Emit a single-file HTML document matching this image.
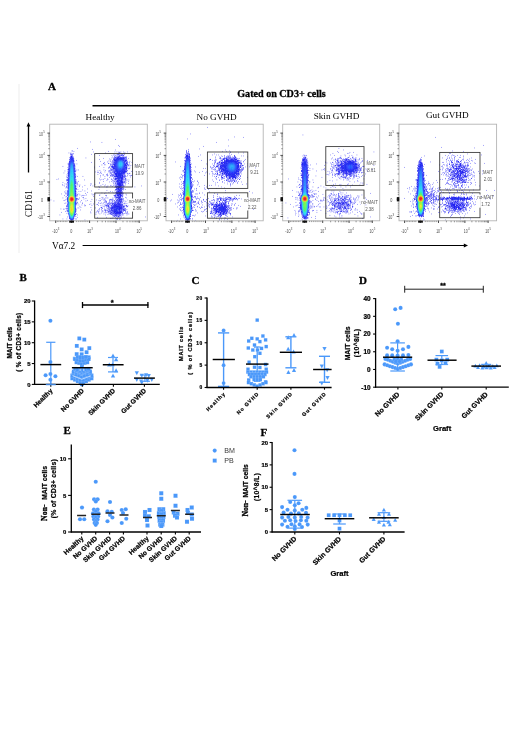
<!DOCTYPE html>
<html><head><meta charset="utf-8"><title>Figure</title>
<style>
html,body{margin:0;padding:0;background:#fff;}
body{width:520px;height:735px;overflow:hidden;font-family:"Liberation Sans",sans-serif;}
svg{display:block;will-change:transform;filter:blur(0.4px);}
.m{stroke:#fff;stroke-width:.3;stroke-opacity:.35;}
</style></head><body>
<svg width="520" height="735" viewBox="0 0 520 735">
<defs><filter id="soft" x="-2%" y="-2%" width="104%" height="104%"><feGaussianBlur stdDeviation="0.2"/></filter></defs>
<rect width="520" height="735" fill="#fff"/>
<text x="48" y="90" font-size="11" font-family='"Liberation Serif", serif' font-weight="bold" text-anchor="start" fill="#000" stroke="#000" stroke-width="0.3">A</text>
<text x="281.5" y="97.3" font-size="10.1" font-family='"Liberation Serif", serif' font-weight="bold" text-anchor="middle" fill="#000" stroke="#000" stroke-width="0.3">Gated on CD3+ cells</text>
<line x1="92.5" y1="105.7" x2="460" y2="105.7" stroke="#000" stroke-width="1.6" stroke-linecap="butt"/>
<line x1="28.5" y1="172.5" x2="28.5" y2="125.5" stroke="#000" stroke-width="1.3" stroke-linecap="butt"/>
<path d="M28.5 122.3L30.4 126.6L26.6 126.6Z" fill="#000"/>
<line x1="19" y1="84" x2="19" y2="253" stroke="#e9e9e9" stroke-width="0.8" stroke-linecap="butt"/>
<text x="31.6" y="203.5" font-size="9.3" font-family='"Liberation Serif", serif' font-weight="normal" text-anchor="middle" fill="#000" transform="rotate(-90 31.6 203.5)">CD161</text>
<text x="52" y="249" font-size="9.3" font-family='"Liberation Serif", serif' font-weight="normal" text-anchor="start" fill="#000">Vα7.2</text>
<line x1="82.6" y1="245.5" x2="465" y2="245.5" stroke="#000" stroke-width="1.2" stroke-linecap="butt"/>
<path d="M468 245.5L463.8 243.6L463.8 247.4Z" fill="#000"/>
<text x="100.1" y="119.6" font-size="9.2" font-family='"Liberation Serif", serif' font-weight="normal" text-anchor="middle" fill="#000">Healthy</text>
<g filter="url(#soft)">
<path d="M115.2 139.45h.5m-25.5 2.5h.5m11 .5h.5m16 3h.5m.5 1h.5m-42.5 2h.5m14.5 1h.5m22.5 .5h.5m-44 1h1m1 .5h.5m34 0h.5m-15.5 .5h.5m21 0h.5m1.5 0h.5m1.5 0h.5m1.5 0h.5m2 0h.5m3.5 0h.5m-9 .5h.5m.5 0h.5m4.5 0h.5m-56.5 .5h.5m1.5 0h.5m34 0h.5m13.5 0h.5m-46.5 .5h.5m44.5 0h.5m.5 0h.5m1 0h.5m2 0h.5m.5 0h.5m-54.5 .5h1m.5 0h1m44.5 0h.5m2 0h.5m1 0h.5m-51 .5h1m1 0h.5m18 0h.5m2.5 0h.5m19 0h.5m2.5 0h.5m1 0h1m2.5 0h1m1.5 0h.5m-54 .5h.5m.5 0h.5m42.5 0h.5m2 0h1m1 0h.5m.5 0h.5m1 0h.5m1.5 0h.5m-52 .5h.5m26.5 0h.5m12 0h.5m1.5 0h.5m1 0h.5m3 0h1m.5 0h.5m.5 0h1m.5 0h1m-53 .5h1.5m44 0h.5m5 0h.5m.5 0h1m-53 .5h2m41.5 0h.5m2.5 0h.5m.5 0h2m-50 .5h2m1 0h.5m38.5 0h.5m1.5 0h.5m.5 0h.5m.5 0h.5m1 0h.5m.5 0h.5m1 0h.5m1.5 0h.5m1 0h.5m.5 0h.5m.5 0h1m-57 .5h.5m.5 0h2m41.5 0h.5m.5 0h1m1 0h2.5m.5 0h1.5m.5 0h.5m.5 0h1m.5 0h1m.5 0h.5m-57 .5h1.5m.5 0h2m12 0h.5m25.5 0h.5m1 0h.5m1 0h.5m.5 0h4m.5 0h4.5m.5 0h.5m-55.5 .5h1m1 0h1.5m29.5 0h.5m10 0h.5m.5 0h.5m.5 0h.5m.5 0h2m3.5 0h2.5m.5 0h.5m.5 0h.5m1.5 0h.5m-58.5 .5h.5m2 0h.5m.5 0h.5m35 0h.5m4 0h1.5m.5 0h2.5m4.5 0h.5m.5 0h1m1.5 0h.5m-57.5 .5h1.5m2 0h1m25.5 0h.5m11 0h.5m2 0h2.5m.5 0h1m6 0h1m.5 0h.5m.5 0h.5m.5 0h.5m-54 .5h.5m41.5 0h2m6.5 0h1m.5 0h1m-53 .5h1m2 0h.5m36 0h.5m.5 0h3m8 0h2.5m-58 .5h1m3 0h1m34.5 0h.5m1 0h.5m1.5 0h.5m1 0h2.5m8.5 0h2m-57.5 .5h1m3.5 0h.5m26 0h.5m10 0h.5m1.5 0h.5m1 0h.5m.5 0h1m8.5 0h1m.5 0h.5m.5 0h.5m2 0h.5m-61 .5h.5m4 0h.5m33 0h.5m5 0h1m1 0h.5m9.5 0h1m1.5 0h.5m-58.5 .5h.5m21.5 0h.5m12.5 0h.5m7 0h.5m1.5 0h2m10.5 0h1m.5 0h.5m1 0h.5m2 0h.5m-63.5 .5h1m4 0h.5m38 0h.5m.5 0h.5m1 0h.5m10.5 0h1m.5 0h.5m-58.5 .5h.5m4 0h.5m29 0h1m4 0h1m1.5 0h.5m1.5 0h.5m1 0h1m10.5 0h2m-60 .5h2m4.5 0h1m1.5 0h.5m36 0h1m.5 0h.5m10 0h1.5m2.5 0h.5m-60.5 .5h.5m4.5 0h.5m30 0h.5m5 0h.5m.5 0h.5m.5 0h.5m.5 0h2m10 0h1m.5 0h1.5m7 0h.5m-67.5 .5h1.5m4.5 0h.5m27 0h.5m2.5 0h.5m5 0h.5m1.5 0h.5m1 0h1.5m10 0h1m1.5 0h.5m.5 0h.5m-60 .5h.5m4.5 0h1m35.5 0h.5m3 0h1m10 0h2m.5 0h1m2 0h.5m-63 .5h.5m.5 0h.5m4.5 0h.5m37 0h1.5m.5 0h1.5m10 0h1.5m3 0h.5m6.5 0h.5m-74.5 .5h.5m5.5 0h.5m5.5 0h.5m24 0h.5m10 0h.5m1 0h2.5m.5 0h1m10 0h.5m.5 0h.5m1 0h.5m-59.5 .5h.5m5 0h1m19 0h.5m15 0h.5m1.5 0h.5m.5 0h1m.5 0h1m10.5 0h1.5m-59.5 .5h.5m.5 0h.5m34.5 0h.5m5 0h.5m2 0h3m10 0h2.5m-58.5 .5h.5m5 0h1m19 0h.5m13.5 0h1m2.5 0h.5m1 0h.5m.5 0h1m10 0h.5m.5 0h1m2.5 0h.5m-61.5 .5h.5m5 0h1m35.5 0h.5m1.5 0h2.5m9.5 0h1m.5 0h1m1 0h.5m.5 0h.5m-61.5 .5h1m5.5 0h.5m35 0h.5m2 0h2m10 0h2.5m1.5 0h.5m-61.5 .5h1.5m5 0h1m35.5 0h1m.5 0h.5m1 0h.5m.5 0h1m8.5 0h1m.5 0h1m-59 .5h.5m.5 0h.5m5.5 0h.5m1.5 0h.5m1 0h.5m25 0h.5m7 0h.5m.5 0h.5m.5 0h.5m.5 0h.5m.5 0h.5m8.5 0h.5m.5 0h1.5m-58 .5h.5m5 0h.5m25 0h.5m5 0h.5m3.5 0h.5m.5 0h.5m.5 0h.5m1 0h.5m.5 0h.5m.5 0h1m8 0h1.5m.5 0h.5m.5 0h1m-63 .5h.5m3 0h1m5 0h2m21.5 0h.5m10 0h.5m1 0h.5m1.5 0h.5m1.5 0h1m.5 0h1m7.5 0h1m.5 0h1m-58.5 .5h.5m.5 0h.5m5 0h1m37.5 0h.5m1 0h.5m.5 0h1m7 0h4m4 0h.5m-63.5 .5h1m5.5 0h1m19.5 0h.5m5 0h.5m3.5 0h.5m3.5 0h1m.5 0h.5m2 0h3m7.5 0h2.5m.5 0h.5m-58.5 .5h1m28 0h.5m.5 0h.5m1.5 0h.5m9.5 0h.5m1 0h.5m.5 0h.5m1 0h1m1 0h.5m6 0h3m-62 .5h.5m3.5 0h1.5m42.5 0h.5m1.5 0h2m.5 0h.5m6 0h2m2 0h.5m-59.5 .5h1m6 0h.5m24.5 0h.5m1 0h.5m8.5 0h.5m.5 0h.5m2 0h.5m.5 0h2.5m5 0h1.5m.5 0h1m2 0h.5m1.5 0h1m-62.5 .5h1m6 0h1m31.5 0h.5m2 0h.5m4.5 0h2.5m5 0h2m.5 0h.5m2 0h.5m.5 0h.5m-60.5 .5h.5m6 0h1m22 0h.5m8.5 0h.5m4 0h.5m.5 0h.5m.5 0h.5m1 0h2.5m4.5 0h.5m.5 0h.5m.5 0h.5m-57.5 .5h.5m1 0h.5m34 0h1m2.5 0h.5m.5 0h.5m3.5 0h.5m.5 0h.5m1 0h.5m.5 0h.5m.5 0h1.5m4.5 0h1.5m1 0h1m-57.5 .5h1m6 0h.5m25 0h.5m7 0h.5m2 0h1m1.5 0h1m2 0h2m4 0h1.5m1 0h.5m.5 0h.5m1.5 0h.5m2 0h.5m.5 0h1m-63.5 .5h.5m6 0h1.5m31 0h.5m4 0h1m1 0h1m.5 0h2.5m3.5 0h2.5m1 0h.5m-58.5 .5h.5m1 0h.5m6.5 0h.5m1.5 0h.5m5 0h.5m21.5 0h.5m5.5 0h.5m1.5 0h.5m1 0h4m3.5 0h1.5m.5 0h.5m.5 0h1m1 0h.5m-59 .5h.5m6 0h1m24.5 0h.5m13.5 0h.5m.5 0h3m3 0h1.5m.5 0h2m5 0h.5m-64 .5h1m7 0h1m33.5 0h.5m7.5 0h1m3 0h2m.5 0h.5m.5 0h.5m-57.5 .5h.5m6.5 0h.5m38 0h1m1 0h.5m1 0h.5m.5 0h.5m2.5 0h2m-54.5 .5h.5m6 0h.5m29.5 0h.5m9.5 0h3.5m2.5 0h2.5m.5 0h.5m1 0h1m-68 .5h.5m9 0h1m6.5 0h.5m23.5 0h.5m7.5 0h.5m3.5 0h.5m2 0h.5m1 0h.5m.5 0h1m.5 0h1m2.5 0h1.5m1 0h.5m1 0h.5m-69 .5h.5m9 0h.5m.5 0h.5m.5 0h.5m6 0h1m26 0h.5m1 0h.5m4 0h.5m3 0h.5m2.5 0h.5m.5 0h1m.5 0h.5m.5 0h1m2.5 0h1.5m.5 0h.5m.5 0h.5m.5 0h.5m1 0h.5m-60 .5h1.5m6 0h.5m1 0h.5m7.5 0h.5m15.5 0h.5m11.5 0h.5m2 0h1.5m.5 0h.5m.5 0h1m2 0h2.5m2 0h.5m3 0h.5m-63 .5h.5m.5 0h1.5m6 0h1m31 0h.5m5.5 0h.5m.5 0h.5m2.5 0h2m2 0h1.5m.5 0h.5m3.5 0h.5m-60.5 .5h.5m1 0h.5m6 0h.5m41.5 0h2m1.5 0h2m1.5 0h.5m.5 0h1m-57.5 .5h.5m6 0h1.5m2 0h.5m24.5 0h.5m7.5 0h.5m2 0h1m1 0h1m.5 0h1.5m1.5 0h3m1 0h.5m3.5 0h.5m-61 .5h1m6 0h.5m1.5 0h.5m32 0h.5m3 0h.5m2.5 0h3.5m1 0h2.5m.5 0h.5m.5 0h.5m1 0h.5m-63.5 .5h.5m4 0h1m6.5 0h1m23.5 0h.5m14 0h.5m1.5 0h.5m1 0h.5m.5 0h1m1 0h3.5m.5 0h.5m1 0h.5m-58.5 .5h1m6.5 0h1.5m.5 0h.5m37.5 0h.5m1.5 0h1m.5 0h1.5m.5 0h2.5m1 0h.5m-57 .5h1m6.5 0h1m23 0h.5m13.5 0h.5m1.5 0h.5m1 0h5m.5 0h.5m2.5 0h.5m2.5 0h.5m-64 .5h.5m1 0h.5m1 0h.5m9 0h.5m12.5 0h.5m.5 0h.5m23 0h1m.5 0h.5m.5 0h.5m.5 0h3.5m.5 0h1.5m-61.5 .5h.5m5 0h1m26 0h.5m7.5 0h.5m13.5 0h4.5m.5 0h1m-56 .5h.5m1 0h.5m7 0h.5m.5 0h.5m.5 0h.5m1.5 0h.5m25 0h.5m8 0h.5m1.5 0h.5m.5 0h.5m1 0h5m2 0h.5m-63 .5h.5m4.5 0h.5m7 0h.5m9 0h.5m5 0h.5m10 0h.5m9.5 0h.5m2.5 0h.5m2 0h.5m1.5 0h4.5m.5 0h.5m-59.5 .5h.5m3 0h.5m7 0h.5m3.5 0h.5m13 0h.5m11 0h.5m3 0h.5m2.5 0h.5m4 0h1m.5 0h1.5m.5 0h2.5m1.5 0h1m.5 0h.5m16.5 0h.5m-75.5 .5h.5m1 0h.5m7 0h1m3 0h.5m19 0h.5m7.5 0h.5m5 0h.5m2.5 0h1.5m.5 0h4.5m.5 0h.5m1 0h.5m-58 .5h.5m8.5 0h.5m1 0h.5m5 0h.5m33.5 0h2m.5 0h.5m.5 0h1m.5 0h.5m1.5 0h.5m11 0h.5m-68.5 .5h.5m.5 0h.5m7 0h.5m23.5 0h.5m7 0h.5m7.5 0h.5m.5 0h1m1 0h3m.5 0h1.5m-57 .5h.5m1.5 0h.5m7 0h.5m40.5 0h1m.5 0h2.5m.5 0h.5m1 0h.5m.5 0h.5m-56 .5h.5m7 0h1.5m39.5 0h.5m.5 0h2m.5 0h2.5m.5 0h.5m-48 .5h.5m.5 0h.5m10.5 0h.5m29 0h2.5m.5 0h2.5m1 0h1m-49 .5h.5m.5 0h.5m1 0h.5m20.5 0h.5m16 0h2m.5 0h3m1 0h1m2.5 0h.5m-58 .5h.5m7 0h.5m6.5 0h.5m33 0h.5m.5 0h.5m.5 0h1m.5 0h.5m.5 0h2m1 0h.5m-56.5 .5h.5m7.5 0h.5m31 0h.5m8.5 0h.5m1.5 0h.5m.5 0h3m-56 .5h.5m1.5 0h.5m7 0h1m8.5 0h.5m6 0h.5m23 0h.5m1.5 0h3.5m1 0h1m-55 .5h1m7 0h1m2.5 0h.5m1.5 0h.5m29 0h.5m6 0h.5m.5 0h1.5m.5 0h1.5m.5 0h.5m-58 .5h.5m10.5 0h1m36 0h.5m3.5 0h4.5m.5 0h.5m.5 0h.5m-57 .5h.5m1 0h.5m7.5 0h.5m11.5 0h.5m21 0h.5m6 0h.5m.5 0h1.5m.5 0h4m.5 0h.5m-56 .5h1m7 0h.5m1 0h.5m24.5 0h.5m3.5 0h.5m7.5 0h.5m1.5 0h3m.5 0h2.5m.5 0h.5m-57 .5h.5m9 0h1m9 0h.5m18.5 0h.5m11.5 0h6.5m.5 0h.5m-62.5 .5h.5m4 0h.5m.5 0h1.5m7 0h1m2.5 0h.5m12.5 0h.5m3 0h.5m20 0h.5m.5 0h1.5m.5 0h2.5m1.5 0h.5m2.5 0h.5m-58.5 .5h.5m7 0h.5m1.5 0h.5m16 0h.5m21 0h.5m.5 0h.5m.5 0h.5m.5 0h3m.5 0h.5m-55 .5h.5m7.5 0h1.5m.5 0h.5m2 0h.5m6 0h.5m6 0h.5m6.5 0h.5m16.5 0h4.5m1 0h1m3 0h.5m-62.5 .5h.5m2.5 0h1m7 0h1m6 0h.5m.5 0h.5m1 0h.5m14 0h.5m5.5 0h.5m.5 0h.5m7 0h2.5m.5 0h2.5m.5 0h2.5m-54.5 .5h.5m7 0h.5m.5 0h.5m.5 0h.5m3.5 0h.5m24.5 0h.5m8.5 0h.5m1.5 0h.5m.5 0h1m.5 0h1.5m.5 0h.5m.5 0h.5m-57 .5h.5m8.5 0h1m17 0h.5m22 0h.5m2 0h1.5m.5 0h1m1 0h.5m-57 .5h.5m9.5 0h.5m38 0h2.5m.5 0h1m1 0h2m.5 0h1m-55.5 .5h.5m15 0h1m18 0h.5m.5 0h.5m13 0h4.5m4.5 0h.5m-63 .5h.5m4 0h.5m8 0h.5m3 0h.5m25.5 0h.5m1 0h.5m.5 0h.5m4.5 0h.5m2 0h.5m.5 0h1m1.5 0h2m5.5 0h.5m-59.5 .5h.5m8 0h2m8 0h.5m13.5 0h.5m2.5 0h.5m15 0h1.5m1 0h1m.5 0h.5m.5 0h.5m-57 .5h1m11 0h.5m4.5 0h.5m20 0h.5m8 0h.5m2 0h.5m1 0h1m.5 0h1.5m.5 0h1.5m-56 .5h.5m1 0h.5m8 0h1m.5 0h.5m.5 0h.5m13 0h.5m9.5 0h.5m2.5 0h.5m5 0h1.5m1 0h.5m2.5 0h.5m1 0h.5m1.5 0h3.5m.5 0h.5m-73 .5h.5m16 0h.5m8 0h1m19.5 0h.5m6.5 0h.5m5.5 0h1m2 0h.5m4 0h3.5m.5 0h.5m.5 0h.5m5.5 0h.5m12 0h.5m-77 .5h.5m.5 0h.5m2 0h.5m8 0h.5m5 0h.5m5.5 0h.5m11 0h.5m1 0h.5m4 0h.5m6.5 0h.5m1.5 0h1m1.5 0h1m1.5 0h2m.5 0h.5m-68 .5h.5m13 0h.5m8 0h.5m.5 0h.5m8.5 0h.5m13.5 0h.5m5 0h1m3 0h.5m1 0h.5m1 0h.5m2 0h.5m1 0h.5m.5 0h2m1.5 0h1.5m.5 0h1m1 0h.5m-58 .5h1m22.5 0h.5m15 0h.5m5.5 0h.5m2 0h.5m.5 0h.5m2.5 0h3m4 0h.5m-58.5 .5h.5m7 0h1m4 0h.5m13.5 0h.5m9.5 0h.5m.5 0h.5m.5 0h.5m2.5 0h.5m4 0h.5m1 0h.5m.5 0h3m.5 0h.5m1 0h.5m.5 0h.5m-55 .5h.5m7 0h.5m1 0h1m20.5 0h.5m6 0h.5m1 0h.5m3 0h.5m1 0h.5m2.5 0h1.5m.5 0h.5m1 0h1.5m.5 0h1.5m.5 0h.5m6.5 0h.5m-63.5 .5h.5m1.5 0h.5m7 0h1m6 0h.5m18.5 0h.5m1.5 0h.5m4.5 0h.5m1 0h.5m2 0h1m2 0h.5m1 0h1m2 0h1m1 0h1m2 0h.5m-60.5 .5h.5m2.5 0h.5m7 0h1.5m1 0h.5m4 0h.5m16 0h.5m1 0h.5m7 0h1m.5 0h.5m1 0h.5m.5 0h1m.5 0h1.5m.5 0h1m1 0h3m.5 0h.5m2.5 0h.5m.5 0h.5m1.5 0h.5m4 0h.5m-64.5 .5h.5m7.5 0h.5m.5 0h.5m14 0h.5m2 0h.5m9 0h.5m2.5 0h.5m.5 0h1m2.5 0h1m.5 0h.5m.5 0h.5m.5 0h1m.5 0h.5m.5 0h3m.5 0h1m.5 0h.5m3 0h.5m4 0h.5m-62.5 .5h1m7 0h1m13 0h.5m7 0h1m9.5 0h.5m1.5 0h.5m2.5 0h1m.5 0h2m.5 0h1.5m.5 0h2.5m.5 0h1.5m-47.5 .5h.5m1 0h.5m1.5 0h.5m2.5 0h.5m2 0h.5m19.5 0h.5m1 0h.5m2 0h1m.5 0h.5m2 0h.5m1.5 0h3m.5 0h3.5m1 0h1m-57 .5h.5m.5 0h.5m7.5 0h.5m9.5 0h.5m6 0h.5m6 0h.5m2 0h.5m4 0h.5m.5 0h1m.5 0h1m2 0h1.5m.5 0h4m.5 0h1.5m.5 0h3.5m1 0h.5m1.5 0h1.5m1 0h.5m-61.5 .5h1m7 0h.5m9 0h.5m17.5 0h.5m2.5 0h1m.5 0h1.5m5 0h.5m.5 0h5m5 0h.5m-59 .5h1m.5 0h.5m7 0h.5m4 0h.5m23.5 0h.5m3.5 0h1.5m2.5 0h1m.5 0h9m.5 0h2m1.5 0h.5m.5 0h1m-60.5 .5h.5m7 0h.5m28.5 0h.5m1.5 0h.5m2.5 0h.5m1 0h4.5m.5 0h4.5m.5 0h1m.5 0h1.5m3 0h.5m-52 .5h.5m5 0h.5m9.5 0h.5m9.5 0h1.5m6.5 0h.5m.5 0h.5m.5 0h.5m.5 0h4.5m2 0h4m1 0h.5m-57 .5h.5m.5 0h.5m7 0h.5m2 0h.5m.5 0h.5m16 0h.5m11 0h.5m1 0h1m1.5 0h2m1.5 0h.5m.5 0h.5m3 0h3m.5 0h1m.5 0h1m-59 .5h.5m.5 0h.5m.5 0h.5m7 0h1m23 0h.5m2 0h1m4.5 0h.5m1.5 0h.5m.5 0h.5m.5 0h3.5m.5 0h.5m3 0h4m2 0h1m-65 .5h.5m2.5 0h.5m2.5 0h.5m.5 0h.5m7 0h.5m28.5 0h.5m3.5 0h.5m1.5 0h1.5m.5 0h.5m1 0h1.5m3.5 0h3m1.5 0h1m-60.5 .5h.5m11 0h1m22.5 0h.5m2 0h.5m3.5 0h.5m3 0h1m1.5 0h1m1 0h.5m.5 0h1m3.5 0h1.5m1 0h.5m1 0h2m2 0h.5m-60.5 .5h.5m.5 0h.5m7 0h.5m.5 0h.5m3.5 0h.5m10.5 0h.5m7.5 0h.5m4.5 0h.5m2 0h.5m.5 0h.5m1.5 0h.5m1 0h4m3.5 0h4.5m1.5 0h1.5m-58.5 .5h.5m7 0h.5m29 0h1m1 0h.5m.5 0h.5m1.5 0h.5m.5 0h1m.5 0h1.5m.5 0h1.5m3 0h1m.5 0h.5m.5 0h.5m1.5 0h2m-58.5 .5h1.5m7 0h1m21 0h1m3 0h.5m.5 0h1m2 0h1m1.5 0h.5m1 0h1.5m.5 0h1m.5 0h.5m.5 0h2.5m2.5 0h1.5m1 0h.5m1 0h.5m2 0h.5m-60.5 .5h.5m2 0h.5m7 0h1m22.5 0h.5m9 0h1m.5 0h.5m2 0h.5m.5 0h3.5m.5 0h1.5m.5 0h2.5m1.5 0h.5m3.5 0h.5m-60 .5h.5m22 0h.5m5.5 0h.5m1.5 0h.5m4 0h.5m2 0h.5m2 0h.5m.5 0h.5m.5 0h2m.5 0h1.5m.5 0h4.5m.5 0h3.5m2.5 0h1m-65 .5h.5m13.5 0h.5m29 0h.5m1.5 0h.5m1.5 0h.5m1.5 0h1m2 0h1.5m.5 0h7m4.5 0h.5m-52.5 .5h.5m15 0h.5m4.5 0h.5m2 0h.5m2.5 0h.5m4 0h.5m2.5 0h.5m1.5 0h10.5m5.5 0h.5m-60.5 .5h.5m1 0h.5m6 0h.5m1 0h.5m33 0h1m2 0h1m1 0h6.5m1 0h.5m1.5 0h.5m1 0h.5m.5 0h.5m-59 .5h.5m31 0h.5m3.5 0h.5m4.5 0h.5m.5 0h1.5m.5 0h.5m.5 0h1m.5 0h2.5m.5 0h.5m.5 0h1.5m1 0h.5m1 0h1.5m4 0h.5m.5 0h.5m-54.5 .5h1.5m19.5 0h.5m11.5 0h.5m3 0h1m3 0h.5m.5 0h.5m.5 0h.5m2 0h.5m1.5 0h.5m-62.5 .5h.5m8.5 0h.5m5.5 0h1m1.5 0h.5m27.5 0h.5m6.5 0h1m.5 0h1.5m.5 0h1.5m.5 0h3m6 0h.5m-53 .5h.5m38.5 0h.5m1 0h1.5m.5 0h.5m.5 0h.5m1 0h.5m1 0h.5m1.5 0h.5m-54.5 .5h.5m5 0h.5m38 0h.5m.5 0h.5m2 0h1m2.5 0h.5m.5 0h.5m-52 .5h.5m5 0h.5m.5 0h.5m38 0h1m1 0h.5m1 0h1.5m-52 .5h.5m1.5 0h.5m4 0h.5m39.5 0h.5m1.5 0h.5m1.5 0h1m.5 0h.5m1.5 0h.5m23.5 0h.5m-76.5 .5h.5m7.5 0h.5m19.5 0h.5m8.5 0h.5m8.5 0h.5m2 0h.5m2.5 0h.5m2.5 0h.5m-55 .5h.5m4 0h.5m38.5 0h.5m6 0h.5m-50.5 .5h1m3 0h1m36 0h.5m1 0h.5m4.5 0h1m3 0h.5m-58.5 .5h.5m3.5 0h.5m2.5 0h.5m5 0h.5m.5 0h.5m39 0h1m3.5 0h.5m-50.5 .5h.5m2 0h1m43.5 0h.5m1.5 0h.5m-49 .5h.5m1 0h.5m12 0h.5m-17 .5h.5m1.5 0h.5m.5 0h.5m.5 0h1m1.5 0h.5" stroke="rgb(10,10,240)" stroke-width="0.72" fill="none"/>
<path d="M71.2 158.45h1m46.5 0h3.5m-51.5 .5h2m45.5 0h4.5m-52 .5h2m44.5 0h2m3 0h1m-53 .5h.5m.5 0h2m44 0h1m4.5 0h1m-53.5 .5h1m1.5 0h.5m43.5 0h1m5.5 0h1m-54 .5h.5m2 0h.5m43 0h1m6.5 0h1m-54.5 .5h.5m2.5 0h.5m42.5 0h1m6.5 0h1m-55 .5h.5m3 0h.5m42 0h1m7.5 0h.5m-55 .5h.5m3 0h.5m42 0h1m7.5 0h1m-55.5 .5h.5m45 0h1.5m7.5 0h.5m-55 .5h.5m3 0h.5m41.5 0h1m8.5 0h.5m-55.5 .5h.5m45 0h1m8.5 0h.5m-10 .5h1m8.5 0h.5m-51.5 .5h.5m41 0h.5m9 0h.5m-51.5 .5h.5m41 0h1m8.5 0h.5m-51.5 .5h.5m41 0h1m8 0h1m-56 .5h.5m4 0h.5m41 0h1m8 0h1m-56 .5h.5m4 0h.5m41 0h1m8 0h1m-51.5 .5h.5m41 0h1m8 0h.5m-55.5 .5h.5m4 0h.5m41 0h.5m8 0h1m-55.5 .5h.5m4 0h.5m41 0h1.5m7 0h1m-55.5 .5h.5m4 0h.5m41 0h1.5m6.5 0h1.5m-55.5 .5h.5m46 0h1m6.5 0h1m-55 .5h.5m46 0h1.5m5.5 0h1.5m-55 .5h.5m46 0h1.5m5 0h1.5m-7.5 .5h1.5m4.5 0h1.5m-7.5 .5h2m3.5 0h1.5m-7 .5h2m3 0h2m-49 .5h.5m42 0h2m2 0h2m-48.5 .5h.5m42 0h6m-54 .5h.5m5 0h.5m42.5 0h5m-53.5 .5h.5m5 0h.5m42.5 0h5m-53.5 .5h.5m5 0h.5m42.5 0h4.5m-53 .5h.5m5 0h.5m43 0h4m-53 .5h.5m5 0h.5m43 0h4m-53 .5h.5m5 0h.5m43 0h3.5m-52.5 .5h.5m5 0h.5m43.5 0h3m-52.5 .5h.5m5 0h.5m43.5 0h1m.5 0h1.5m-52.5 .5h.5m49 0h3m-52.5 .5h.5m49 0h2.5m-52 .5h.5m49 0h2.5m-52 .5h.5m49.5 0h.5m.5 0h.5m-51.5 .5h.5m49.5 0h1m.5 0h.5m-2 .5h2m-2 .5h2m-1.5 .5h1m-1.5 .5h.5m.5 0h.5m-1 .5h1m-1 .5h1m-45.5 .5h.5m-.5 .5h.5m-.5 .5h.5m-.5 .5h.5m-.5 .5h.5m-7 .5h.5m6 0h.5m-7 .5h.5m6 0h.5m-7 .5h.5m6 0h.5m-7 .5h.5m6 0h.5m-7 .5h.5m6 0h.5m-7 .5h.5m6 0h.5m-7 .5h.5m6 0h.5m-7 .5h.5m6 0h.5m-7 .5h.5m6 0h.5m-.5 .5h.5m-7 .5h.5m6 0h.5m-7 .5h.5m6 0h.5m-7 .5h.5m6 0h.5m-7 .5h.5m-.5 .5h.5m-.5 .5h.5m-.5 .5h.5m-.5 .5h.5m-.5 .5h.5m-.5 .5h.5m-.5 1h.5m-1 1.5h.5m7 0h.5m-8 .5h.5m-.5 .5h.5m-.5 .5h.5m-.5 .5h.5m-.5 .5h.5m-.5 .5h.5m7 .5h.5m-.5 .5h.5m-7.5 1h.5m-.5 .5h.5m47.5 4.5h2m-2.5 .5h1m.5 0h1.5m-3 .5h3m-3.5 .5h3.5m-3.5 .5h2m.5 0h1m-3.5 .5h3.5m-3 .5h1.5m.5 0h.5m-2 .5h2m-50 .5h.5m48 0h.5m-49 .5h.5m6 .5h.5m-.5 .5h.5m-6.5 1h.5m-.5 .5h.5m5 0h.5m-.5 .5h.5m-5.5 1h.5m4 .5h.5m-4.5 1h.5m-.5 .5h.5m3 0h.5m-3.5 1h.5m2 0h.5m-2.5 .5h.5m1 0h.5m-1.5 .5h1" stroke="rgb(10,20,240)" stroke-width="0.72" fill="none"/>
<path d="M119.2 159.45h3m-4 .5h1m3 0h.5m-51.5 .5h1.5m45 0h.5m4.5 0h.5m-52.5 .5h.5m1 0h.5m44.5 0h.5m5.5 0h.5m-51 .5h.5m44 0h.5m-47.5 .5h.5m2 0h.5m43.5 0h.5m6.5 0h.5m-54 .5h.5m46 0h.5m6.5 0h.5m-8 1h.5m7.5 0h.5m-51.5 .5h.5m42.5 0h.5m7.5 0h.5m-55 .5h.5m3 0h.5m42.5 0h.5m7.5 0h.5m-55 .5h.5m3 0h.5m42.5 0h.5m7.5 0h.5m-55 .5h.5m46 0h.5m7.5 0h.5m-55 .5h.5m46 0h.5m-.5 .5h.5m7 0h.5m-8 .5h.5m7 0h.5m-8 .5h.5m7 0h.5m-8 .5h1m6 0h.5m-7 .5h.5m6 0h.5m-7 .5h.5m5.5 0h.5m-49.5 .5h.5m42.5 0h1m4.5 0h1m-49.5 .5h.5m43 0h1m3.5 0h1m-49 .5h.5m43 0h1m3 0h1m-53 .5h.5m4 0h.5m43.5 0h1m2 0h1.5m-53 .5h.5m48.5 0h3.5m-52.5 .5h.5m48.5 0h3m-52 .5h.5m49 0h1.5m-46 5h.5m-.5 .5h.5m-.5 .5h.5m-.5 .5h.5m-.5 .5h.5m-6 .5h.5m5 0h.5m-6 .5h.5m-.5 .5h.5m-.5 .5h.5m-.5 .5h.5m-.5 .5h.5m5.5 9.5h.5m-.5 .5h.5m-.5 .5h.5m-.5 .5h.5m-.5 .5h.5m-.5 .5h.5m-.5 .5h.5m-.5 .5h.5m-.5 .5h.5m-7 .5h.5m6.5 1.5h.5m-.5 .5h.5m-.5 1.5h.5m-.5 .5h.5m-7.5 1.5h.5m6 .5h.5m-.5 .5h.5m-7 .5h.5m-.5 .5h.5m-.5 6.5h.5m-.5 .5h.5m6 .5h.5m-.5 .5h.5m-6.5 1.5h.5m5 .5h.5m-5.5 1.5h.5m4 .5h.5m-1 1.5h.5m-3.5 1h.5m2 0h.5m-2.5 .5h.5m0 .5h1" stroke="rgb(10,20,250)" stroke-width="0.72" fill="none"/>
<path d="M119.2 159.95h.5m2.5 .5h.5m0 .5h.5m-51 .5h.5m44.5 .5h.5m6 1h.5m-7.5 .5h.5m6.5 2h.5m-51 .5h.5m43 .5h.5m-47.5 .5h.5m46.5 0h.5m0 1.5h.5m4.5 .5h.5m-5 .5h.5m3.5 0h.5m-4 .5h.5m2.5 0h.5m-3 .5h.5m1.5 0h.5m-47.5 2h.5m-5 1h.5m4.5 8h.5m-6 2h.5m-.5 .5h.5" stroke="rgb(0,30,250)" stroke-width="0.72" fill="none"/>
<path d="M119.7 159.95h.5m.5 0h1m-3 .5h.5m-1 .5h.5m-47.5 .5h1m45.5 0h.5m-47.5 .5h.5m1 0h.5m50.5 0h.5m-6.5 .5h.5m-45 .5h.5m-3 .5h.5m53 0h.5m-7.5 .5h.5m6.5 0h.5m-7.5 .5h.5m6.5 0h.5m-7.5 .5h.5m6.5 0h.5m-7.5 .5h.5m-.5 .5h.5m-44 .5h.5m49.5 .5h.5m-54 .5h.5m-.5 .5h.5m47 0h.5m5 0h.5m-1 .5h.5m-5 .5h.5m0 .5h.5m2.5 0h.5m-3 .5h.5m1.5 0h.5m-2 .5h1.5m-47 2.5h.5m-5 1h.5m-.5 .5h.5m4.5 7.5h.5m-.5 .5h.5m-.5 .5h.5m-6 1.5h.5m-.5 .5h.5m-.5 .5h.5m5.5 11h.5m-.5 7.5h.5m-.5 .5h.5m-.5 6h.5m-1.5 5h.5m-3 3.5h.5" stroke="rgb(0,40,250)" stroke-width="0.72" fill="none"/>
<path d="M120.2 159.95h.5m1 .5h.5m.5 1h.5m-52 .5h1m-1.5 .5h.5m52 0h.5m-6.5 .5h.5m-45 .5h.5m-3 .5h.5m52.5 2.5h.5m-50.5 .5h.5m43.5 0h.5m-44.5 .5h.5m43.5 0h.5m5 0h.5m-53.5 1h.5m47.5 0h.5m-48.5 .5h.5m48 0h.5m3 0h.5m-3.5 .5h.5m1.5 0h.5m-2 .5h1.5m-47 3.5h.5m-.5 .5h.5m-5 1h.5m-.5 .5h.5m4.5 8h.5m-.5 .5h.5m-6 2h.5m-.5 .5h.5m-.5 .5h.5m-1 10h.5m6 5h.5m-.5 3h.5m-.5 .5h.5m-.5 .5h.5m-.5 .5h.5m-.5 .5h.5m-.5 .5h.5m-.5 .5h.5m-.5 .5h.5m-.5 .5h.5m-.5 .5h.5m-.5 .5h.5m-6.5 3h.5m5 .5h.5m-5.5 1.5h.5m3.5 2h.5m-3.5 1h.5m1 1h.5" stroke="rgb(0,50,250)" stroke-width="0.72" fill="none"/>
<path d="M121.7 159.95h.5m-4 .5h.5m-47.5 .5h1m45.5 0h.5m-47.5 .5h.5m1.5 1h.5m-3 .5h.5m46 0h.5m-44 2.5h.5m50 .5h.5m-54.5 .5h.5m46.5 1h.5m6 0h.5m-1 1h.5m-6 .5h.5m.5 1.5h.5m0 .5h2m-47 .5h.5m-.5 .5h.5m-5 1h.5m4.5 7.5h.5m-.5 .5h.5m-6 2h.5m6 16h.5m-.5 .5h.5m-1 4h.5m-7 1h.5m-.5 .5h.5m-.5 .5h.5m-.5 .5h.5m-.5 .5h.5m-.5 .5h.5m-.5 .5h.5m-.5 .5h.5m-.5 .5h.5m-.5 .5h.5m-.5 .5h.5m-.5 .5h.5m6 1h.5m-5.5 6h.5m2 2h.5" stroke="rgb(10,30,250)" stroke-width="0.72" fill="none"/>
<path d="M119.2 160.45h.5m2.5 .5h.5m-4.5 .5h.5m-1 .5h.5m-46 .5h.5m-2 .5h.5m46 .5h.5m-45 .5h.5m-3 .5h.5m46.5 1.5h.5m5.5 0h.5m-6.5 .5h.5m-44.5 1.5h.5m44 0h.5m4 0h.5m-49.5 .5h.5m44.5 0h.5m3 0h.5m-3.5 .5h.5m2 0h.5m-52 .5h.5m49 0h1.5m-47 5h.5m-.5 .5h.5m-5 1h.5m-.5 .5h.5m4.5 8h.5m-.5 .5h.5m-6 2.5h.5m-.5 .5h.5m-.5 .5h.5m-.5 .5h.5m-1 12.5h.5m1 15h.5m2.5 1.5h.5" stroke="rgb(0,60,250)" stroke-width="0.72" fill="none"/>
<path d="M119.7 160.45h2m-3 .5h.5m3.5 1h.5m-52 .5h1m45.5 0h.5m-46 .5h.5m50.5 0h.5m-.5 .5h.5m-6.5 .5h.5m-45 .5h.5m44 0h.5m-47.5 .5h.5m46.5 0h.5m-.5 .5h.5m5.5 0h.5m-6 1.5h.5m4.5 0h.5m-5.5 .5h.5m0 .5h.5m0 .5h.5m-46 .5h.5m45.5 0h2m-48 .5h.5m-4 .5h.5m-.5 .5h.5m3.5 5h.5m-5 1.5h.5m-.5 .5h.5m4.5 8h.5m-.5 .5h.5m-.5 .5h.5m-.5 .5h.5m-6 2.5h.5m-.5 .5h.5m-.5 .5h.5m1.5 28h.5" stroke="rgb(0,70,250)" stroke-width="0.72" fill="none"/>
<path d="M119.2 160.95h.5m2 0h.5m0 .5h.5m-4.5 .5h.5m-47.5 1h1m45.5 0h.5m-47.5 .5h.5m1 0h.5m50.5 .5h.5m-.5 .5h.5m-51 .5h.5m50 0h.5m-53.5 .5h.5m-.5 .5h.5m47 .5h.5m4.5 0h.5m-1 1h.5m-1 .5h.5m-1 .5h.5m-48.5 1.5h.5m-4 1h.5m-.5 .5h.5m3.5 4.5h.5m-.5 .5h.5m-5 1.5h.5m-.5 .5h.5m-.5 .5h.5m4.5 8.5h.5m-.5 .5h.5m-.5 .5h.5m-6 2.5h.5m-.5 .5h.5m5.5 5.5h.5m-1 16h.5m-1 2h.5m-1 1.5h.5m-1.5 2h.5" stroke="rgb(0,80,250)" stroke-width="0.72" fill="none"/>
<path d="M119.7 160.95h.5m.5 0h1m.5 1h.5m-4.5 .5h.5m4 .5h.5m-51.5 .5h.5m45.5 .5h.5m-47.5 .5h.5m46.5 0h.5m-.5 .5h.5m-.5 .5h.5m4.5 .5h.5m-50.5 .5h.5m-3 .5h.5m47.5 0h.5m-48.5 .5h.5m48 0h.5m2.5 0h.5m-3 .5h.5m1.5 0h.5m-48.5 3.5h.5m-4 1h.5m-.5 .5h.5m3.5 5.5h.5m-.5 .5h.5m-5 1.5h.5m4.5 10h.5m-.5 .5h.5m-6 2.5h.5m-.5 .5h.5m-.5 .5h.5m-.5 .5h.5m-.5 .5h.5m.5 20.5h.5m1 2.5h1" stroke="rgb(0,100,250)" stroke-width="0.72" fill="none"/>
<path d="M120.2 160.95h.5m-1.5 .5h.5m2 0h.5m-3.5 .5h.5m-1 1h.5m4 .5h.5m-52 .5h1m0 .5h.5m-2 .5h.5m51.5 0h.5m-.5 .5h.5m-5 1h.5m3.5 0h.5m-50 .5h.5m-.5 .5h.5m-3 .5h.5m49 0h1.5m-48 4h.5m-.5 .5h.5m-4 1h.5m3.5 6h.5m-.5 .5h.5m-5 1h.5m-.5 .5h.5m4.5 10h.5m-.5 .5h.5m-6.5 5.5h.5m0 14.5h.5m3.5 5.5h.5" stroke="rgb(0,110,250)" stroke-width="0.72" fill="none"/>
<path d="M118.7 161.45h.5m3.5 1h.5m-52 1h.5m46 0h.5m-47.5 .5h.5m1 0h.5m0 1.5h.5m-.5 .5h.5m44.5 0h.5m-48 .5h.5m51.5 .5h.5m-4.5 .5h.5m0 .5h.5m0 .5h2m-48 2h.5m-.5 .5h.5m-4 1h.5m3.5 5h.5m-.5 .5h.5m-.5 .5h.5m-5 1.5h.5m-.5 .5h.5m4.5 9h.5m-.5 .5h.5m-.5 .5h.5m-6 2h.5m-.5 .5h.5m-.5 .5h.5m-.5 3h.5m5.5 5.5h.5m-6.5 11h.5m0 2h.5m.5 3h.5" stroke="rgb(0,90,250)" stroke-width="0.72" fill="none"/>
<path d="M119.7 161.45h.5m1 0h.5m.5 1h.5m-4.5 1h.5m4 .5h.5m-52 .5h1m50.5 0h.5m-51 .5h.5m-2 .5h.5m1 0h.5m45.5 0h.5m-.5 .5h.5m3.5 0h.5m-4 1h.5m2.5 0h.5m-3 .5h1m.5 0h1m-49 .5h.5m-3 .5h.5m2 0h.5m-3 .5h.5m2.5 4h.5m-.5 .5h.5m-4 .5h.5m-.5 .5h.5m3.5 6h.5m-.5 .5h.5m-5 1h.5m-.5 .5h.5m4.5 10h.5m-.5 .5h.5m-.5 .5h.5m-.5 1.5h.5m-.5 .5h.5m-.5 .5h.5m-6.5 5h.5m0 1.5h.5m-.5 .5h.5m5 9.5h.5m-1 2h.5m-3.5 3.5h.5" stroke="rgb(0,120,250)" stroke-width="0.72" fill="none"/>
<path d="M120.2 161.45h1m-2 .5h.5m2 0h.5m-3.5 .5h.5m3 .5h.5m-4.5 1h.5m-.5 .5h.5m-47.5 .5h1m46 0h.5m-47.5 .5h.5m50.5 0h.5m-52 .5h.5m1 0h.5m-2 .5h.5m47.5 0h.5m2.5 0h.5m-3 .5h.5m1.5 0h.5m-1.5 .5h.5m-48 1.5h.5m-3 .5h.5m2 0h.5m-3 .5h.5m2.5 4h.5m-4 1h.5m-.5 .5h.5m3.5 6h.5m-.5 .5h.5m-5 1h.5m-.5 .5h.5m4.5 10.5h.5m-.5 .5h.5m-6 9h.5m-.5 8h.5m0 2.5h.5m3.5 2h.5m-3.5 1h.5m1.5 1h.5" stroke="rgb(0,130,250)" stroke-width="0.72" fill="none"/>
<path d="M119.7 161.95h.5m1 0h.5m0 .5h.5m-3.5 .5h.5m3 .5h.5m-.5 1.5h.5m-51 .5h.5m-1 .5h1m46.5 0h.5m-47 .5h.5m46.5 0h.5m-49 .5h.5m1 0h.5m47 0h1.5m-50.5 .5h.5m1.5 2.5h.5m-3 .5h.5m2 0h.5m-3 .5h.5m-.5 .5h.5m2.5 3h.5m-.5 .5h.5m-4 1h.5m-.5 .5h.5m3.5 6h.5m-.5 .5h.5m-5 1h.5m-.5 .5h.5m5 13h.5m-1 5h.5m-.5 .5h.5m-6 1h.5m-.5 7h.5m5 1h.5m-5 3.5h.5" stroke="rgb(0,140,250)" stroke-width="0.72" fill="none"/>
<path d="M120.2 161.95h1m-2 .5h.5m-1 1h.5m-.5 .5h.5m3 0h.5m-4 .5h.5m3 0h.5m-4 .5h.5m-.5 .5h.5m2.5 .5h.5m-51 .5h1m47.5 0h.5m1 0h.5m-50.5 .5h1m0 .5h.5m-2 .5h.5m1 0h.5m-2 .5h.5m1.5 2.5h.5m-.5 .5h.5m-3 .5h.5m2.5 3.5h.5m-.5 .5h.5m-4 1h.5m-.5 .5h.5m3.5 6h.5m-.5 .5h.5m-5 1h.5m-.5 .5h.5m-.5 .5h.5m-1 10.5h.5m-1 1.5h.5m-.5 2.5h.5m6 .5h.5m-1 2.5h.5m-6 1h.5m-.5 .5h.5m-.5 .5h.5m-.5 5h.5m5 1h.5m-1 2.5h.5m-1.5 3h.5m-2 1h.5" stroke="rgb(0,150,250)" stroke-width="0.72" fill="none"/>
<path d="M119.7 162.45h.5m1 0h.5m-2.5 .5h.5m2 0h.5m-.5 2.5h.5m-3 .5h.5m1.5 0h.5m-1.5 .5h1m-50 1h1m-1 .5h1m0 .5h.5m-2 .5h.5m1 0h.5m-2 .5h.5m1.5 2.5h.5m-3 .5h.5m-.5 .5h.5m2.5 3.5h.5m-.5 .5h.5m-4 1h.5m-.5 .5h.5m3.5 6h.5m-5 2h.5m-.5 .5h.5m-.5 .5h.5m-1 14.5h.5m-.5 4h.5m-.5 .5h.5m-.5 .5h.5m-.5 .5h.5m0 6h.5m2 4.5h.5" stroke="rgb(0,160,250)" stroke-width="0.72" fill="none"/>
<path d="M120.2 162.45h1m0 .5h.5m-2.5 .5h.5m2 0h.5m-.5 .5h.5m-.5 .5h.5m-3 .5h.5m2 0h.5m-3 .5h.5m0 .5h1.5m-50 2.5h1m-1 .5h.5m.5 .5h.5m-2 .5h.5m1 0h.5m-2 .5h.5m1.5 2h.5m-.5 .5h.5m-3 .5h.5m2.5 4h.5m-.5 .5h.5m-4 1h.5m-.5 .5h.5m3.5 5.5h.5m-.5 .5h.5m-.5 .5h.5m-5 2h.5m-.5 .5h.5m-.5 .5h.5m-1.5 9.5h.5m-.5 1.5h.5m5.5 4h.5m-.5 .5h.5m-6 3.5h.5m-.5 .5h.5m-.5 .5h.5m-.5 .5h.5m-.5 .5h.5m5 1h.5m-1.5 4.5h.5m-3.5 1h.5m0 1h.5" stroke="rgb(0,170,250)" stroke-width="0.72" fill="none"/>
<path d="M119.7 162.95h.5m.5 0h.5m-2 1h.5m-.5 .5h.5m0 1h.5m1 0h.5m-50 3.5h.5m-1 .5h1m0 1h.5m-2 .5h.5m1.5 2.5h.5m-3 .5h.5m-.5 .5h.5m2.5 4h.5m-.5 .5h.5m-4 1h.5m-.5 .5h.5m3.5 6h.5m-.5 .5h.5m-5 2.5h.5m-.5 .5h.5m4.5 6.5h.5m-6.5 2.5h.5m-.5 .5h.5m5.5 5.5h.5m-.5 .5h.5m-5 9.5h.5m2 2.5h.5" stroke="rgb(0,180,250)" stroke-width="0.72" fill="none"/>
<path d="M120.2 162.95h.5m-1 .5h2m-2 .5h2m-2 .5h2m-2 .5h2m-1.5 .5h1m-50 4.5h1m-1 .5h1m-1 .5h1.5m-2 .5h2m-2 .5h1m.5 0h.5m-2 .5h.5m1 0h.5m-2 .5h.5m1.5 1h.5m-.5 .5h.5m-3 .5h.5m2 0h.5m-3 .5h.5m-.5 .5h.5m2.5 3.5h.5m-.5 .5h.5m-.5 .5h.5m-4 .5h.5m-.5 .5h.5m-.5 .5h.5m3.5 5.5h.5m-.5 .5h.5m-.5 .5h.5m-.5 .5h.5m-.5 .5h.5m-.5 .5h.5m-5 .5h.5m-.5 .5h.5m-.5 .5h.5m-.5 .5h.5m-.5 .5h.5m-1 4.5h.5m5.5 1h.5m-.5 2.5h.5m-1 1.5h.5m-.5 4h.5m-.5 .5h.5m-.5 .5h.5m-.5 .5h.5m-.5 .5h.5m-.5 .5h.5m-.5 .5h.5m-.5 1h.5m-.5 .5h.5m-5.5 2.5h.5m4 .5h.5m-1.5 3h.5m-2 1h1" stroke="rgb(0,190,250)" stroke-width="0.72" fill="none"/>
<path d="M71.7 171.95h.5m0 1h.5m-2 .5h.5m1.5 2h.5m-3 1h.5m2.5 4.5h.5m-4 1.5h.5m3.5 8h.5m-5 2.5h.5m5 5.5h.5m-1 11h.5m-1.5 5.5h.5m-3 2h.5" stroke="rgb(0,200,250)" stroke-width="0.72" fill="none"/>
<path d="M71.2 172.45h1m-1 .5h1m-1 .5h1.5m-2 .5h2m-2 .5h1m.5 0h.5m-2 .5h.5m1 0h.5m-2 .5h.5m1.5 .5h.5m-.5 .5h.5m-3 .5h.5m2 0h.5m-3 .5h.5m2 0h.5m-3 .5h.5m2 0h.5m-3 .5h.5m-.5 .5h.5m2.5 2.5h.5m-.5 .5h.5m-.5 .5h.5m-4 .5h.5m3 0h.5m-4 .5h.5m-.5 .5h.5m-.5 .5h.5m3.5 6.5h.5m-.5 .5h.5m-.5 .5h.5m-.5 .5h.5m-.5 .5h.5m-5 .5h.5m4 0h.5m-5 .5h.5m-.5 .5h.5m-.5 .5h.5m-.5 .5h.5m-.5 .5h.5m5 3h.5m-.5 .5h.5m-.5 .5h.5m-6.5 1.5h.5m0 11h.5m4 .5h.5m-4.5 1.5h.5m0 1.5h.5m2 0h.5m-1 1h.5" stroke="rgb(0,200,240)" stroke-width="0.72" fill="none"/>
<path d="M71.7 174.45h.5m-1 .5h1m0 .5h.5m-2 .5h.5m1 0h.5m0 2.5h.5m-.5 .5h.5m-3 .5h.5m-.5 .5h.5m2.5 3.5h.5m-.5 .5h.5m-4 1h.5m-.5 .5h.5m3.5 8.5h.5m-.5 .5h.5m-.5 .5h.5m-.5 .5h.5m-.5 .5h.5m0 1h.5m-5.5 6h.5m1 13.5h.5m0 .5h1" stroke="rgb(0,210,240)" stroke-width="0.72" fill="none"/>
<path d="M71.2 175.45h1m-1 .5h1m-1.5 .5h2m-2 .5h.5m1 0h.5m-2 .5h.5m1 0h.5m-2 .5h.5m1.5 1.5h.5m-.5 .5h.5m-3 .5h.5m2 0h.5m-3 .5h.5m-.5 .5h.5m2.5 3h.5m-.5 .5h.5m-.5 .5h.5m-4 .5h.5m3 0h.5m-4 .5h.5m-.5 .5h.5m-.5 .5h.5m-.5 .5h.5m4 13.5h.5m-5.5 1h.5m-.5 1h.5m-.5 8.5h.5m4 .5h.5m-4.5 1.5h.5m3 .5h.5m-3.5 1h.5m1.5 1h.5" stroke="rgb(0,210,230)" stroke-width="0.72" fill="none"/>
<path d="M71.2 176.95h1m-1 .5h1m0 .5h.5m-2 .5h.5m1 0h.5m-2 .5h.5m1.5 2h.5m-.5 .5h.5m-3 .5h.5m2.5 4.5h.5m-.5 .5h.5m-4 1.5h.5m-.5 .5h.5m-.5 .5h.5m3.5 13h.5m-.5 .5h.5m-5 1h.5m-.5 7.5h.5m3 4h.5m-2 1h.5" stroke="rgb(0,220,230)" stroke-width="0.72" fill="none"/>
<path d="M71.2 177.95h1m-1 .5h1m-1 .5h1.5m-2 .5h.5m1 0h.5m-2 .5h.5m1 0h.5m-2 .5h.5m1.5 1.5h.5m-3 .5h.5m2 0h.5m-3 .5h.5m-.5 .5h.5m2.5 4h.5m-.5 .5h.5m-.5 .5h.5m-.5 .5h.5m-.5 .5h.5m-4 .5h.5m-.5 .5h.5m-.5 .5h.5m-1 5.5h.5m4 7h.5m-.5 .5h.5m-5 .5h.5m-.5 .5h.5m-.5 .5h.5m-.5 5.5h.5m4 1h.5m-1 2h.5m-3 2h.5m.5 .5h.5" stroke="rgb(0,220,220)" stroke-width="0.72" fill="none"/>
<path d="M71.2 179.45h.5m.5 1h.5m-3 11h.5m-1.5 6h.5m0 8.5h.5m0 7.5h.5m0 1.5h.5m1.5 1h.5" stroke="rgb(0,220,210)" stroke-width="0.72" fill="none"/>
<path d="M71.7 179.45h.5m.5 3.5h.5m0 7h.5" stroke="rgb(0,230,210)" stroke-width="0.72" fill="none"/>
<path d="M71.2 179.95h1m-1.5 1h.5m1 0h.5m0 2.5h.5m-3 .5h.5m2.5 6.5h.5m-4 1.5h.5m-.5 .5h.5m3.5 12h.5m-5 2h.5m4 5h.5" stroke="rgb(0,230,200)" stroke-width="0.72" fill="none"/>
<path d="M71.2 180.45h1m-2.5 12.5h.5m-1 9h.5m4 3h.5m-5 5.5h.5" stroke="rgb(10,230,190)" stroke-width="0.72" fill="none"/>
<path d="M71.2 180.95h1m0 1h.5m0 2.5h.5m-3 1h.5m2.5 6.5h.5m-4 2h.5m3.5 2.5h.5m-.5 9.5h.5m-5 2h.5m4 3h.5m-1 2.5h.5m-2.5 2.5h1" stroke="rgb(10,230,170)" stroke-width="0.72" fill="none"/>
<path d="M70.7 181.45h.5m-1 3h.5m2.5 6.5h.5m-4.5 16h.5" stroke="rgb(0,230,190)" stroke-width="0.72" fill="none"/>
<path d="M71.2 181.45h1m.5 3.5h.5m-3.5 10h.5m-.5 .5h.5" stroke="rgb(20,230,160)" stroke-width="0.72" fill="none"/>
<path d="M72.2 181.45h.5m-2 .5h.5m1.5 2h.5m-3 1h.5m2.5 6.5h.5m-4 2h.5m-1.5 7.5h.5m4.5 4.5h.5m-5 2h.5m3 7.5h.5" stroke="rgb(10,230,180)" stroke-width="0.72" fill="none"/>
<path d="M71.2 181.95h1m0 1h.5m0 3h.5m-3 1.5h.5m2.5 6h.5m0 8.5h.5m-.5 5h.5m-4 7.5h.5" stroke="rgb(20,230,140)" stroke-width="0.72" fill="none"/>
<path d="M70.7 182.45h.5m-1 3.5h.5m2.5 6.5h.5m-4 2h.5m-1 14h.5" stroke="rgb(10,230,160)" stroke-width="0.72" fill="none"/>
<path d="M71.2 182.45h.5m-1 1h.5m1.5 3h.5m-3 1.5h.5m2.5 6h.5m0 13.5h.5m-.5 3h.5m-2 5h.5" stroke="rgb(20,240,130)" stroke-width="0.72" fill="none"/>
<path d="M71.7 182.45h.5" stroke="rgb(30,240,130)" stroke-width="0.72" fill="none"/>
<path d="M72.2 182.45h.5m-2 .5h.5m1.5 2.5h.5m-3 1h.5m-.5 .5h.5m2.5 6h.5m-4 3h.5m3.5 10.5h.5m-5 2.5h.5m-.5 .5h.5m-.5 .5h.5m0 3h.5m.5 2.5h.5" stroke="rgb(20,230,150)" stroke-width="0.72" fill="none"/>
<path d="M71.2 182.95h1m0 1h.5m-2 .5h.5m1.5 3.5h.5m-3 1h.5m-.5 .5h.5m2.5 6.5h.5m0 12.5h.5" stroke="rgb(30,240,110)" stroke-width="0.72" fill="none"/>
<path d="M71.2 183.45h.5m1 5h.5m-3 1.5h.5m3.5 11h.5m-1.5 12h.5m-1 1.5h.5" stroke="rgb(30,240,100)" stroke-width="0.72" fill="none"/>
<path d="M71.7 183.45h.5m0 1h.5m-4 13.5h.5m4.5 11h.5m-.5 1h.5" stroke="rgb(40,240,100)" stroke-width="0.72" fill="none"/>
<path d="M72.2 183.45h.5m-2 .5h.5m1.5 3h.5m-.5 .5h.5m-3 1h.5m2.5 6h.5m-.5 .5h.5m-.5 .5h.5m0 12.5h.5" stroke="rgb(30,240,120)" stroke-width="0.72" fill="none"/>
<path d="M71.2 183.95h1m-1 .5h1m-1.5 .5h.5m1 0h.5m-2 .5h.5m1 0h.5m-2 .5h.5m-.5 .5h.5m1.5 2.5h.5m-.5 .5h.5m-.5 .5h.5m-3 .5h.5m2 0h.5m-3 .5h.5m-.5 .5h.5m-1.5 5.5h.5m-1 3.5h.5m.5 2h.5m-.5 .5h.5m-.5 .5h.5m3.5 6h.5m-4.5 3h.5m0 1.5h.5m0 1h.5m0 .5h1" stroke="rgb(40,240,90)" stroke-width="0.72" fill="none"/>
<path d="M71.2 184.95h1m0 1h.5m-.5 .5h.5m-2 .5h.5m1.5 4h.5m-3 1h.5m2.5 11h.5m-1.5 12h.5" stroke="rgb(50,240,90)" stroke-width="0.72" fill="none"/>
<path d="M71.2 185.45h1m-1 .5h1m0 1h.5m-2 .5h.5m1 0h.5m-2 .5h.5m-.5 .5h.5m1.5 3h.5m-.5 .5h.5m-3 .5h.5m-.5 .5h.5m2.5 9.5h.5m-4 1.5h.5m-.5 8h.5m3 .5h.5m-1 1.5h.5" stroke="rgb(50,240,80)" stroke-width="0.72" fill="none"/>
<path d="M71.2 186.45h1m-1 .5h1m-1 .5h1m0 .5h.5m-.5 .5h.5m-2 .5h.5m1 0h.5m-2 .5h.5m-.5 .5h.5m1.5 2.5h.5m-.5 .5h.5m-3 .5h.5m-.5 .5h.5m3 3h.5m0 1h.5m-6 .5h.5m-.5 1.5h.5m0 1.5h.5m3.5 2h.5m-4 1h.5m0 9h.5m.5 1.5h1" stroke="rgb(60,240,80)" stroke-width="0.72" fill="none"/>
<path d="M71.2 187.95h1m0 1.5h.5m0 4h.5m-3 1h.5m2.5 9.5h.5m-4 1h.5" stroke="rgb(60,240,70)" stroke-width="0.72" fill="none"/>
<path d="M71.2 188.45h1m-1 .5h1m-1 .5h1m-1 .5h.5m.5 0h.5m-2 .5h.5m1 0h.5m-2 .5h.5m1 0h.5m-2 .5h.5m1.5 2.5h.5m-.5 .5h.5m-3 .5h.5m2 0h.5m-3 .5h.5m-.5 .5h.5m-1 .5h.5m-1.5 2.5h.5m5 1.5h.5m-1.5 4h.5m-4 1h.5m-.5 .5h.5m-.5 5.5h.5m3 .5h.5m-1 1.5h.5m-2.5 1h.5m1 0h.5" stroke="rgb(70,240,70)" stroke-width="0.72" fill="none"/>
<path d="M71.7 189.95h.5" stroke="rgb(80,240,70)" stroke-width="0.72" fill="none"/>
<path d="M71.2 190.45h1m-1 .5h1m0 .5h.5m-2 .5h.5m1 0h.5m-2 .5h.5m1 0h.5m-2 .5h.5m1.5 2.5h.5m-.5 .5h.5m-4.5 3.5h.5m4.5 2h.5m-1 3.5h.5m-.5 .5h.5m-4 1h.5m-.5 .5h.5m-.5 4h.5m3 .5h.5m-3.5 1.5h.5m.5 1.5h.5" stroke="rgb(80,240,60)" stroke-width="0.72" fill="none"/>
<path d="M71.2 191.45h1m0 1.5h.5m-2 .5h.5m3 5h.5m-5 3.5h.5m3 4h.5m-3 8h.5m.5 .5h.5" stroke="rgb(90,240,60)" stroke-width="0.72" fill="none"/>
<path d="M71.2 191.95h1m-1 .5h.5m.5 1h.5m-2 .5h.5m2 2.5h.5m.5 3.5h.5m-4.5 3h.5m2.5 3.5h.5m-4 1h.5m2 6.5h.5" stroke="rgb(90,240,50)" stroke-width="0.72" fill="none"/>
<path d="M71.7 192.45h.5m-1 .5h1m-1 .5h.5m.5 .5h.5m-2 .5h.5m1 0h.5m-2 .5h.5m-1 7.5h.5m2 .5h.5m-3 .5h.5m2.5 3.5h.5m-4 1h.5m-.5 .5h.5m-.5 2h.5m3 .5h.5m-1 2h.5" stroke="rgb(100,240,50)" stroke-width="0.72" fill="none"/>
<path d="M71.7 193.45h.5m0 1.5h.5m-2 .5h.5" stroke="rgb(100,240,40)" stroke-width="0.72" fill="none"/>
<path d="M71.2 193.95h.5m-1 2h.5m2 6h.5m-.5 5.5h.5m-4 1.5h.5m0 3.5h.5" stroke="rgb(110,240,40)" stroke-width="0.72" fill="none"/>
<path d="M71.7 193.95h.5m-1 .5h1m-1 .5h.5m.5 .5h.5m-.5 .5h.5m1.5 3h.5m-.5 .5h.5m-2 3h.5m-.5 1h.5m-3 .5h.5m2.5 4h.5m-4 1.5h.5m-.5 .5h.5m3 .5h.5m-3 3h.5m0 .5h1" stroke="rgb(110,250,40)" stroke-width="0.72" fill="none"/>
<path d="M71.7 194.95h.5m0 18.5h.5" stroke="rgb(120,250,40)" stroke-width="0.72" fill="none"/>
<path d="M71.2 195.45h1m-2 9h.5m2.5 4h.5m-1 4h.5" stroke="rgb(120,250,30)" stroke-width="0.72" fill="none"/>
<path d="M71.2 195.95h.5m1 8h.5" stroke="rgb(120,240,30)" stroke-width="0.72" fill="none"/>
<path d="M71.7 195.95h.5m-3 1.5h.5m3 7h.5m-3 .5h.5m2.5 4h.5m-.5 1h.5m-3.5 2h.5" stroke="rgb(130,240,30)" stroke-width="0.72" fill="none"/>
<path d="M70.2 196.45h.5m-1 .5h.5m2 5.5h.5m-1.5 .5h1m0 .5h.5m-2 .5h.5m-1 2.5h.5" stroke="rgb(160,240,20)" stroke-width="0.72" fill="none"/>
<path d="M70.7 196.45h.5m-2 1.5h.5m3.5 3.5h.5m-2.5 4h1m-1.5 1h.5m1.5 2h.5m-3 1h.5m-.5 .5h.5m0 1.5h.5m0 .5h1" stroke="rgb(230,240,0)" stroke-width="0.72" fill="none"/>
<path d="M71.2 196.45h1.5m-3.5 4h.5m1 1.5h.5m0 4h1m-1 .5h1.5m-2 .5h.5m1 0h.5m-2 .5h.5m1 0h.5m0 1.5h.5m-.5 .5h.5m-.5 .5h.5m-2.5 1h.5m1 0h.5m-1.5 .5h1.5" stroke="rgb(240,230,0)" stroke-width="0.72" fill="none"/>
<path d="M72.7 196.45h.5m-1.5 6h.5m-.5 1h.5m.5 3h.5" stroke="rgb(180,240,20)" stroke-width="0.72" fill="none"/>
<path d="M70.2 196.95h.5m3 1h.5m-5 .5h.5m-.5 1.5h.5m4 .5h.5m-3 1.5h1.5m-1.5 5h1m-1 .5h1m-1.5 .5h.5m1 0h.5m-2 .5h.5m1 0h.5m-2 .5h.5m-.5 1.5h.5m1 0h.5m-1.5 .5h1" stroke="rgb(240,220,0)" stroke-width="0.72" fill="none"/>
<path d="M70.7 196.95h.5m2 .5h.5m-4 3.5h.5" stroke="rgb(250,190,0)" stroke-width="0.72" fill="none"/>
<path d="M71.2 196.95h.5m.5 0h.5m1 2h.5m-.5 .5h.5m-1 1.5h.5" stroke="rgb(250,180,0)" stroke-width="0.72" fill="none"/>
<path d="M71.7 196.95h.5m-1.5 4.5h.5" stroke="rgb(250,170,0)" stroke-width="0.72" fill="none"/>
<path d="M72.7 196.95h.5m-2 11h1m-1 .5h1m-1 .5h.5m.5 0h.5m-2 .5h.5m1 0h.5m-2 .5h.5m1 0h.5m-1.5 .5h1" stroke="rgb(240,210,0)" stroke-width="0.72" fill="none"/>
<path d="M73.2 196.95h.5m-3.5 5h.5m.5 2h1m-1.5 1h.5m1.5 2h.5" stroke="rgb(190,240,10)" stroke-width="0.72" fill="none"/>
<path d="M69.7 197.45h.5m3.5 1h.5m-5 .5h.5m-.5 .5h.5m4 .5h.5m-4 1.5h.5m1 7.5h.5m-1 .5h1m-1 .5h1" stroke="rgb(240,200,0)" stroke-width="0.72" fill="none"/>
<path d="M70.2 197.45h.5m2.5 .5h.5" stroke="rgb(250,140,0)" stroke-width="0.72" fill="none"/>
<path d="M70.7 197.45h.5m1 0h.5m-3 1.5h.5m3 1h.5" stroke="rgb(250,90,0)" stroke-width="0.72" fill="none"/>
<path d="M71.2 197.45h1m-2 .5h.5m0 3h.5m1 0h.5" stroke="rgb(250,70,0)" stroke-width="0.72" fill="none"/>
<path d="M72.7 197.45h.5m0 3h.5" stroke="rgb(250,130,0)" stroke-width="0.72" fill="none"/>
<path d="M73.7 197.45h.5m-3 5h.5m-.5 1h.5m.5 .5h.5m0 2h.5m-3 1h.5m2 4.5h.5m-2.5 1h.5m0 .5h1" stroke="rgb(170,240,20)" stroke-width="0.72" fill="none"/>
<path d="M74.2 197.45h.5" stroke="rgb(20,240,140)" stroke-width="0.72" fill="none"/>
<path d="M69.7 197.95h.5m-.5 2.5h.5m1 1h1" stroke="rgb(250,150,0)" stroke-width="0.72" fill="none"/>
<path d="M70.7 197.95h.5m1 0h.5m0 .5h.5m-3 1.5h.5" stroke="rgb(240,30,0)" stroke-width="0.72" fill="none"/>
<path d="M71.2 197.95h1m.5 2h.5m-2.5 .5h.5m1 0h.5" stroke="rgb(240,20,0)" stroke-width="0.72" fill="none"/>
<path d="M72.7 197.95h.5m0 1h.5m-.5 .5h.5m-3.5 1h.5m.5 .5h1" stroke="rgb(250,60,0)" stroke-width="0.72" fill="none"/>
<path d="M69.7 198.45h.5m0 2.5h.5" stroke="rgb(250,120,0)" stroke-width="0.72" fill="none"/>
<path d="M70.2 198.45h.5" stroke="rgb(240,40,0)" stroke-width="0.72" fill="none"/>
<path d="M70.7 198.45h2m-2 .5h2.5m-2.5 .5h2.5m-2.5 .5h2" stroke="rgb(230,0,0)" stroke-width="0.72" fill="none"/>
<path d="M73.2 198.45h.5" stroke="rgb(250,100,0)" stroke-width="0.72" fill="none"/>
<path d="M70.2 198.95h.5m.5 1.5h1" stroke="rgb(240,10,0)" stroke-width="0.72" fill="none"/>
<path d="M69.7 199.45h.5" stroke="rgb(250,80,0)" stroke-width="0.72" fill="none"/>
<path d="M70.2 199.45h.5" stroke="rgb(240,0,0)" stroke-width="0.72" fill="none"/>
<path d="M69.7 199.95h.5m2.5 1h.5" stroke="rgb(250,110,0)" stroke-width="0.72" fill="none"/>
<path d="M72.7 200.45h.5" stroke="rgb(250,50,0)" stroke-width="0.72" fill="none"/>
<path d="M69.2 200.95h.5m1 1.5h.5m-.5 1h.5m1.5 2h.5m-3 .5h.5m-.5 5.5h.5" stroke="rgb(150,240,20)" stroke-width="0.72" fill="none"/>
<path d="M73.7 200.95h.5m-4.5 .5h.5m2.5 .5h.5m-2 2.5h1m0 .5h.5m-2 .5h.5m1.5 2h.5m-3 .5h.5m-.5 2.5h.5m2 .5h.5m-2.5 1h.5m0 .5h1" stroke="rgb(200,240,10)" stroke-width="0.72" fill="none"/>
<path d="M72.2 201.45h.5" stroke="rgb(250,160,0)" stroke-width="0.72" fill="none"/>
<path d="M72.7 201.45h.5" stroke="rgb(240,190,0)" stroke-width="0.72" fill="none"/>
<path d="M70.7 202.95h.5m1 0h.5m0 2h.5m-3 .5h.5m2.5 4h.5m-3 3.5h.5m0 .5h1" stroke="rgb(140,240,30)" stroke-width="0.72" fill="none"/>
<path d="M70.7 204.45h.5m1 0h.5m-2.5 3h.5m-.5 3.5h.5m1.5 1.5h.5" stroke="rgb(180,240,10)" stroke-width="0.72" fill="none"/>
<path d="M71.2 204.95h1m0 1h.5m-2.5 3h.5m2 1.5h.5" stroke="rgb(220,240,0)" stroke-width="0.72" fill="none"/>
<path d="M72.2 205.45h.5m-2 .5h.5m1.5 2h.5m-3 .5h.5m1.5 3.5h.5" stroke="rgb(210,240,0)" stroke-width="0.72" fill="none"/>
<path d="M72.7 211.95h.5m-1 1h.5" stroke="rgb(150,240,30)" stroke-width="0.72" fill="none"/>
</g>
<rect x="49.7" y="124.2" width="97.6" height="96.6" fill="none" stroke="#b4b4b4" stroke-width="0.9"/>
<line x1="47.4" y1="133.1" x2="49.9" y2="133.1" stroke="#111" stroke-width="0.75" stroke-linecap="butt"/>
<text x="39.1" y="135.8" font-size="4.5" font-family='"Liberation Sans", sans-serif' textLength="3.9" lengthAdjust="spacingAndGlyphs" fill="#4d4d4d">10</text>
<text x="43.2" y="132.9" font-size="3.3" font-family='"Liberation Sans", sans-serif' textLength="1.6" lengthAdjust="spacingAndGlyphs" fill="#4d4d4d">5</text>
<line x1="47.4" y1="155.4" x2="49.9" y2="155.4" stroke="#111" stroke-width="0.75" stroke-linecap="butt"/>
<text x="39.1" y="158.1" font-size="4.5" font-family='"Liberation Sans", sans-serif' textLength="3.9" lengthAdjust="spacingAndGlyphs" fill="#4d4d4d">10</text>
<text x="43.2" y="155.2" font-size="3.3" font-family='"Liberation Sans", sans-serif' textLength="1.6" lengthAdjust="spacingAndGlyphs" fill="#4d4d4d">4</text>
<line x1="47.4" y1="182" x2="49.9" y2="182" stroke="#111" stroke-width="0.75" stroke-linecap="butt"/>
<text x="39.1" y="184.7" font-size="4.5" font-family='"Liberation Sans", sans-serif' textLength="3.9" lengthAdjust="spacingAndGlyphs" fill="#4d4d4d">10</text>
<text x="43.2" y="181.8" font-size="3.3" font-family='"Liberation Sans", sans-serif' textLength="1.6" lengthAdjust="spacingAndGlyphs" fill="#4d4d4d">3</text>
<line x1="47.4" y1="199.2" x2="49.9" y2="199.2" stroke="#111" stroke-width="0.75" stroke-linecap="butt"/>
<text x="40.9" y="201.9" font-size="4.5" font-family='"Liberation Sans", sans-serif' textLength="2.1" lengthAdjust="spacingAndGlyphs" fill="#4d4d4d">0</text>
<line x1="47.4" y1="216.5" x2="49.9" y2="216.5" stroke="#111" stroke-width="0.75" stroke-linecap="butt"/>
<text x="37.7" y="219.2" font-size="4.5" font-family='"Liberation Sans", sans-serif' textLength="5.3" lengthAdjust="spacingAndGlyphs" fill="#4d4d4d">-10</text>
<text x="43.2" y="216.3" font-size="3.3" font-family='"Liberation Sans", sans-serif' textLength="1.6" lengthAdjust="spacingAndGlyphs" fill="#4d4d4d">3</text>
<line x1="55.7" y1="220.6" x2="55.7" y2="223" stroke="#111" stroke-width="0.75" stroke-linecap="butt"/>
<text x="52.25" y="232.9" font-size="4.5" font-family='"Liberation Sans", sans-serif' textLength="5.3" lengthAdjust="spacingAndGlyphs" fill="#4d4d4d">-10</text>
<text x="57.75" y="230" font-size="3.3" font-family='"Liberation Sans", sans-serif' textLength="1.6" lengthAdjust="spacingAndGlyphs" fill="#4d4d4d">3</text>
<line x1="71.5" y1="220.6" x2="71.5" y2="223" stroke="#111" stroke-width="0.75" stroke-linecap="butt"/>
<text x="70.25" y="232.9" font-size="4.5" font-family='"Liberation Sans", sans-serif' textLength="2.1" lengthAdjust="spacingAndGlyphs" fill="#4d4d4d">0</text>
<line x1="89.6" y1="220.6" x2="89.6" y2="223" stroke="#111" stroke-width="0.75" stroke-linecap="butt"/>
<text x="87.25" y="232.9" font-size="4.5" font-family='"Liberation Sans", sans-serif' textLength="3.9" lengthAdjust="spacingAndGlyphs" fill="#4d4d4d">10</text>
<text x="91.35" y="230" font-size="3.3" font-family='"Liberation Sans", sans-serif' textLength="1.6" lengthAdjust="spacingAndGlyphs" fill="#4d4d4d">3</text>
<line x1="116" y1="220.6" x2="116" y2="223" stroke="#111" stroke-width="0.75" stroke-linecap="butt"/>
<text x="114.95" y="232.9" font-size="4.5" font-family='"Liberation Sans", sans-serif' textLength="3.9" lengthAdjust="spacingAndGlyphs" fill="#4d4d4d">10</text>
<text x="119.05" y="230" font-size="3.3" font-family='"Liberation Sans", sans-serif' textLength="1.6" lengthAdjust="spacingAndGlyphs" fill="#4d4d4d">4</text>
<line x1="139.2" y1="220.6" x2="139.2" y2="223" stroke="#111" stroke-width="0.75" stroke-linecap="butt"/>
<text x="136.45" y="232.9" font-size="4.5" font-family='"Liberation Sans", sans-serif' textLength="3.9" lengthAdjust="spacingAndGlyphs" fill="#4d4d4d">10</text>
<text x="140.55" y="230" font-size="3.3" font-family='"Liberation Sans", sans-serif' textLength="1.6" lengthAdjust="spacingAndGlyphs" fill="#4d4d4d">5</text>
<rect x="47.5" y="197.1" width="2.5" height="4.3" fill="#111" stroke="none" stroke-width="1"/>
<rect x="69.2" y="220.6" width="4.8" height="2.1" fill="#111" stroke="none" stroke-width="1"/>
<line x1="48.2" y1="148.69" x2="49.7" y2="148.69" stroke="#333" stroke-width="0.5" stroke-linecap="butt"/>
<line x1="48.2" y1="173.99" x2="49.7" y2="173.99" stroke="#333" stroke-width="0.5" stroke-linecap="butt"/>
<line x1="97.55" y1="220.8" x2="97.55" y2="222.3" stroke="#333" stroke-width="0.5" stroke-linecap="butt"/>
<line x1="122.98" y1="220.8" x2="122.98" y2="222.3" stroke="#333" stroke-width="0.5" stroke-linecap="butt"/>
<line x1="48.2" y1="144.76" x2="49.7" y2="144.76" stroke="#333" stroke-width="0.5" stroke-linecap="butt"/>
<line x1="48.2" y1="169.31" x2="49.7" y2="169.31" stroke="#333" stroke-width="0.5" stroke-linecap="butt"/>
<line x1="102.2" y1="220.8" x2="102.2" y2="222.3" stroke="#333" stroke-width="0.5" stroke-linecap="butt"/>
<line x1="127.07" y1="220.8" x2="127.07" y2="222.3" stroke="#333" stroke-width="0.5" stroke-linecap="butt"/>
<line x1="48.2" y1="141.97" x2="49.7" y2="141.97" stroke="#333" stroke-width="0.5" stroke-linecap="butt"/>
<line x1="48.2" y1="165.99" x2="49.7" y2="165.99" stroke="#333" stroke-width="0.5" stroke-linecap="butt"/>
<line x1="105.49" y1="220.8" x2="105.49" y2="222.3" stroke="#333" stroke-width="0.5" stroke-linecap="butt"/>
<line x1="129.97" y1="220.8" x2="129.97" y2="222.3" stroke="#333" stroke-width="0.5" stroke-linecap="butt"/>
<line x1="48.2" y1="139.81" x2="49.7" y2="139.81" stroke="#333" stroke-width="0.5" stroke-linecap="butt"/>
<line x1="48.2" y1="163.41" x2="49.7" y2="163.41" stroke="#333" stroke-width="0.5" stroke-linecap="butt"/>
<line x1="108.05" y1="220.8" x2="108.05" y2="222.3" stroke="#333" stroke-width="0.5" stroke-linecap="butt"/>
<line x1="132.22" y1="220.8" x2="132.22" y2="222.3" stroke="#333" stroke-width="0.5" stroke-linecap="butt"/>
<line x1="48.2" y1="138.05" x2="49.7" y2="138.05" stroke="#333" stroke-width="0.5" stroke-linecap="butt"/>
<line x1="48.2" y1="161.3" x2="49.7" y2="161.3" stroke="#333" stroke-width="0.5" stroke-linecap="butt"/>
<line x1="110.14" y1="220.8" x2="110.14" y2="222.3" stroke="#333" stroke-width="0.5" stroke-linecap="butt"/>
<line x1="134.05" y1="220.8" x2="134.05" y2="222.3" stroke="#333" stroke-width="0.5" stroke-linecap="butt"/>
<line x1="48.2" y1="136.55" x2="49.7" y2="136.55" stroke="#333" stroke-width="0.5" stroke-linecap="butt"/>
<line x1="48.2" y1="159.52" x2="49.7" y2="159.52" stroke="#333" stroke-width="0.5" stroke-linecap="butt"/>
<line x1="111.91" y1="220.8" x2="111.91" y2="222.3" stroke="#333" stroke-width="0.5" stroke-linecap="butt"/>
<line x1="135.61" y1="220.8" x2="135.61" y2="222.3" stroke="#333" stroke-width="0.5" stroke-linecap="butt"/>
<line x1="48.2" y1="135.26" x2="49.7" y2="135.26" stroke="#333" stroke-width="0.5" stroke-linecap="butt"/>
<line x1="48.2" y1="157.98" x2="49.7" y2="157.98" stroke="#333" stroke-width="0.5" stroke-linecap="butt"/>
<line x1="113.44" y1="220.8" x2="113.44" y2="222.3" stroke="#333" stroke-width="0.5" stroke-linecap="butt"/>
<line x1="136.95" y1="220.8" x2="136.95" y2="222.3" stroke="#333" stroke-width="0.5" stroke-linecap="butt"/>
<line x1="48.2" y1="134.12" x2="49.7" y2="134.12" stroke="#333" stroke-width="0.5" stroke-linecap="butt"/>
<line x1="48.2" y1="156.62" x2="49.7" y2="156.62" stroke="#333" stroke-width="0.5" stroke-linecap="butt"/>
<line x1="114.79" y1="220.8" x2="114.79" y2="222.3" stroke="#333" stroke-width="0.5" stroke-linecap="butt"/>
<line x1="138.14" y1="220.8" x2="138.14" y2="222.3" stroke="#333" stroke-width="0.5" stroke-linecap="butt"/>
<line x1="57.3" y1="220.8" x2="57.3" y2="222.1" stroke="#444" stroke-width="0.5" stroke-linecap="butt"/>
<line x1="76.4" y1="220.8" x2="76.4" y2="222.1" stroke="#444" stroke-width="0.5" stroke-linecap="butt"/>
<line x1="48.4" y1="214.6" x2="49.7" y2="214.6" stroke="#444" stroke-width="0.5" stroke-linecap="butt"/>
<line x1="48.4" y1="194.6" x2="49.7" y2="194.6" stroke="#444" stroke-width="0.5" stroke-linecap="butt"/>
<line x1="58.9" y1="220.8" x2="58.9" y2="222.1" stroke="#444" stroke-width="0.5" stroke-linecap="butt"/>
<line x1="78.3" y1="220.8" x2="78.3" y2="222.1" stroke="#444" stroke-width="0.5" stroke-linecap="butt"/>
<line x1="48.4" y1="212.7" x2="49.7" y2="212.7" stroke="#444" stroke-width="0.5" stroke-linecap="butt"/>
<line x1="48.4" y1="192.7" x2="49.7" y2="192.7" stroke="#444" stroke-width="0.5" stroke-linecap="butt"/>
<line x1="60.5" y1="220.8" x2="60.5" y2="222.1" stroke="#444" stroke-width="0.5" stroke-linecap="butt"/>
<line x1="80.2" y1="220.8" x2="80.2" y2="222.1" stroke="#444" stroke-width="0.5" stroke-linecap="butt"/>
<line x1="48.4" y1="210.8" x2="49.7" y2="210.8" stroke="#444" stroke-width="0.5" stroke-linecap="butt"/>
<line x1="48.4" y1="190.8" x2="49.7" y2="190.8" stroke="#444" stroke-width="0.5" stroke-linecap="butt"/>
<line x1="62.1" y1="220.8" x2="62.1" y2="222.1" stroke="#444" stroke-width="0.5" stroke-linecap="butt"/>
<line x1="82.1" y1="220.8" x2="82.1" y2="222.1" stroke="#444" stroke-width="0.5" stroke-linecap="butt"/>
<line x1="48.4" y1="208.9" x2="49.7" y2="208.9" stroke="#444" stroke-width="0.5" stroke-linecap="butt"/>
<line x1="48.4" y1="188.9" x2="49.7" y2="188.9" stroke="#444" stroke-width="0.5" stroke-linecap="butt"/>
<line x1="63.7" y1="220.8" x2="63.7" y2="222.1" stroke="#444" stroke-width="0.5" stroke-linecap="butt"/>
<line x1="84" y1="220.8" x2="84" y2="222.1" stroke="#444" stroke-width="0.5" stroke-linecap="butt"/>
<line x1="48.4" y1="207" x2="49.7" y2="207" stroke="#444" stroke-width="0.5" stroke-linecap="butt"/>
<line x1="48.4" y1="187" x2="49.7" y2="187" stroke="#444" stroke-width="0.5" stroke-linecap="butt"/>
<line x1="65.3" y1="220.8" x2="65.3" y2="222.1" stroke="#444" stroke-width="0.5" stroke-linecap="butt"/>
<line x1="85.9" y1="220.8" x2="85.9" y2="222.1" stroke="#444" stroke-width="0.5" stroke-linecap="butt"/>
<line x1="48.4" y1="205.1" x2="49.7" y2="205.1" stroke="#444" stroke-width="0.5" stroke-linecap="butt"/>
<line x1="48.4" y1="185.1" x2="49.7" y2="185.1" stroke="#444" stroke-width="0.5" stroke-linecap="butt"/>
<line x1="66.9" y1="220.8" x2="66.9" y2="222.1" stroke="#444" stroke-width="0.5" stroke-linecap="butt"/>
<line x1="87.8" y1="220.8" x2="87.8" y2="222.1" stroke="#444" stroke-width="0.5" stroke-linecap="butt"/>
<line x1="48.4" y1="203.2" x2="49.7" y2="203.2" stroke="#444" stroke-width="0.5" stroke-linecap="butt"/>
<line x1="48.4" y1="183.2" x2="49.7" y2="183.2" stroke="#444" stroke-width="0.5" stroke-linecap="butt"/>
<rect x="94.7" y="153.6" width="37.9" height="33.4" fill="none" stroke="#333" stroke-width="0.85"/>
<rect x="94.7" y="193" width="37.9" height="25.2" fill="none" stroke="#333" stroke-width="0.85"/>
<rect x="128.4" y="198.4" width="5" height="13.2" fill="#fff" stroke="none" stroke-width="1"/>
<text x="134.6" y="167.6" font-size="4.8" font-family='"Liberation Sans", sans-serif' textLength="9.8" lengthAdjust="spacingAndGlyphs" fill="#555">MAIT</text>
<text x="135.3" y="174.6" font-size="4.8" font-family='"Liberation Sans", sans-serif' textLength="8.5" lengthAdjust="spacingAndGlyphs" fill="#555">10.9</text>
<text x="128.8" y="203.2" font-size="4.8" font-family='"Liberation Sans", sans-serif' textLength="16.6" lengthAdjust="spacingAndGlyphs" fill="#555">no-MAIT</text>
<text x="132.8" y="210.2" font-size="4.8" font-family='"Liberation Sans", sans-serif' textLength="8.6" lengthAdjust="spacingAndGlyphs" fill="#555">2.86</text>
<text x="216.6" y="119.6" font-size="9.2" font-family='"Liberation Serif", serif' font-weight="normal" text-anchor="middle" fill="#000">No GVHD</text>
<g filter="url(#soft)">
<path d="M207.5 127.45h.5m-18 6.5h.5m43.5 3h.5m9 .5h.5m-57 1.5h.5m40.5 1h.5m-12.5 2.5h.5m12 3.5h.5m-25.5 .5h.5m-5 2.5h.5m-11.5 .5h.5m36.5 .5h.5m-39 .5h.5m-.5 .5h.5m1 0h.5m40.5 0h.5m-43.5 .5h.5m1.5 0h.5m33.5 0h.5m4 0h.5m-41 .5h.5m2 0h.5m41 0h.5m-44 .5h.5m43.5 0h.5m-44.5 .5h.5m.5 0h1m49.5 0h.5m4.5 0h.5m-57.5 .5h.5m1 0h1m.5 0h.5m40 0h.5m-42.5 .5h1m26 0h.5m-29.5 .5h.5m3 0h1m41 0h.5m-46 .5h4m10.5 0h.5m11.5 0h.5m4 0h.5m1.5 0h.5m10 0h.5m-43.5 .5h2m1 0h.5m45 0h.5m-49 .5h2.5m.5 0h.5m32 0h.5m2 0h1m2.5 0h.5m.5 0h1m.5 0h.5m3.5 0h1m6 0h.5m1.5 0h.5m-58 .5h1.5m1.5 0h1.5m8 0h.5m23.5 0h.5m3.5 0h.5m2 0h.5m5.5 0h1m-50.5 .5h.5m.5 0h.5m2 0h1.5m25.5 0h.5m3 0h.5m7.5 0h.5m.5 0h.5m1 0h.5m.5 0h.5m1 0h.5m2 0h.5m12 0h.5m-62.5 .5h.5m.5 0h.5m2.5 0h1m30.5 0h.5m5 0h.5m1 0h1m2 0h.5m2 0h.5m.5 0h.5m.5 0h1m-51.5 .5h2m3 0h1m24.5 0h.5m5 0h.5m3 0h1.5m1 0h.5m1.5 0h1.5m.5 0h.5m.5 0h.5m.5 0h.5m.5 0h.5m1.5 0h1m-47.5 .5h.5m30 0h.5m.5 0h.5m2 0h.5m1 0h1m.5 0h1.5m3 0h.5m.5 0h.5m.5 0h.5m.5 0h1.5m1 0h.5m.5 0h.5m1.5 0h.5m-50.5 .5h1.5m29.5 0h.5m1 0h.5m.5 0h3m1 0h.5m.5 0h3m.5 0h.5m1 0h.5m.5 0h2.5m2.5 0h.5m-49.5 .5h.5m20 0h1m4 0h.5m7 0h2m1.5 0h2m.5 0h.5m1.5 0h2.5m.5 0h1m.5 0h2m8 0h.5m-60 .5h.5m3.5 0h.5m19.5 0h.5m6 0h.5m9.5 0h1m.5 0h.5m.5 0h1m.5 0h2.5m.5 0h4m.5 0h.5m-54 .5h.5m.5 0h.5m4 0h1m10.5 0h.5m10.5 0h.5m2 0h.5m6 0h1m.5 0h.5m1 0h1m.5 0h8.5m.5 0h.5m.5 0h.5m1 0h2.5m4.5 0h.5m-60 .5h1m4 0h1m24.5 0h1m4.5 0h.5m1 0h1m1 0h.5m.5 0h4m4.5 0h5m.5 0h.5m.5 0h.5m.5 0h.5m-56.5 .5h.5m4 0h.5m29 0h.5m4.5 0h4m7 0h3.5m4.5 0h.5m-68 .5h.5m13.5 0h.5m24 0h.5m1 0h.5m3 0h.5m.5 0h.5m1 0h.5m.5 0h1m1 0h.5m1 0h1m8.5 0h1m1 0h1m.5 0h.5m1 0h.5m2.5 0h.5m-54.5 .5h1m25 0h.5m2.5 0h1.5m1 0h5.5m9.5 0h1m.5 0h2.5m-55.5 .5h1m29 0h.5m2.5 0h.5m1.5 0h1m.5 0h1m1 0h3m10.5 0h2m.5 0h.5m.5 0h1m.5 0h.5m-57 .5h.5m28.5 0h.5m2.5 0h1m2 0h.5m.5 0h2m1 0h1.5m11.5 0h2m.5 0h1m.5 0h1m-57.5 .5h1m5 0h1m15 0h.5m5.5 0h.5m3 0h.5m1.5 0h1m.5 0h.5m1.5 0h1.5m.5 0h1.5m12 0h1m.5 0h.5m1 0h.5m3.5 0h.5m2.5 0h.5m-62.5 .5h.5m4.5 0h1m23.5 0h.5m2 0h.5m2 0h.5m.5 0h1m.5 0h.5m.5 0h1.5m13.5 0h1m2.5 0h.5m-58 .5h.5m.5 0h.5m4.5 0h.5m16.5 0h.5m10.5 0h.5m.5 0h.5m.5 0h1m.5 0h2m.5 0h.5m13 0h1.5m1.5 0h.5m.5 0h.5m-57 .5h.5m4.5 0h.5m23 0h.5m3 0h.5m1 0h.5m1 0h.5m.5 0h3m14 0h1m.5 0h1m1.5 0h1.5m-59 .5h1m4.5 0h.5m22.5 0h.5m1 0h.5m1 0h.5m.5 0h.5m.5 0h.5m1.5 0h2m.5 0h1.5m14 0h1m1 0h1.5m.5 0h.5m5 0h.5m-68 .5h.5m4 0h1m4.5 0h1m19 0h.5m4 0h.5m1 0h2m2 0h1.5m.5 0h2m14 0h1m.5 0h.5m-55.5 .5h.5m5 0h.5m5 0h.5m20 0h.5m1 0h.5m.5 0h.5m.5 0h4m14.5 0h1.5m.5 0h1.5m4 0h.5m3 0h.5m-65 .5h1m4.5 0h.5m1 0h.5m18 0h.5m2 0h.5m.5 0h.5m1 0h.5m2.5 0h.5m1.5 0h.5m.5 0h1.5m.5 0h.5m14.5 0h1.5m.5 0h1m2 0h.5m-59 .5h1m4.5 0h1m20.5 0h.5m3.5 0h.5m3.5 0h2.5m.5 0h1.5m14.5 0h.5m3 0h.5m1 0h.5m11.5 0h.5m-71.5 .5h.5m5 0h.5m13 0h.5m1 0h.5m12.5 0h.5m1 0h2m.5 0h1.5m14.5 0h.5m.5 0h.5m2 0h.5m1 0h.5m-59.5 .5h1m5 0h.5m21 0h.5m.5 0h.5m1 0h.5m3.5 0h.5m1 0h1m.5 0h1.5m.5 0h1m14 0h2m2 0h.5m-58.5 .5h1m5 0h.5m23 0h.5m1 0h.5m3.5 0h.5m.5 0h.5m.5 0h.5m.5 0h2.5m13 0h2m.5 0h.5m.5 0h.5m1 0h1m-59 .5h.5m5.5 0h1m22.5 0h.5m1 0h.5m2 0h.5m.5 0h1m1 0h3.5m13 0h2.5m.5 0h1m.5 0h.5m-59.5 .5h.5m6.5 0h1m26 0h.5m1 0h1m1.5 0h1m.5 0h2.5m12.5 0h.5m.5 0h1m1 0h.5m.5 0h1m-60.5 .5h.5m1 0h.5m.5 0h.5m9.5 0h.5m21.5 0h.5m2.5 0h.5m.5 0h1m1.5 0h2.5m11.5 0h2.5m-55 .5h.5m5 0h1.5m10.5 0h.5m9 0h1m2.5 0h.5m1.5 0h.5m2.5 0h.5m.5 0h2m.5 0h.5m.5 0h1m11.5 0h2m2 0h.5m-58 .5h.5m6 0h1m4.5 0h.5m10.5 0h.5m9 0h.5m1 0h.5m1.5 0h1m1 0h.5m.5 0h.5m.5 0h2.5m11 0h.5m.5 0h1m.5 0h1.5m.5 0h.5m-58 .5h1m5.5 0h.5m8.5 0h.5m19.5 0h1m2.5 0h.5m1 0h2m10 0h1m.5 0h.5m-54 .5h.5m6 0h.5m13.5 0h.5m2 0h.5m4.5 0h.5m4 0h.5m2.5 0h.5m1.5 0h1.5m.5 0h2m.5 0h.5m9.5 0h1m.5 0h.5m1 0h.5m.5 0h.5m-57 .5h.5m6 0h.5m24 0h.5m1.5 0h1m3 0h.5m.5 0h1m.5 0h1.5m.5 0h2m8.5 0h3.5m-30.5 .5h.5m3 0h.5m.5 0h.5m1 0h.5m1.5 0h.5m3 0h.5m1 0h1m1.5 0h.5m.5 0h3m7 0h2m.5 0h1m2.5 0h.5m-60.5 .5h.5m2 0h1m5.5 0h.5m.5 0h.5m22.5 0h.5m1 0h.5m1 0h.5m1 0h.5m4 0h.5m.5 0h1m.5 0h1.5m.5 0h1m7 0h1.5m.5 0h.5m1 0h.5m-55.5 .5h.5m5.5 0h1m26 0h.5m.5 0h1m1 0h1m.5 0h1.5m1.5 0h1.5m.5 0h.5m.5 0h1.5m5.5 0h.5m.5 0h.5m.5 0h2.5m-57.5 .5h.5m1 0h.5m.5 0h.5m5.5 0h1m13 0h.5m14.5 0h.5m1 0h.5m.5 0h.5m3.5 0h2m.5 0h2m3.5 0h2m-52 .5h1m27.5 0h.5m12.5 0h.5m.5 0h1m.5 0h7m.5 0h3m1.5 0h1m-58.5 .5h.5m1.5 0h.5m5.5 0h.5m23.5 0h.5m1 0h1m4 0h.5m3 0h.5m1 0h1m2.5 0h1m.5 0h4m.5 0h1m1.5 0h.5m1.5 0h.5m-60 .5h.5m3 0h1m5.5 0h.5m30 0h1m1.5 0h.5m.5 0h.5m1 0h1m.5 0h.5m.5 0h8m-55 .5h.5m2.5 0h.5m5.5 0h1.5m26 0h.5m3.5 0h1m3.5 0h.5m2 0h1m.5 0h.5m1 0h.5m.5 0h3m.5 0h.5m.5 0h.5m1.5 0h.5m7.5 0h.5m-68.5 .5h.5m2.5 0h.5m1.5 0h.5m5.5 0h.5m24.5 0h.5m5 0h2m4.5 0h.5m.5 0h.5m.5 0h1.5m.5 0h2m1 0h1.5m1 0h.5m-53 .5h.5m5.5 0h1m24.5 0h.5m6.5 0h.5m.5 0h.5m3 0h.5m.5 0h1.5m2 0h1m.5 0h.5m1 0h1m.5 0h.5m1 0h.5m1.5 0h.5m-56.5 .5h1m5.5 0h.5m1.5 0h.5m29.5 0h.5m6.5 0h1.5m1.5 0h.5m2 0h.5m-55 .5h.5m3.5 0h.5m5.5 0h.5m1 0h.5m24 0h.5m4.5 0h.5m4.5 0h.5m.5 0h.5m.5 0h.5m2 0h.5m1.5 0h.5m3.5 0h.5m1.5 0h1m-56 .5h.5m6 0h.5m21.5 0h.5m6 0h.5m8.5 0h.5m1.5 0h.5m2 0h1m.5 0h.5m1 0h.5m-52 .5h.5m6 0h1m27.5 0h.5m5 0h.5m1 0h1.5m5 0h.5m.5 0h1m-50.5 .5h.5m6 0h.5m3.5 0h.5m2 0h.5m31 0h.5m.5 0h2.5m2 0h.5m1.5 0h1m-54 .5h1.5m6 0h.5m1 0h.5m5 0h.5m15 0h.5m14.5 0h.5m.5 0h.5m2.5 0h.5m1.5 0h1m3.5 0h.5m-57.5 .5h.5m2 0h.5m6 0h1.5m1 0h.5m28.5 0h1m4 0h.5m1.5 0h.5m1.5 0h.5m4 0h.5m5.5 0h.5m-58.5 .5h1m6.5 0h1m6 0h.5m19 0h.5m15.5 0h.5m3.5 0h.5m-54.5 .5h1m6 0h.5m.5 0h.5m23.5 0h.5m8.5 0h.5m8 0h.5m-51.5 .5h.5m1 0h1m6 0h.5m.5 0h.5m38.5 0h.5m6.5 0h.5m-58.5 .5h.5m3 0h.5m.5 0h.5m6 0h1m1 0h.5m5.5 0h.5m28.5 0h.5m4.5 0h.5m13.5 0h.5m-66 .5h.5m9 0h1m38.5 0h.5m11.5 0h.5m-59 .5h1m6.5 0h.5m1 0h.5m.5 0h.5m3.5 0h.5m17.5 0h.5m14 0h.5m-47 .5h1m6.5 0h.5m1 0h.5m11.5 0h.5m4.5 0h.5m1 0h.5m-28.5 .5h.5m7.5 0h.5m27 0h.5m11.5 0h.5m-47 .5h.5m6.5 0h.5m1 0h.5m6.5 0h.5m-21 .5h.5m2 0h.5m2 0h.5m6.5 0h1.5m14 0h.5m14 0h.5m-38 .5h.5m7 0h1m-8.5 .5h1m6.5 0h.5m12.5 0h.5m19.5 0h.5m-44 .5h.5m1 0h.5m1.5 0h.5m7 0h.5m4 0h.5m20 0h.5m-35.5 .5h.5m1.5 0h1m6.5 0h1m2 0h.5m2 0h.5m7 0h.5m-20.5 .5h.5m21 0h.5m2 0h.5m-24.5 .5h.5m-2.5 .5h.5m1.5 0h.5m7.5 0h.5m4 0h.5m28 0h.5m-42 .5h.5m7 0h.5m.5 0h.5m.5 0h.5m-10 .5h1m6.5 0h.5m1 0h.5m56 0h.5m-66 .5h1m6.5 0h.5m2 0h.5m15 0h.5m-27 .5h.5m.5 0h1m6.5 0h.5m.5 0h.5m32.5 0h.5m-41.5 .5h.5m6.5 0h1m7.5 0h.5m2.5 0h.5m49.5 0h.5m-72.5 .5h.5m2 0h1.5m6.5 0h.5m7.5 0h.5m14.5 0h.5m-32 .5h.5m8 0h.5m4 0h.5m.5 0h.5m.5 0h.5m19.5 0h.5m-45.5 .5h.5m7.5 0h.5m2 0h1m7 0h.5m25.5 0h.5m-39 .5h.5m2.5 0h.5m2 0h.5m6.5 0h1.5m11.5 0h.5m-25.5 .5h.5m2 0h.5m1.5 0h1m6.5 0h.5m22 0h.5m22 0h.5m3 0h.5m-59 .5h.5m9.5 0h1.5m-9 .5h.5m7 0h1.5m1.5 0h.5m.5 0h.5m11.5 0h.5m10 0h.5m16 0h.5m-56.5 .5h.5m3 0h.5m1.5 0h.5m7.5 0h1m2 0h.5m.5 0h.5m1 0h.5m16 0h.5m5 0h.5m3.5 0h.5m3.5 0h.5m-47.5 .5h.5m3 0h.5m7.5 0h.5m1.5 0h.5m6 0h.5m12.5 0h.5m14.5 0h2.5m5 0h.5m-53 .5h.5m8.5 0h.5m2.5 0h.5m24 0h1.5m.5 0h.5m3 0h2m2 0h.5m.5 0h.5m.5 0h.5m2.5 0h.5m14 0h.5m-82 .5h.5m15 0h1m8 0h.5m4.5 0h.5m.5 0h.5m.5 0h.5m9 0h.5m9 0h1m1 0h.5m.5 0h.5m.5 0h.5m.5 0h.5m1 0h.5m3 0h.5m2 0h1m2.5 0h1.5m1 0h1m1 0h.5m.5 0h.5m-60.5 .5h.5m2 0h.5m.5 0h1m8 0h.5m7 0h.5m16.5 0h.5m1 0h.5m.5 0h.5m1 0h.5m.5 0h.5m1.5 0h1m1 0h.5m1.5 0h.5m.5 0h.5m.5 0h.5m1 0h1m1 0h1m1 0h.5m.5 0h1m4.5 0h.5m-61 .5h1m10 0h1.5m3.5 0h.5m6 0h.5m3 0h.5m6 0h.5m4.5 0h.5m1.5 0h1m2 0h.5m2 0h1.5m.5 0h.5m.5 0h1m.5 0h.5m1.5 0h.5m.5 0h.5m2 0h.5m1.5 0h.5m-66.5 .5h.5m5 0h.5m22 0h.5m3 0h1m2.5 0h.5m6 0h.5m.5 0h.5m2.5 0h1m2 0h1m.5 0h.5m.5 0h.5m1.5 0h.5m1 0h1m4 0h.5m1.5 0h.5m3.5 0h.5m-56.5 .5h.5m2 0h.5m7.5 0h1m18.5 0h.5m.5 0h.5m1.5 0h.5m5.5 0h.5m.5 0h.5m1.5 0h1m.5 0h1.5m4 0h.5m-60.5 .5h.5m7.5 0h.5m.5 0h.5m3.5 0h1m7.5 0h.5m1 0h.5m8 0h.5m5.5 0h.5m8.5 0h.5m1 0h.5m5.5 0h.5m.5 0h.5m3.5 0h1m2 0h1m-50 .5h.5m8 0h.5m1.5 0h1m1 0h.5m2 0h.5m2.5 0h.5m2.5 0h.5m.5 0h.5m4 0h.5m7 0h.5m1.5 0h1m4 0h.5m1 0h1m1 0h.5m.5 0h.5m-46 .5h.5m7.5 0h.5m1 0h1m1 0h1.5m13 0h.5m1 0h.5m3 0h.5m4.5 0h1m2 0h1m2.5 0h1m-48 .5h.5m1.5 0h.5m2.5 0h.5m7.5 0h.5m1 0h.5m1 0h.5m7.5 0h.5m3.5 0h.5m6 0h.5m2.5 0h1m3 0h.5m2 0h.5m1.5 0h1.5m.5 0h.5m-50 .5h.5m5 0h.5m8 0h.5m.5 0h.5m5 0h1.5m2.5 0h.5m5 0h.5m2.5 0h.5m.5 0h.5m1 0h.5m3.5 0h1m4 0h.5m1 0h1m1 0h.5m2.5 0h1m-46 .5h.5m7.5 0h.5m7 0h.5m9 0h.5m2.5 0h.5m1.5 0h.5m3.5 0h.5m2 0h.5m1 0h1m.5 0h1.5m.5 0h1m2.5 0h.5m7 0h.5m-60.5 .5h.5m4 0h1m1 0h.5m1 0h.5m7 0h.5m4.5 0h.5m9.5 0h.5m4 0h1m1 0h.5m2 0h.5m1 0h.5m.5 0h.5m1 0h3m2 0h2.5m1.5 0h.5m2.5 0h.5m1 0h.5m-52.5 .5h.5m.5 0h.5m9 0h.5m1.5 0h.5m6 0h.5m9.5 0h.5m1.5 0h1.5m.5 0h1m.5 0h2m1.5 0h.5m.5 0h.5m.5 0h2m.5 0h2m.5 0h.5m8 0h.5m-51 .5h.5m7 0h.5m2.5 0h.5m1 0h.5m6 0h.5m5.5 0h.5m.5 0h.5m1.5 0h.5m.5 0h1m.5 0h.5m.5 0h.5m1 0h.5m.5 0h3m.5 0h.5m.5 0h2m.5 0h.5m.5 0h.5m.5 0h.5m-47.5 .5h.5m4 0h.5m7 0h1m2 0h.5m16.5 0h.5m3 0h.5m.5 0h1.5m.5 0h2.5m.5 0h2.5m1 0h2m.5 0h.5m1 0h.5m.5 0h.5m1.5 0h.5m2.5 0h.5m3.5 0h.5m-55.5 .5h.5m7.5 0h.5m15 0h1m1 0h.5m4 0h.5m1 0h1m.5 0h1m.5 0h4m.5 0h1m.5 0h1.5m.5 0h1m.5 0h1.5m-45 .5h.5m7 0h1m5 0h.5m9.5 0h.5m1.5 0h.5m3.5 0h.5m.5 0h4m.5 0h.5m1.5 0h3m.5 0h2m.5 0h.5m.5 0h.5m12.5 0h.5m-63.5 .5h.5m4.5 0h.5m8 0h1m1 0h.5m4 0h.5m3 0h.5m3 0h.5m8 0h.5m.5 0h.5m2 0h1.5m.5 0h8.5m1 0h1.5m-49.5 .5h.5m1.5 0h.5m.5 0h1m7 0h.5m1 0h.5m1 0h.5m5 0h.5m1.5 0h1m4.5 0h.5m1.5 0h.5m3.5 0h1m1.5 0h1.5m1 0h.5m.5 0h1m2 0h3m.5 0h2m1 0h.5m1.5 0h1m-50.5 .5h.5m9.5 0h.5m19.5 0h.5m1.5 0h1m1 0h.5m.5 0h1m.5 0h2m3.5 0h1.5m.5 0h2m2 0h.5m7 0h1m-54 .5h.5m7 0h1m.5 0h.5m7 0h.5m6 0h.5m.5 0h.5m4.5 0h.5m.5 0h2.5m.5 0h.5m.5 0h.5m.5 0h.5m4 0h3m1 0h.5m1.5 0h.5m3.5 0h.5m-54 .5h.5m3 0h1m7 0h.5m15 0h.5m4 0h1m1 0h.5m.5 0h1.5m.5 0h3m4 0h2m.5 0h.5m1 0h1.5m1 0h1.5m.5 0h.5m4 0h.5m-56.5 .5h.5m2.5 0h1m7 0h.5m3.5 0h.5m9 0h1m8.5 0h.5m.5 0h1m.5 0h1.5m.5 0h.5m4 0h4m.5 0h1m25 0h.5m-63 .5h.5m.5 0h.5m20 0h.5m.5 0h1.5m.5 0h4m3.5 0h1m.5 0h1.5m.5 0h.5m1 0h.5m3 0h.5m-51.5 .5h.5m1.5 0h.5m.5 0h.5m8 0h1m.5 0h.5m10.5 0h.5m8.5 0h.5m1.5 0h1.5m1 0h.5m.5 0h1m2.5 0h4m.5 0h1m1.5 0h.5m.5 0h.5m-50 .5h.5m2 0h.5m7 0h1m3 0h.5m1 0h.5m14 0h1m1.5 0h4.5m.5 0h4.5m.5 0h1m.5 0h.5m.5 0h1m-36 .5h.5m10 0h.5m1 0h.5m2.5 0h.5m4 0h.5m.5 0h.5m3 0h.5m.5 0h3m.5 0h.5m1 0h5.5m.5 0h1m1.5 0h.5m-47 .5h1.5m6.5 0h.5m10.5 0h.5m9 0h1m2.5 0h.5m.5 0h1m.5 0h2.5m.5 0h1.5m.5 0h1m.5 0h1m1.5 0h.5m1 0h.5m-44.5 .5h.5m6.5 0h.5m19.5 0h.5m1.5 0h.5m1 0h.5m.5 0h1.5m1 0h1m.5 0h2m1 0h3m.5 0h1m.5 0h.5m1 0h.5m-47 .5h.5m14 0h.5m13 0h1m1.5 0h.5m2 0h.5m.5 0h1m1 0h1m.5 0h1.5m.5 0h.5m.5 0h1m.5 0h1m.5 0h.5m2 0h.5m-45 .5h.5m25.5 0h1m.5 0h1m2.5 0h1m4 0h1.5m.5 0h.5m.5 0h1.5m.5 0h.5m.5 0h1m2 0h.5m.5 0h1m-47.5 .5h1m6 0h.5m21.5 0h.5m1.5 0h1m1 0h.5m1.5 0h1m.5 0h1.5m.5 0h2.5m.5 0h1m1 0h.5m-43.5 .5h1m5.5 0h.5m23.5 0h.5m2.5 0h.5m1 0h2m.5 0h.5m.5 0h2m5.5 0h.5m-52 .5h.5m5 0h1m10.5 0h.5m17.5 0h.5m4 0h.5m7 0h.5m.5 0h.5m3 0h.5m-47.5 .5h.5m6.5 0h.5m1.5 0h.5m1 0h.5m20 0h.5m4 0h.5m.5 0h.5m.5 0h1.5m3.5 0h.5m-42 .5h.5m.5 0h.5m8.5 0h.5m10.5 0h.5m6 0h.5m3.5 0h.5m2 0h.5m1 0h.5m.5 0h.5m.5 0h.5m4 0h.5m-41.5 .5h.5m4.5 0h1m26.5 0h.5m.5 0h.5m1.5 0h.5m6 0h.5m-44.5 .5h.5m1.5 0h.5m4 0h.5m21 0h.5m1 0h.5m1.5 0h.5m1 0h.5m3.5 0h1m11.5 0h.5m-48 .5h.5m4 0h.5m24 0h.5m-30.5 .5h.5m1 0h.5m3.5 0h.5m29 0h.5m4.5 0h.5m1 0h.5m-37 .5h1.5m1.5 0h.5m24 0h.5m-36.5 .5h.5m4.5 0h1m2.5 0h.5m.5 0h.5m31 0h.5m-36.5 .5h1m2 0h1m38 0h.5m-43 .5h.5m1.5 0h2.5m2.5 0h.5m26.5 0h1m4 0h.5m-47 .5h.5m8.5 0h2m6.5 0h.5" stroke="rgb(10,10,240)" stroke-width="0.72" fill="none"/>
<path d="M187 156.45h1.5m-2 .5h2m-1.5 .5h1.5m-2 .5h2.5m-3 .5h1m1.5 0h.5m-3 .5h.5m2 0h.5m-3 .5h.5m2.5 0h.5m-3.5 .5h.5m2.5 0h.5m-.5 .5h.5m-4 .5h.5m3 0h.5m39.5 0h4.5m-48 .5h.5m3 0h.5m38.5 0h7m-49.5 .5h.5m41 0h2.5m4 0h2m-50 .5h.5m40.5 0h.5m.5 0h1m6 0h1.5m-50.5 .5h.5m40 0h2m7 0h1.5m-51 .5h.5m3.5 0h.5m35.5 0h2m8 0h1.5m-51.5 .5h.5m3.5 0h.5m35 0h2m9 0h1m-51.5 .5h.5m3.5 0h.5m34.5 0h2m10 0h1m-48 .5h.5m34.5 0h.5m.5 0h1m10.5 0h.5m-48 .5h.5m34 0h2m10.5 0h1.5m-48.5 .5h.5m34 0h2m11 0h1m-48.5 .5h.5m34 0h2m11 0h1m-48.5 .5h.5m34 0h2m11 0h1m-48.5 .5h.5m34 0h2m11 0h1m-48.5 .5h.5m34 0h2m11 0h1m-53 .5h.5m4 0h.5m34.5 0h1.5m10.5 0h1.5m-53 .5h.5m38.5 0h2m10.5 0h1.5m-53 .5h.5m39 0h2m10 0h1m-52.5 .5h.5m39 0h1.5m10.5 0h1m-52.5 .5h.5m39.5 0h2m9 0h1.5m-52.5 .5h.5m40 0h2m8.5 0h1m-52 .5h.5m40 0h2.5m7.5 0h1.5m-52 .5h.5m40.5 0h2.5m6.5 0h2m-52 .5h.5m4.5 0h.5m36 0h1.5m.5 0h.5m6 0h1.5m-51.5 .5h.5m4.5 0h.5m36.5 0h1m.5 0h1m5 0h2m-51.5 .5h.5m4.5 0h.5m37 0h3m3 0h2.5m-51 .5h.5m4.5 0h.5m38 0h7m-50.5 .5h.5m4.5 0h.5m38.5 0h6m-45 .5h.5m39 0h1.5m.5 0h3.5m-4.5 .5h3.5m-44 .5h.5m-.5 .5h.5m-.5 .5h.5m-.5 .5h.5m-.5 .5h.5m-.5 .5h.5m-.5 .5h.5m-.5 .5h.5m-6 .5h.5m-.5 .5h.5m-.5 .5h.5m-.5 .5h.5m-.5 .5h.5m-.5 .5h.5m-.5 .5h.5m-.5 1h.5m-.5 .5h.5m-.5 .5h.5m-.5 .5h.5m5.5 0h.5m-6.5 .5h.5m5.5 0h.5m-6.5 .5h.5m5.5 0h.5m-.5 .5h.5m-.5 1h.5m-.5 .5h.5m-.5 .5h.5m-.5 .5h.5m-.5 .5h.5m-.5 .5h.5m-.5 .5h.5m-.5 .5h.5m-.5 .5h.5m-7 2h.5m-.5 .5h.5m-.5 1.5h.5m-.5 .5h.5m6.5 .5h.5m-8 1h.5m-.5 1h.5m-.5 .5h.5m-.5 .5h.5m7 1h.5m-7.5 .5h.5m-.5 1h.5m-.5 .5h.5m-.5 .5h.5m-.5 .5h.5m-.5 .5h.5m-.5 .5h.5m-.5 .5h.5m-.5 .5h.5m-.5 .5h.5m-.5 .5h.5m-.5 .5h.5m35.5 0h2m-38 .5h.5m35 0h3.5m-39 .5h.5m34.5 0h4m-39 .5h.5m34.5 0h4m-39 .5h.5m34.5 0h4m-39 .5h.5m35 0h3.5m-39 .5h.5m35.5 0h2.5m-38.5 .5h.5m-.5 .5h.5m6 1.5h.5m-6.5 .5h.5m-.5 .5h.5m5 1h.5m-5.5 .5h.5m4 1h.5m-4.5 .5h.5m-.5 .5h.5m0 1h.5m2 .5h.5m-2.5 .5h2" stroke="rgb(10,20,240)" stroke-width="0.72" fill="none"/>
<path d="M187 158.45h1.5m-2 .5h.5m1 0h.5m-2 .5h.5m1.5 0h.5m-.5 .5h.5m-3 .5h.5m-.5 .5h.5m-.5 .5h.5m2.5 .5h.5m40 0h4m-44.5 .5h.5m39 0h1.5m3.5 0h1m-45.5 .5h.5m38.5 0h1m5.5 0h.5m-7.5 .5h.5m7 0h.5m-8.5 .5h.5m8 0h.5m-9.5 .5h1m8.5 0h.5m-51 .5h.5m40.5 0h.5m9 0h.5m-51 .5h.5m40 0h1m9 0h.5m-51 .5h.5m40 0h.5m10 0h.5m-51.5 .5h.5m40 0h.5m10 0h.5m-51.5 .5h.5m40 0h.5m10 0h.5m-51.5 .5h.5m40 0h.5m10 0h.5m-11 .5h.5m10 0h.5m-11 .5h1m9 0h.5m-47 .5h.5m36 0h1m9 0h.5m-47 .5h.5m36.5 0h.5m9 0h.5m-47 .5h.5m36.5 0h1m8 0h1m-47 .5h.5m37 0h1m7.5 0h.5m-46.5 .5h.5m37.5 0h1m6.5 0h.5m-46 .5h.5m38 0h1m5.5 0h1m-7 .5h1m4.5 0h1m-6 .5h1.5m3 0h1.5m-5.5 .5h5m-4 .5h3m-48.5 1.5h.5m-.5 .5h.5m-.5 .5h.5m-.5 .5h.5m-.5 .5h.5m-.5 .5h.5m-.5 .5h.5m4.5 2h.5m-.5 .5h.5m-.5 .5h.5m-.5 .5h.5m-.5 .5h.5m-.5 .5h.5m-6 4.5h.5m-.5 .5h.5m-.5 .5h.5m-.5 .5h.5m-.5 .5h.5m-.5 .5h.5m-.5 .5h.5m5.5 2.5h.5m-.5 .5h.5m-.5 .5h.5m-.5 .5h.5m-.5 .5h.5m-.5 .5h.5m-.5 .5h.5m0 2h.5m-.5 3h.5m-1 2h.5m-.5 .5h.5m-.5 9h.5m-.5 .5h.5m-6.5 .5h.5m5 1.5h.5m-5.5 .5h.5m4 1h.5m-4.5 .5h.5m3 1h.5m-3.5 .5h.5m0 1h.5" stroke="rgb(10,20,250)" stroke-width="0.72" fill="none"/>
<path d="M187 158.95h1m-1.5 1h.5m1.5 .5h.5m-3 1.5h.5m43.5 .5h.5m2.5 0h.5m-4.5 .5h.5m4.5 0h.5m-45.5 .5h.5m38.5 0h.5m-1 .5h.5m7 0h.5m0 .5h.5m-9 .5h.5m-1 1h.5m9 0h.5m-10 .5h.5m9 0h.5m-10 .5h.5m9 0h.5m-10 .5h.5m9 0h.5m-51 .5h.5m40.5 0h.5m9 0h.5m-51 .5h.5m41 1h.5m8 0h.5m-8.5 .5h.5m0 .5h.5m6.5 0h.5m-7 .5h.5m0 .5h.5m-40 .5h.5m39.5 0h.5m-40.5 .5h.5m40.5 0h1m1.5 0h.5m-48.5 6h.5m-.5 .5h.5m4.5 4h.5m-.5 .5h.5m-6 7h.5m-.5 .5h.5m5.5 12.5h.5m-.5 8h.5m-2.5 7h.5m-1 .5h.5" stroke="rgb(10,30,250)" stroke-width="0.72" fill="none"/>
<path d="M187 159.45h.5m.5 0h.5m42 3h.5m1.5 0h.5m-4.5 1h.5m5.5 0h.5m-46 .5h.5m38 .5h.5m7.5 .5h.5m-9 .5h.5m-42 3.5h.5m41 0h.5m8 0h.5m-50.5 .5h.5m48.5 1.5h.5m-1 .5h.5m-4.5 .5h.5m3 0h.5m-2.5 .5h1.5m-43.5 .5h.5m-5 6.5h.5m4.5 4.5h.5m-6 7.5h.5m5.5 4.5h.5m-.5 8h.5m-.5 .5h.5m-1 9.5h.5" stroke="rgb(0,30,250)" stroke-width="0.72" fill="none"/>
<path d="M187.5 159.45h.5m0 .5h.5m-2 .5h.5m1.5 .5h.5m-3 1.5h.5m44.5 0h1.5m-46.5 .5h.5m43 0h.5m3.5 0h.5m0 .5h.5m-6.5 .5h.5m-39.5 .5h.5m45.5 0h.5m-46.5 .5h.5m38 0h.5m-39 .5h.5m46 0h.5m-9 .5h.5m-.5 .5h.5m-.5 .5h.5m-.5 .5h.5m-.5 .5h.5m-.5 .5h.5m8 0h.5m-8.5 .5h.5m-.5 .5h.5m7 0h.5m-50 .5h.5m42 0h.5m6.5 0h.5m-50 .5h.5m42.5 0h.5m5.5 0h.5m-6 .5h.5m4.5 0h.5m-5 .5h1m3 0h.5m-3.5 .5h3m-44 1.5h.5m-.5 .5h.5m-.5 .5h.5m-5 5.5h.5m-.5 .5h.5m-.5 .5h.5m4.5 3.5h.5m-.5 .5h.5m-6 7h.5m-.5 .5h.5m-.5 .5h.5m-1 4h.5m6.5 1h.5m-.5 2h.5m-7.5 1h.5m6 1h.5m-.5 3h.5m-.5 .5h.5m-.5 .5h.5m-.5 .5h.5m-.5 4.5h.5m-2 6h.5m-2.5 2h1" stroke="rgb(0,40,250)" stroke-width="0.72" fill="none"/>
<path d="M187 159.95h1m0 .5h.5m-2 .5h.5m1.5 .5h.5m41 1.5h1m1.5 0h1m-47.5 .5h.5m42.5 0h.5m-43.5 .5h.5m42 0h.5m5.5 0h.5m-7 .5h.5m6.5 .5h.5m-8 .5h.5m-39 .5h.5m46 0h.5m-47 .5h.5m46 0h.5m-.5 .5h.5m-.5 .5h.5m-.5 .5h.5m-8.5 .5h.5m7 .5h.5m-7.5 .5h.5m0 .5h.5m5.5 0h.5m-6 .5h.5m4.5 0h.5m-49 .5h.5m43.5 0h.5m3.5 0h.5m-48.5 .5h.5m44.5 0h1m1 0h1m-48 .5h.5m3.5 3h.5m-.5 .5h.5m-.5 .5h.5m-5 5.5h.5m-.5 .5h.5m4.5 3.5h.5m-.5 .5h.5m-.5 .5h.5m-6 7h.5m-.5 .5h.5m-.5 .5h.5m-.5 .5h.5m-.5 .5h.5m6 3h.5m-.5 1h.5m-1 7.5h.5m-.5 .5h.5m-.5 .5h.5m-.5 2.5h.5m-6.5 2h.5m0 2h.5m4 1h.5m-4.5 .5h.5m0 1.5h.5m0 1h.5" stroke="rgb(0,50,250)" stroke-width="0.72" fill="none"/>
<path d="M187 160.45h1m0 .5h.5m-2 .5h.5m1.5 .5h.5m-.5 .5h.5m42 .5h1.5m-3 .5h.5m3.5 0h.5m-5 .5h.5m4.5 0h.5m-48.5 .5h.5m42 0h.5m5.5 0h.5m-49 .5h.5m41.5 0h.5m6.5 .5h.5m-8 .5h.5m-.5 .5h.5m-39 .5h.5m38 0h.5m-39 .5h.5m38 0h.5m-39 .5h.5m38 0h.5m7 .5h.5m-7.5 .5h.5m0 .5h.5m5.5 0h.5m-6 .5h.5m0 .5h.5m0 .5h1m2 0h.5m-2 .5h1m-47 1h.5m-.5 .5h.5m3.5 3.5h.5m-.5 .5h.5m-.5 .5h.5m-5 5h.5m-.5 .5h.5m4.5 4h.5m-.5 .5h.5m.5 11.5h.5m-7 3.5h.5m5.5 6h.5m-.5 .5h.5m-.5 .5h.5m-.5 .5h.5m-2.5 8h.5" stroke="rgb(0,60,250)" stroke-width="0.72" fill="none"/>
<path d="M187 160.95h1m-1.5 1h.5m1.5 1h.5m41 .5h1m2 0h.5m1 1.5h.5m-49 .5h.5m41.5 0h.5m-42.5 .5h.5m41.5 0h.5m6.5 0h.5m-.5 .5h.5m-.5 1h.5m-7.5 .5h.5m6.5 0h.5m-46.5 .5h.5m38.5 0h.5m-39.5 .5h.5m39 0h.5m5.5 0h.5m-1 1h.5m-4.5 .5h.5m3 0h.5m-3 .5h2m-47.5 2.5h.5m-.5 .5h.5m-.5 .5h.5m3.5 3.5h.5m-.5 .5h.5m-5 5h.5m-.5 .5h.5m4.5 4h.5m-.5 .5h.5m0 8h.5m-.5 5h.5m-6.5 1.5h.5m-.5 9h.5m5 1.5h.5m-1.5 3h.5" stroke="rgb(0,70,250)" stroke-width="0.72" fill="none"/>
<path d="M187 161.45h.5m.5 0h.5m-2 1h.5m1.5 1h.5m42 0h2m-3.5 .5h.5m3.5 0h.5m-5 .5h.5m4.5 0h.5m-6 .5h.5m-43 1.5h.5m41.5 0h.5m-42.5 .5h.5m41.5 0h.5m6.5 0h.5m-7.5 .5h.5m0 1h.5m5.5 0h.5m-46 1h.5m39.5 0h.5m4.5 0h.5m-45.5 .5h.5m40 0h.5m3.5 0h.5m-45 .5h.5m41 0h1m1 0h1m-48 4.5h.5m-.5 .5h.5m3.5 3.5h.5m-5 5.5h.5m-.5 .5h.5m4.5 4h.5m-.5 .5h.5m-6 14h.5m-.5 .5h.5m-.5 .5h.5m-.5 7h.5m1 5.5h.5m1.5 1.5h.5" stroke="rgb(0,80,250)" stroke-width="0.72" fill="none"/>
<path d="M187.5 161.45h.5m-1 .5h.5m.5 0h.5m-2 1h.5m1.5 1h.5m41 0h.5m2.5 0h.5m-45 .5h.5m40.5 0h.5m-1 .5h.5m-1 .5h.5m5.5 0h.5m-6.5 .5h.5m5.5 0h.5m-49 1.5h.5m-.5 .5h.5m42 0h.5m5.5 0h.5m-49 .5h.5m42.5 .5h.5m4.5 0h.5m-5 .5h.5m3.5 0h.5m-4 .5h.5m2.5 0h.5m-2 .5h1m-43.5 .5h.5m-.5 .5h.5m-4 4.5h.5m-.5 .5h.5m-.5 .5h.5m3.5 2.5h.5m-.5 .5h.5m-5 5.5h.5m-.5 .5h.5m4.5 4h.5m-.5 .5h.5m-6 5.5h.5m-1 1.5h.5m-.5 3h.5m0 1.5h.5m-.5 3h.5m-.5 .5h.5m-.5 .5h.5m-.5 5h.5m0 3h.5m4 1h.5m-3.5 3h.5m0 .5h.5" stroke="rgb(0,90,250)" stroke-width="0.72" fill="none"/>
<path d="M187.5 161.95h.5m0 .5h.5m-2 1h.5m-.5 .5h.5m43.5 0h1m.5 0h1m.5 .5h.5m-45.5 .5h.5m45 0h.5m-46 .5h.5m40 0h.5m-1 1h.5m5.5 0h.5m-6.5 .5h.5m5.5 0h.5m-6.5 .5h.5m5.5 0h.5m-6 1h.5m4.5 0h.5m-48.5 .5h.5m43 0h.5m-44 .5h.5m43.5 0h.5m0 .5h2.5m-44 2h.5m-.5 .5h.5m-4 5h.5m-.5 .5h.5m3.5 2.5h.5m-.5 .5h.5m-5 5.5h.5m4.5 4.5h.5m-.5 .5h.5m-6 15h.5m5 6.5h.5m-5 2.5h.5m2.5 2h.5m-1.5 1h.5" stroke="rgb(0,100,250)" stroke-width="0.72" fill="none"/>
<path d="M187 162.45h1m-1 .5h.5m.5 0h.5m43 1h.5m-45.5 .5h.5m43 0h1m2 0h.5m-47 .5h.5m42.5 0h.5m3.5 0h.5m0 .5h.5m-46 .5h.5m40 0h.5m4.5 0h.5m-46 .5h.5m40 0h.5m-41 .5h.5m40 0h.5m-.5 .5h.5m-.5 .5h.5m4.5 0h.5m-5 .5h.5m0 .5h.5m3 0h.5m-3.5 .5h.5m1.5 0h1m-47.5 .5h.5m-.5 .5h.5m2.5 2.5h.5m-.5 .5h.5m-4 5h.5m3.5 3h.5m-.5 .5h.5m-5 5h.5m-.5 .5h.5m-.5 .5h.5m4.5 4h.5m-.5 .5h.5m-6.5 5.5h.5m-.5 2h.5m0 7h.5m-.5 .5h.5m-.5 .5h.5m-.5 2.5h.5" stroke="rgb(0,110,250)" stroke-width="0.72" fill="none"/>
<path d="M187.5 162.95h.5m-1 .5h1.5m-1.5 .5h.5m.5 0h.5m-.5 .5h.5m42.5 0h2m-3 .5h.5m2.5 0h.5m-47 .5h.5m42.5 0h.5m3.5 0h.5m-47.5 .5h.5m42.5 0h.5m-43.5 .5h.5m47 0h.5m-.5 .5h.5m-46 .5h.5m45 0h.5m-46 .5h.5m40.5 0h.5m3.5 0h.5m-4 .5h.5m3 0h.5m-3.5 .5h.5m1.5 0h1m-2.5 .5h1.5m-46.5 1.5h.5m-.5 .5h.5m-.5 .5h.5m2.5 2h.5m-.5 .5h.5m-.5 .5h.5m-4 4h.5m-.5 .5h.5m-.5 .5h.5m3.5 2.5h.5m-.5 .5h.5m-.5 .5h.5m-5 5h.5m-.5 .5h.5m4.5 4h.5m-.5 .5h.5m-6 15h.5m-.5 .5h.5m-.5 .5h.5m-.5 .5h.5m0 3.5h.5m3.5 2.5h.5m-3.5 .5h.5m1.5 1.5h.5" stroke="rgb(0,120,250)" stroke-width="0.72" fill="none"/>
<path d="M187.5 163.95h.5m-1 .5h1m-1 .5h.5m.5 0h.5m42 0h1m.5 0h1m-45 .5h.5m41.5 0h.5m2.5 0h.5m-45.5 .5h.5m41.5 0h.5m3 0h.5m-4.5 .5h.5m3.5 0h.5m-47.5 .5h.5m42.5 0h.5m3.5 0h.5m-47.5 .5h.5m42.5 0h.5m3.5 0h.5m-4 .5h.5m-42 .5h.5m41.5 0h.5m1.5 0h1m-45 .5h.5m42 0h1.5m-44 .5h.5m-3 3h.5m-.5 .5h.5m-.5 .5h.5m2.5 2h.5m-.5 .5h.5m-.5 .5h.5m-.5 .5h.5m-4 3.5h.5m-.5 .5h.5m3.5 3h.5m-5 5.5h.5m-.5 .5h.5m4.5 4h.5m-.5 .5h.5m-.5 .5h.5m-.5 .5h.5m-6 1h.5m-1 2h.5m-.5 1h.5m0 2h.5m5 11h.5m-1 2h.5m-1.5 2.5h.5m-2.5 .5h.5m0 .5h.5" stroke="rgb(0,130,250)" stroke-width="0.72" fill="none"/>
<path d="M187.5 164.95h.5m43.5 0h.5m-45 .5h1m42.5 0h1m1 0h.5m-46 .5h1m42.5 0h.5m2 0h.5m-46.5 .5h.5m.5 0h.5m41.5 0h.5m2.5 0h.5m-45.5 .5h.5m41.5 0h.5m2.5 0h.5m-3.5 .5h.5m2.5 0h.5m-47 .5h.5m43.5 0h.5m1.5 0h1m-47 .5h.5m44 0h1.5m-46 .5h.5m1.5 1h.5m-.5 .5h.5m-.5 .5h.5m-3 3h.5m-.5 .5h.5m-.5 .5h.5m2.5 2.5h.5m-.5 .5h.5m-4 3.5h.5m-.5 .5h.5m3.5 2.5h.5m-.5 .5h.5m-5 5.5h.5m-.5 .5h.5m5 6h.5m-7 2h.5m6 2h.5m-1 1.5h.5m-.5 .5h.5m-5 12h.5m1.5 3h.5" stroke="rgb(0,140,250)" stroke-width="0.72" fill="none"/>
<path d="M231.5 165.45h1m-1.5 .5h2m-45.5 .5h.5m42.5 0h1m1 0h.5m-46 .5h1m42.5 0h1m1 0h.5m-46 .5h1.5m42 0h2.5m-45 .5h.5m42.5 0h1.5m-44.5 .5h.5m-2 1h.5m-.5 .5h.5m-.5 .5h.5m1.5 1h.5m-.5 .5h.5m-.5 .5h.5m-3 3h.5m-.5 .5h.5m-.5 .5h.5m2.5 2h.5m-4 4h.5m-.5 .5h.5m3.5 2.5h.5m-.5 .5h.5m-5 5.5h.5m-.5 .5h.5m4.5 11.5h.5m-.5 8.5h.5m-5.5 1h.5" stroke="rgb(0,150,250)" stroke-width="0.72" fill="none"/>
<path d="M231.5 166.45h1m-1 .5h1m-45.5 1h1m-1 .5h1m-1 .5h.5m.5 0h.5m-.5 .5h.5m-.5 .5h.5m-2 1h.5m-.5 .5h.5m-.5 .5h.5m1.5 1h.5m-.5 .5h.5m-3 3.5h.5m-.5 .5h.5m2.5 1.5h.5m-.5 .5h.5m-4 4h.5m3.5 3h.5m-.5 .5h.5m-5 5.5h.5m-.5 .5h.5m4.5 11h.5m-.5 .5h.5m-4.5 11.5h.5m2 .5h.5m-2.5 .5h.5m1 .5h.5" stroke="rgb(0,160,250)" stroke-width="0.72" fill="none"/>
<path d="M187.5 168.95h.5m-1 .5h1m-1 .5h1m-1 .5h.5m.5 0h.5m-.5 .5h.5m-2 1.5h.5m-.5 .5h.5m1.5 1h.5m-.5 .5h.5m-.5 .5h.5m-3 3h.5m2.5 2h.5m-.5 .5h.5m-4 3.5h.5m-.5 .5h.5m3.5 3h.5m-.5 .5h.5m-5 5.5h.5m-.5 .5h.5m4.5 2h.5m-.5 6h.5m-.5 3h.5m-.5 .5h.5m-.5 6h.5m-1 2.5h.5m-1 1.5h.5m-2.5 2h1" stroke="rgb(0,170,250)" stroke-width="0.72" fill="none"/>
<path d="M187.5 170.45h.5m-1 .5h1m-1 .5h.5m.5 0h.5m-.5 .5h.5m-.5 .5h.5m-2 1h.5m-.5 .5h.5m1.5 1.5h.5m-.5 .5h.5m-3 2.5h.5m-.5 .5h.5m2.5 2h.5m-4 4h.5m3.5 3.5h.5m-5 6h.5m-.5 .5h.5m-.5 .5h.5m4.5 10.5h.5m-.5 .5h.5m-.5 4.5h.5m-5 3.5h.5" stroke="rgb(0,180,250)" stroke-width="0.72" fill="none"/>
<path d="M187.5 171.45h.5m-1 .5h1m-1 .5h1m-1 .5h1.5m-1.5 .5h1.5m-1.5 .5h1.5m-2 .5h1m.5 0h.5m-2 .5h.5m1 0h.5m-2 .5h.5m-.5 .5h.5m-.5 .5h.5m1.5 0h.5m-2.5 .5h.5m1.5 0h.5m-.5 .5h.5m-.5 .5h.5m-3 1.5h.5m-.5 .5h.5m-.5 .5h.5m2.5 1h.5m-.5 .5h.5m-.5 .5h.5m-.5 .5h.5m-4 2.5h.5m-.5 .5h.5m-.5 .5h.5m-.5 .5h.5m3.5 2h.5m-.5 .5h.5m-.5 .5h.5m-.5 .5h.5m.5 7h.5m-.5 3h.5m-6 2h.5m-.5 .5h.5m4.5 4h.5m-.5 .5h.5m-.5 .5h.5m-.5 2.5h.5m-5.5 2h.5m4 1h.5m-3.5 3h.5m0 .5h.5m.5 0h.5" stroke="rgb(0,190,250)" stroke-width="0.72" fill="none"/>
<path d="M187.5 174.45h.5m-1 .5h.5m.5 .5h.5m-2 2h.5m1.5 1h.5m-3 2.5h.5m2.5 2.5h.5m-4 4h.5m3.5 3.5h.5m-5 12.5h.5m4.5 5h.5m-.5 1.5h.5m-4.5 5.5h.5m1 1.5h.5" stroke="rgb(0,200,250)" stroke-width="0.72" fill="none"/>
<path d="M187.5 174.95h.5m-1 .5h1m-1 .5h1.5m-1.5 .5h1.5m-1.5 .5h1.5m-1.5 .5h1.5m-2 .5h1m.5 0h.5m-2 .5h.5m1 0h.5m-2 .5h.5m1.5 0h.5m-2.5 .5h.5m1.5 0h.5m-.5 .5h.5m-.5 .5h.5m-3 1h.5m-.5 .5h.5m-.5 .5h.5m-.5 .5h.5m-.5 .5h.5m2.5 .5h.5m-.5 .5h.5m-.5 .5h.5m-.5 .5h.5m-4 2.5h.5m-.5 .5h.5m-.5 .5h.5m-.5 .5h.5m-.5 .5h.5m3.5 1.5h.5m-.5 .5h.5m-.5 .5h.5m-.5 .5h.5m-5 3h.5m4.5 .5h.5m-6 .5h.5m5.5 1h.5m-.5 2h.5m-6.5 1h.5m5 .5h.5m-5.5 .5h.5m-.5 2h.5m-.5 .5h.5m-.5 .5h.5m-.5 .5h.5m-.5 .5h.5m4.5 3h.5m-.5 .5h.5m-5.5 2h.5m-.5 .5h.5m4 1h.5m-4.5 1h.5m3 1h.5m-3 1h.5m1.5 0h.5m-2 .5h1.5" stroke="rgb(0,200,240)" stroke-width="0.72" fill="none"/>
<path d="M187.5 177.95h.5m-1 .5h.5m.5 .5h.5m-2 1h.5m1.5 1h.5m-.5 .5h.5m-3 2.5h.5m2.5 2h.5m-4 4.5h.5m3.5 3h.5m-.5 .5h.5m-5 12.5h.5m-.5 .5h.5m-.5 4h.5" stroke="rgb(0,210,240)" stroke-width="0.72" fill="none"/>
<path d="M187.5 178.45h.5m-1 .5h1m-1 .5h1.5m-1.5 .5h1.5m-2 .5h.5m1 0h.5m-2 .5h.5m-.5 .5h.5m-.5 .5h.5m1.5 0h.5m-.5 .5h.5m-.5 .5h.5m-3 1.5h.5m-.5 .5h.5m-.5 .5h.5m2.5 1h.5m-.5 .5h.5m-.5 .5h.5m-.5 .5h.5m-4 3h.5m-.5 .5h.5m-.5 .5h.5m3.5 2.5h.5m-.5 .5h.5m-.5 .5h.5m.5 3h.5m-.5 1h.5m-1.5 3h.5m-5 5h.5m-.5 .5h.5m-.5 .5h.5m-.5 2h.5m0 3h.5m3 1h.5m-3.5 .5h.5m2 .5h.5m-1 .5h.5" stroke="rgb(0,210,230)" stroke-width="0.72" fill="none"/>
<path d="M187 180.45h1m-1 .5h.5m.5 0h.5m-.5 .5h.5m-2 1h.5m1.5 1h.5m-.5 .5h.5m-3 2h.5m-.5 .5h.5m2.5 2h.5m-4 4h.5m-.5 .5h.5m3.5 10h.5m-5 6h.5m-.5 1h.5m4 2.5h.5m-3 3.5h.5" stroke="rgb(0,220,230)" stroke-width="0.72" fill="none"/>
<path d="M187.5 180.95h.5m-1 .5h1m-1 .5h1.5m-.5 .5h.5m-2 .5h.5m-.5 .5h.5m-.5 .5h.5m1.5 .5h.5m-.5 .5h.5m-3 2h.5m-.5 .5h.5m2.5 1.5h.5m-.5 .5h.5m-.5 .5h.5m-4 3.5h.5m-.5 .5h.5m-.5 .5h.5m-1 2h.5m-1 1h.5m5.5 1.5h.5m-6.5 1.5h.5m0 1h.5m4 2h.5m-.5 .5h.5m-.5 .5h.5m-5 5h.5m4 2.5h.5m-4.5 1h.5m3 1h.5m-3 1.5h.5m.5 .5h.5" stroke="rgb(0,220,220)" stroke-width="0.72" fill="none"/>
<path d="M187 182.45h.5m.5 .5h.5m-2.5 5h.5m-1 7h.5m0 19.5h.5" stroke="rgb(0,220,210)" stroke-width="0.72" fill="none"/>
<path d="M187.5 182.45h.5m.5 3h.5m0 5h.5m-4 5h.5m3.5 9.5h.5" stroke="rgb(0,230,210)" stroke-width="0.72" fill="none"/>
<path d="M187 182.95h1m0 .5h.5m-2 1h.5m1.5 1.5h.5m-3 2.5h.5m2.5 2.5h.5m0 14.5h.5" stroke="rgb(0,230,200)" stroke-width="0.72" fill="none"/>
<path d="M187 183.45h.5m2 12.5h.5m-1.5 19h.5" stroke="rgb(0,230,190)" stroke-width="0.72" fill="none"/>
<path d="M187.5 183.45h.5m0 .5h.5m-2 1h.5m-1 4h.5m2.5 2.5h.5m0 10.5h.5m-4.5 .5h.5m3.5 3.5h.5" stroke="rgb(10,230,190)" stroke-width="0.72" fill="none"/>
<path d="M187 183.95h.5m-1 1.5h.5m1.5 1h.5m-3 3h.5m3 22h.5m-2 4h.5" stroke="rgb(10,230,180)" stroke-width="0.72" fill="none"/>
<path d="M187.5 183.95h.5m0 .5h.5m0 2.5h.5m0 5h.5m-4 11h.5m3.5 3.5h.5m-4.5 6h.5" stroke="rgb(10,230,170)" stroke-width="0.72" fill="none"/>
<path d="M187 184.45h.5m-1 1.5h.5m-1 4h.5m-2 8h.5m-.5 2h.5" stroke="rgb(10,230,160)" stroke-width="0.72" fill="none"/>
<path d="M187.5 184.45h.5m-1 .5h.5m-1 1.5h.5m-1 4h.5m2.5 2.5h.5m-4 10.5h.5m3.5 3.5h.5m-.5 4h.5m-1 2.5h.5m-2 2h.5" stroke="rgb(20,230,150)" stroke-width="0.72" fill="none"/>
<path d="M187.5 184.95h.5m0 .5h.5m-2 1.5h.5m1.5 1h.5m-3 3h.5m-1 13h.5m0 10h.5m0 1h.5" stroke="rgb(20,230,140)" stroke-width="0.72" fill="none"/>
<path d="M188 184.95h.5m0 2.5h.5m0 5h.5m.5 4.5h.5m-.5 4h.5m-3.5 14.5h.5" stroke="rgb(20,230,160)" stroke-width="0.72" fill="none"/>
<path d="M187 185.45h.5m.5 .5h.5m0 2.5h.5m0 5h.5m0 14h.5" stroke="rgb(20,240,130)" stroke-width="0.72" fill="none"/>
<path d="M187.5 185.45h.5m-1 .5h.5m.5 .5h.5m-2 1h.5m1.5 1.5h.5m0 5h.5m-4 11h.5m3.5 3h.5m-.5 2.5h.5m-4.5 1.5h.5m2.5 2.5h.5" stroke="rgb(30,240,120)" stroke-width="0.72" fill="none"/>
<path d="M187.5 185.95h.5m-1.5 2h.5m-1 4h.5m2.5 2.5h.5" stroke="rgb(30,240,110)" stroke-width="0.72" fill="none"/>
<path d="M187 186.45h.5m.5 .5h.5m0 2.5h.5m0 5.5h.5m-4 1h.5m-1.5 2.5h.5m-.5 1h.5m.5 6h.5m3.5 3h.5" stroke="rgb(30,240,100)" stroke-width="0.72" fill="none"/>
<path d="M187.5 186.45h.5m-1.5 2h.5m-1 4h.5" stroke="rgb(40,240,100)" stroke-width="0.72" fill="none"/>
<path d="M187 186.95h1m-1 .5h1.5m-.5 .5h.5m-2 1h.5m-.5 .5h.5m1.5 .5h.5m-.5 .5h.5m-.5 .5h.5m-3 2h.5m-.5 .5h.5m2.5 2h.5m-4 6.5h.5m3 .5h.5m-4 3.5h.5m-.5 .5h.5m3.5 2.5h.5m-.5 .5h.5m-.5 .5h.5m-4.5 1.5h.5m3 1.5h.5m-3.5 .5h.5m0 1h.5m0 .5h.5m.5 0h.5" stroke="rgb(40,240,90)" stroke-width="0.72" fill="none"/>
<path d="M187 187.95h1m0 .5h.5m-2 1.5h.5m1.5 1.5h.5m-3 2.5h.5m3 2.5h.5m-.5 5h.5m-1 1.5h.5m-4 4h.5m1.5 8h.5" stroke="rgb(50,240,90)" stroke-width="0.72" fill="none"/>
<path d="M187 188.45h1m-1 .5h.5m.5 0h.5m-.5 .5h.5m-2 1h.5m1.5 1.5h.5m-3 2.5h.5m-.5 .5h.5m-2 4h.5m4 4.5h.5m-4 7.5h.5m2.5 3h.5" stroke="rgb(50,240,80)" stroke-width="0.72" fill="none"/>
<path d="M187.5 188.95h.5m-1 .5h1m0 .5h.5m-2 1h.5m-.5 .5h.5m1.5 1h.5m-.5 .5h.5m-3 2.5h.5m-1.5 1.5h.5m-.5 4h.5m3.5 3h.5m-4 3.5h.5m-.5 .5h.5m-.5 2.5h.5m3 2h.5m-3.5 .5h.5m1.5 1.5h.5" stroke="rgb(60,240,80)" stroke-width="0.72" fill="none"/>
<path d="M187 189.95h.5m.5 .5h.5m-2.5 12h.5m2.5 2h.5" stroke="rgb(60,240,70)" stroke-width="0.72" fill="none"/>
<path d="M187.5 189.95h.5m-1 .5h1m-1 .5h1.5m-.5 .5h.5m-2 .5h.5m-.5 .5h.5m1.5 1h.5m-.5 .5h.5m1 3.5h.5m-.5 3h.5m-4.5 2.5h.5m2.5 2h.5m-.5 .5h.5m-4 3h.5m-.5 .5h.5m-.5 1h.5m3 2h.5m-1 1.5h.5m-2.5 .5h.5m0 .5h1" stroke="rgb(70,240,70)" stroke-width="0.72" fill="none"/>
<path d="M186 191.45h.5m-1 13h.5" stroke="rgb(30,240,130)" stroke-width="0.72" fill="none"/>
<path d="M187 191.45h1m-1 .5h1.5m-.5 .5h.5m-2 1h.5m1.5 1h.5m-.5 .5h.5m-.5 .5h.5m-3.5 1h.5m-.5 5h.5m3 .5h.5m-3.5 1.5h.5m-.5 .5h.5m2.5 2h.5m-4 3.5h.5m3 2h.5m-3.5 1h.5m1.5 1.5h.5" stroke="rgb(80,240,60)" stroke-width="0.72" fill="none"/>
<path d="M187 192.45h.5m.5 .5h.5m-2 1h.5m-1 10.5h.5m2.5 2h.5" stroke="rgb(90,240,60)" stroke-width="0.72" fill="none"/>
<path d="M187.5 192.45h.5m-1 .5h.5m.5 .5h.5m-2 1h.5m-.5 .5h.5m1.5 7.5h.5m-3 2.5h.5m2.5 2h.5m-1 6h.5m-2.5 .5h.5m0 .5h.5" stroke="rgb(90,240,50)" stroke-width="0.72" fill="none"/>
<path d="M186.5 192.95h.5m2 3h.5" stroke="rgb(80,240,70)" stroke-width="0.72" fill="none"/>
<path d="M187.5 192.95h.5m-1 .5h1m0 .5h.5m-2 1.5h.5m-1 .5h.5m2 7h.5m-3 2.5h.5m2.5 2h.5m-.5 3.5h.5m-3.5 1h.5m1 2h.5" stroke="rgb(100,240,50)" stroke-width="0.72" fill="none"/>
<path d="M187 193.95h.5m.5 .5h.5m1.5 3.5h.5m-.5 2h.5m-4.5 6h.5" stroke="rgb(100,240,40)" stroke-width="0.72" fill="none"/>
<path d="M187.5 193.95h.5m-2 8h.5m2 1.5h.5" stroke="rgb(110,240,40)" stroke-width="0.72" fill="none"/>
<path d="M187 194.45h1m-1 .5h.5m.5 0h.5m-.5 .5h.5m-2 7h.5m-.5 .5h.5m1.5 1h.5m-3 2.5h.5m2.5 1.5h.5m-.5 2.5h.5m-3.5 1h.5m2 1h.5m-2.5 .5h.5m1 .5h.5" stroke="rgb(110,250,40)" stroke-width="0.72" fill="none"/>
<path d="M187.5 194.95h.5m-1 .5h.5m1 9h.5m0 4h.5m-2 5h.5" stroke="rgb(120,250,30)" stroke-width="0.72" fill="none"/>
<path d="M187.5 195.45h.5m-1.5 8h.5" stroke="rgb(120,240,30)" stroke-width="0.72" fill="none"/>
<path d="M186.5 195.95h.5m-.5 6h.5m.5 2h.5m-1 .5h.5m.5 .5h.5m-2 1h.5m1.5 1h.5m-3 2h.5m-.5 1h.5m.5 2.5h.5" stroke="rgb(170,240,20)" stroke-width="0.72" fill="none"/>
<path d="M187 195.95h.5m-2.5 2h.5m-.5 2h.5m2.5 2h.5m-1 3.5h.5m-1 .5h.5m-1 1h.5m1.5 1h.5m-2 4h.5" stroke="rgb(200,240,10)" stroke-width="0.72" fill="none"/>
<path d="M187.5 195.95h.5m-1 6h1m-.5 4h.5m0 .5h.5m0 4h.5m-2.5 .5h.5" stroke="rgb(210,240,0)" stroke-width="0.72" fill="none"/>
<path d="M188 195.95h.5m-2.5 .5h.5m-.5 5h.5m1 3.5h.5m-1 .5h.5m.5 .5h.5m-2 .5h.5m1.5 1h.5m-2.5 4h.5m1 .5h.5" stroke="rgb(190,240,10)" stroke-width="0.72" fill="none"/>
<path d="M188.5 195.95h.5m-4 1.5h.5m4.5 1h.5m-.5 1h.5m-5.5 1h.5m2 2h.5m-1 .5h.5m.5 0h.5m-2 1.5h.5m1.5 1h.5m-3 2h.5m2.5 2h.5m-1 2.5h.5m-2.5 .5h.5m0 .5h.5m.5 0h.5" stroke="rgb(140,240,30)" stroke-width="0.72" fill="none"/>
<path d="M186.5 196.45h.5m2.5 1h.5m-.5 3h.5m-3.5 1h.5m0 6.5h1m-1 .5h1.5m-.5 .5h.5m-2 .5h.5m1 .5h.5m-1.5 .5h1" stroke="rgb(240,220,0)" stroke-width="0.72" fill="none"/>
<path d="M187 196.45h.5m.5 0h.5m-3.5 2.5h.5m1.5 2.5h.5m.5 0h.5m-1.5 7.5h1m-1 .5h1.5m-1.5 .5h1" stroke="rgb(240,210,0)" stroke-width="0.72" fill="none"/>
<path d="M187.5 196.45h.5m1 .5h.5m-.5 4h.5m-2 .5h.5" stroke="rgb(240,200,0)" stroke-width="0.72" fill="none"/>
<path d="M188.5 196.45h.5m-4 2h.5m-.5 1h.5m3 2h.5m-2 5.5h1m-1 .5h1.5m-.5 .5h.5m-2 .5h.5m-.5 .5h.5m1.5 .5h.5m-2.5 .5h.5m-.5 .5h.5m1 0h.5m-1.5 .5h1.5" stroke="rgb(240,230,0)" stroke-width="0.72" fill="none"/>
<path d="M189 196.45h.5m-.5 5h.5m-1.5 2h.5m0 2.5h.5" stroke="rgb(150,240,30)" stroke-width="0.72" fill="none"/>
<path d="M185.5 196.95h.5m-.5 4h.5m1.5 5.5h.5m0 .5h.5m-2 1h.5m1.5 1h.5m-.5 1h.5m-2 1.5h1" stroke="rgb(230,240,0)" stroke-width="0.72" fill="none"/>
<path d="M186 196.95h.5m-.5 4h.5" stroke="rgb(250,180,0)" stroke-width="0.72" fill="none"/>
<path d="M186.5 196.95h.5m2 .5h.5m-.5 3h.5m-3 .5h.5" stroke="rgb(250,140,0)" stroke-width="0.72" fill="none"/>
<path d="M187 196.95h1m-2 .5h.5m-.5 3h.5m1 .5h.5" stroke="rgb(250,110,0)" stroke-width="0.72" fill="none"/>
<path d="M188 196.95h.5m-1.5 4h.5m.5 0h.5" stroke="rgb(250,120,0)" stroke-width="0.72" fill="none"/>
<path d="M188.5 196.95h.5m.5 2h.5m-1.5 2h.5" stroke="rgb(250,150,0)" stroke-width="0.72" fill="none"/>
<path d="M189.5 196.95h.5m-.5 4h.5m-1.5 1h.5m-1.5 1h.5m-1 .5h.5m.5 .5h.5m-2 1h.5m-1 3h.5m-.5 2.5h.5m1 2.5h.5" stroke="rgb(150,240,20)" stroke-width="0.72" fill="none"/>
<path d="M185.5 197.45h.5m-.5 3h.5" stroke="rgb(250,190,0)" stroke-width="0.72" fill="none"/>
<path d="M186.5 197.45h.5m-.5 3h.5" stroke="rgb(250,50,0)" stroke-width="0.72" fill="none"/>
<path d="M187 197.45h.5m.5 0h.5m.5 1.5h.5m-2.5 1.5h.5m.5 0h.5" stroke="rgb(240,40,0)" stroke-width="0.72" fill="none"/>
<path d="M187.5 197.45h.5m.5 .5h.5m-3 .5h.5m-.5 1h.5m2 .5h.5m-1.5 .5h.5" stroke="rgb(240,30,0)" stroke-width="0.72" fill="none"/>
<path d="M188.5 197.45h.5m-.5 3h.5" stroke="rgb(250,70,0)" stroke-width="0.72" fill="none"/>
<path d="M185.5 197.95h.5m-.5 2h.5" stroke="rgb(250,160,0)" stroke-width="0.72" fill="none"/>
<path d="M186 197.95h.5m2.5 .5h.5m-.5 1h.5m-3.5 .5h.5" stroke="rgb(250,60,0)" stroke-width="0.72" fill="none"/>
<path d="M186.5 197.95h.5m-.5 2h.5" stroke="rgb(240,20,0)" stroke-width="0.72" fill="none"/>
<path d="M187 197.95h1.5m-2 .5h2.5m-2.5 .5h2.5m-2.5 .5h2.5m-2 .5h1.5" stroke="rgb(230,0,0)" stroke-width="0.72" fill="none"/>
<path d="M189 197.95h.5m-4 1h.5m3 1h.5" stroke="rgb(250,100,0)" stroke-width="0.72" fill="none"/>
<path d="M189.5 197.95h.5m-.5 2h.5" stroke="rgb(240,190,0)" stroke-width="0.72" fill="none"/>
<path d="M185.5 198.45h.5m-.5 1h.5" stroke="rgb(250,130,0)" stroke-width="0.72" fill="none"/>
<path d="M189.5 198.45h.5m-.5 1h.5" stroke="rgb(250,170,0)" stroke-width="0.72" fill="none"/>
<path d="M186 198.95h.5" stroke="rgb(240,10,0)" stroke-width="0.72" fill="none"/>
<path d="M190 198.95h.5m-3 5.5h.5m-1 .5h.5m.5 .5h.5m-2.5 4h.5m2 1.5h.5m-1.5 1.5h.5" stroke="rgb(180,240,10)" stroke-width="0.72" fill="none"/>
<path d="M187 202.45h.5m.5 0h.5m-2 1.5h.5m1.5 1h.5m-3 2h.5m2.5 2h.5m-.5 1h.5m-3.5 1h.5" stroke="rgb(130,240,30)" stroke-width="0.72" fill="none"/>
<path d="M187.5 203.45h.5m-1 .5h.5m.5 .5h.5m-2 1h.5m1.5 1h.5m-3 2h.5m2 3h.5m-2.5 .5h.5m1 .5h.5" stroke="rgb(160,240,20)" stroke-width="0.72" fill="none"/>
<path d="M187 206.45h.5m-1 1h.5m1.5 1h.5m-1 3h.5" stroke="rgb(220,240,0)" stroke-width="0.72" fill="none"/>
<path d="M187.5 211.95h.5" stroke="rgb(210,240,10)" stroke-width="0.72" fill="none"/>
<path d="M187 213.45h.5" stroke="rgb(120,250,40)" stroke-width="0.72" fill="none"/>
</g>
<rect x="166" y="124.2" width="97.2" height="96.6" fill="none" stroke="#b4b4b4" stroke-width="0.9"/>
<line x1="163.7" y1="133.1" x2="166.2" y2="133.1" stroke="#111" stroke-width="0.75" stroke-linecap="butt"/>
<text x="155.4" y="135.8" font-size="4.5" font-family='"Liberation Sans", sans-serif' textLength="3.9" lengthAdjust="spacingAndGlyphs" fill="#4d4d4d">10</text>
<text x="159.5" y="132.9" font-size="3.3" font-family='"Liberation Sans", sans-serif' textLength="1.6" lengthAdjust="spacingAndGlyphs" fill="#4d4d4d">5</text>
<line x1="163.7" y1="155.4" x2="166.2" y2="155.4" stroke="#111" stroke-width="0.75" stroke-linecap="butt"/>
<text x="155.4" y="158.1" font-size="4.5" font-family='"Liberation Sans", sans-serif' textLength="3.9" lengthAdjust="spacingAndGlyphs" fill="#4d4d4d">10</text>
<text x="159.5" y="155.2" font-size="3.3" font-family='"Liberation Sans", sans-serif' textLength="1.6" lengthAdjust="spacingAndGlyphs" fill="#4d4d4d">4</text>
<line x1="163.7" y1="182" x2="166.2" y2="182" stroke="#111" stroke-width="0.75" stroke-linecap="butt"/>
<text x="155.4" y="184.7" font-size="4.5" font-family='"Liberation Sans", sans-serif' textLength="3.9" lengthAdjust="spacingAndGlyphs" fill="#4d4d4d">10</text>
<text x="159.5" y="181.8" font-size="3.3" font-family='"Liberation Sans", sans-serif' textLength="1.6" lengthAdjust="spacingAndGlyphs" fill="#4d4d4d">3</text>
<line x1="163.7" y1="199.2" x2="166.2" y2="199.2" stroke="#111" stroke-width="0.75" stroke-linecap="butt"/>
<text x="157.2" y="201.9" font-size="4.5" font-family='"Liberation Sans", sans-serif' textLength="2.1" lengthAdjust="spacingAndGlyphs" fill="#4d4d4d">0</text>
<line x1="163.7" y1="216.5" x2="166.2" y2="216.5" stroke="#111" stroke-width="0.75" stroke-linecap="butt"/>
<text x="154" y="219.2" font-size="4.5" font-family='"Liberation Sans", sans-serif' textLength="5.3" lengthAdjust="spacingAndGlyphs" fill="#4d4d4d">-10</text>
<text x="159.5" y="216.3" font-size="3.3" font-family='"Liberation Sans", sans-serif' textLength="1.6" lengthAdjust="spacingAndGlyphs" fill="#4d4d4d">3</text>
<line x1="171.6" y1="220.6" x2="171.6" y2="223" stroke="#111" stroke-width="0.75" stroke-linecap="butt"/>
<text x="168.15" y="232.9" font-size="4.5" font-family='"Liberation Sans", sans-serif' textLength="5.3" lengthAdjust="spacingAndGlyphs" fill="#4d4d4d">-10</text>
<text x="173.65" y="230" font-size="3.3" font-family='"Liberation Sans", sans-serif' textLength="1.6" lengthAdjust="spacingAndGlyphs" fill="#4d4d4d">3</text>
<line x1="187.4" y1="220.6" x2="187.4" y2="223" stroke="#111" stroke-width="0.75" stroke-linecap="butt"/>
<text x="186.15" y="232.9" font-size="4.5" font-family='"Liberation Sans", sans-serif' textLength="2.1" lengthAdjust="spacingAndGlyphs" fill="#4d4d4d">0</text>
<line x1="205.5" y1="220.6" x2="205.5" y2="223" stroke="#111" stroke-width="0.75" stroke-linecap="butt"/>
<text x="203.15" y="232.9" font-size="4.5" font-family='"Liberation Sans", sans-serif' textLength="3.9" lengthAdjust="spacingAndGlyphs" fill="#4d4d4d">10</text>
<text x="207.25" y="230" font-size="3.3" font-family='"Liberation Sans", sans-serif' textLength="1.6" lengthAdjust="spacingAndGlyphs" fill="#4d4d4d">3</text>
<line x1="231.9" y1="220.6" x2="231.9" y2="223" stroke="#111" stroke-width="0.75" stroke-linecap="butt"/>
<text x="230.85" y="232.9" font-size="4.5" font-family='"Liberation Sans", sans-serif' textLength="3.9" lengthAdjust="spacingAndGlyphs" fill="#4d4d4d">10</text>
<text x="234.95" y="230" font-size="3.3" font-family='"Liberation Sans", sans-serif' textLength="1.6" lengthAdjust="spacingAndGlyphs" fill="#4d4d4d">4</text>
<line x1="255.1" y1="220.6" x2="255.1" y2="223" stroke="#111" stroke-width="0.75" stroke-linecap="butt"/>
<text x="252.35" y="232.9" font-size="4.5" font-family='"Liberation Sans", sans-serif' textLength="3.9" lengthAdjust="spacingAndGlyphs" fill="#4d4d4d">10</text>
<text x="256.45" y="230" font-size="3.3" font-family='"Liberation Sans", sans-serif' textLength="1.6" lengthAdjust="spacingAndGlyphs" fill="#4d4d4d">5</text>
<rect x="163.8" y="197.1" width="2.5" height="4.3" fill="#111" stroke="none" stroke-width="1"/>
<rect x="185.1" y="220.6" width="4.8" height="2.1" fill="#111" stroke="none" stroke-width="1"/>
<line x1="164.5" y1="148.69" x2="166" y2="148.69" stroke="#333" stroke-width="0.5" stroke-linecap="butt"/>
<line x1="164.5" y1="173.99" x2="166" y2="173.99" stroke="#333" stroke-width="0.5" stroke-linecap="butt"/>
<line x1="213.45" y1="220.8" x2="213.45" y2="222.3" stroke="#333" stroke-width="0.5" stroke-linecap="butt"/>
<line x1="238.88" y1="220.8" x2="238.88" y2="222.3" stroke="#333" stroke-width="0.5" stroke-linecap="butt"/>
<line x1="164.5" y1="144.76" x2="166" y2="144.76" stroke="#333" stroke-width="0.5" stroke-linecap="butt"/>
<line x1="164.5" y1="169.31" x2="166" y2="169.31" stroke="#333" stroke-width="0.5" stroke-linecap="butt"/>
<line x1="218.1" y1="220.8" x2="218.1" y2="222.3" stroke="#333" stroke-width="0.5" stroke-linecap="butt"/>
<line x1="242.97" y1="220.8" x2="242.97" y2="222.3" stroke="#333" stroke-width="0.5" stroke-linecap="butt"/>
<line x1="164.5" y1="141.97" x2="166" y2="141.97" stroke="#333" stroke-width="0.5" stroke-linecap="butt"/>
<line x1="164.5" y1="165.99" x2="166" y2="165.99" stroke="#333" stroke-width="0.5" stroke-linecap="butt"/>
<line x1="221.39" y1="220.8" x2="221.39" y2="222.3" stroke="#333" stroke-width="0.5" stroke-linecap="butt"/>
<line x1="245.87" y1="220.8" x2="245.87" y2="222.3" stroke="#333" stroke-width="0.5" stroke-linecap="butt"/>
<line x1="164.5" y1="139.81" x2="166" y2="139.81" stroke="#333" stroke-width="0.5" stroke-linecap="butt"/>
<line x1="164.5" y1="163.41" x2="166" y2="163.41" stroke="#333" stroke-width="0.5" stroke-linecap="butt"/>
<line x1="223.95" y1="220.8" x2="223.95" y2="222.3" stroke="#333" stroke-width="0.5" stroke-linecap="butt"/>
<line x1="248.12" y1="220.8" x2="248.12" y2="222.3" stroke="#333" stroke-width="0.5" stroke-linecap="butt"/>
<line x1="164.5" y1="138.05" x2="166" y2="138.05" stroke="#333" stroke-width="0.5" stroke-linecap="butt"/>
<line x1="164.5" y1="161.3" x2="166" y2="161.3" stroke="#333" stroke-width="0.5" stroke-linecap="butt"/>
<line x1="226.04" y1="220.8" x2="226.04" y2="222.3" stroke="#333" stroke-width="0.5" stroke-linecap="butt"/>
<line x1="249.95" y1="220.8" x2="249.95" y2="222.3" stroke="#333" stroke-width="0.5" stroke-linecap="butt"/>
<line x1="164.5" y1="136.55" x2="166" y2="136.55" stroke="#333" stroke-width="0.5" stroke-linecap="butt"/>
<line x1="164.5" y1="159.52" x2="166" y2="159.52" stroke="#333" stroke-width="0.5" stroke-linecap="butt"/>
<line x1="227.81" y1="220.8" x2="227.81" y2="222.3" stroke="#333" stroke-width="0.5" stroke-linecap="butt"/>
<line x1="251.51" y1="220.8" x2="251.51" y2="222.3" stroke="#333" stroke-width="0.5" stroke-linecap="butt"/>
<line x1="164.5" y1="135.26" x2="166" y2="135.26" stroke="#333" stroke-width="0.5" stroke-linecap="butt"/>
<line x1="164.5" y1="157.98" x2="166" y2="157.98" stroke="#333" stroke-width="0.5" stroke-linecap="butt"/>
<line x1="229.34" y1="220.8" x2="229.34" y2="222.3" stroke="#333" stroke-width="0.5" stroke-linecap="butt"/>
<line x1="252.85" y1="220.8" x2="252.85" y2="222.3" stroke="#333" stroke-width="0.5" stroke-linecap="butt"/>
<line x1="164.5" y1="134.12" x2="166" y2="134.12" stroke="#333" stroke-width="0.5" stroke-linecap="butt"/>
<line x1="164.5" y1="156.62" x2="166" y2="156.62" stroke="#333" stroke-width="0.5" stroke-linecap="butt"/>
<line x1="230.69" y1="220.8" x2="230.69" y2="222.3" stroke="#333" stroke-width="0.5" stroke-linecap="butt"/>
<line x1="254.04" y1="220.8" x2="254.04" y2="222.3" stroke="#333" stroke-width="0.5" stroke-linecap="butt"/>
<line x1="173.2" y1="220.8" x2="173.2" y2="222.1" stroke="#444" stroke-width="0.5" stroke-linecap="butt"/>
<line x1="192.3" y1="220.8" x2="192.3" y2="222.1" stroke="#444" stroke-width="0.5" stroke-linecap="butt"/>
<line x1="164.7" y1="214.6" x2="166" y2="214.6" stroke="#444" stroke-width="0.5" stroke-linecap="butt"/>
<line x1="164.7" y1="194.6" x2="166" y2="194.6" stroke="#444" stroke-width="0.5" stroke-linecap="butt"/>
<line x1="174.8" y1="220.8" x2="174.8" y2="222.1" stroke="#444" stroke-width="0.5" stroke-linecap="butt"/>
<line x1="194.2" y1="220.8" x2="194.2" y2="222.1" stroke="#444" stroke-width="0.5" stroke-linecap="butt"/>
<line x1="164.7" y1="212.7" x2="166" y2="212.7" stroke="#444" stroke-width="0.5" stroke-linecap="butt"/>
<line x1="164.7" y1="192.7" x2="166" y2="192.7" stroke="#444" stroke-width="0.5" stroke-linecap="butt"/>
<line x1="176.4" y1="220.8" x2="176.4" y2="222.1" stroke="#444" stroke-width="0.5" stroke-linecap="butt"/>
<line x1="196.1" y1="220.8" x2="196.1" y2="222.1" stroke="#444" stroke-width="0.5" stroke-linecap="butt"/>
<line x1="164.7" y1="210.8" x2="166" y2="210.8" stroke="#444" stroke-width="0.5" stroke-linecap="butt"/>
<line x1="164.7" y1="190.8" x2="166" y2="190.8" stroke="#444" stroke-width="0.5" stroke-linecap="butt"/>
<line x1="178" y1="220.8" x2="178" y2="222.1" stroke="#444" stroke-width="0.5" stroke-linecap="butt"/>
<line x1="198" y1="220.8" x2="198" y2="222.1" stroke="#444" stroke-width="0.5" stroke-linecap="butt"/>
<line x1="164.7" y1="208.9" x2="166" y2="208.9" stroke="#444" stroke-width="0.5" stroke-linecap="butt"/>
<line x1="164.7" y1="188.9" x2="166" y2="188.9" stroke="#444" stroke-width="0.5" stroke-linecap="butt"/>
<line x1="179.6" y1="220.8" x2="179.6" y2="222.1" stroke="#444" stroke-width="0.5" stroke-linecap="butt"/>
<line x1="199.9" y1="220.8" x2="199.9" y2="222.1" stroke="#444" stroke-width="0.5" stroke-linecap="butt"/>
<line x1="164.7" y1="207" x2="166" y2="207" stroke="#444" stroke-width="0.5" stroke-linecap="butt"/>
<line x1="164.7" y1="187" x2="166" y2="187" stroke="#444" stroke-width="0.5" stroke-linecap="butt"/>
<line x1="181.2" y1="220.8" x2="181.2" y2="222.1" stroke="#444" stroke-width="0.5" stroke-linecap="butt"/>
<line x1="201.8" y1="220.8" x2="201.8" y2="222.1" stroke="#444" stroke-width="0.5" stroke-linecap="butt"/>
<line x1="164.7" y1="205.1" x2="166" y2="205.1" stroke="#444" stroke-width="0.5" stroke-linecap="butt"/>
<line x1="164.7" y1="185.1" x2="166" y2="185.1" stroke="#444" stroke-width="0.5" stroke-linecap="butt"/>
<line x1="182.8" y1="220.8" x2="182.8" y2="222.1" stroke="#444" stroke-width="0.5" stroke-linecap="butt"/>
<line x1="203.7" y1="220.8" x2="203.7" y2="222.1" stroke="#444" stroke-width="0.5" stroke-linecap="butt"/>
<line x1="164.7" y1="203.2" x2="166" y2="203.2" stroke="#444" stroke-width="0.5" stroke-linecap="butt"/>
<line x1="164.7" y1="183.2" x2="166" y2="183.2" stroke="#444" stroke-width="0.5" stroke-linecap="butt"/>
<rect x="207.4" y="152" width="40.4" height="36.4" fill="none" stroke="#333" stroke-width="0.85"/>
<rect x="207.4" y="192.8" width="40.4" height="25.4" fill="none" stroke="#333" stroke-width="0.85"/>
<rect x="243.5" y="197.3" width="5.1" height="13.2" fill="#fff" stroke="none" stroke-width="1"/>
<text x="249.6" y="167" font-size="4.8" font-family='"Liberation Sans", sans-serif' textLength="9.8" lengthAdjust="spacingAndGlyphs" fill="#555">MAIT</text>
<text x="250.3" y="174" font-size="4.8" font-family='"Liberation Sans", sans-serif' textLength="8.5" lengthAdjust="spacingAndGlyphs" fill="#555">9.21</text>
<text x="243.9" y="202.1" font-size="4.8" font-family='"Liberation Sans", sans-serif' textLength="16.6" lengthAdjust="spacingAndGlyphs" fill="#555">no-MAIT</text>
<text x="247.9" y="209.1" font-size="4.8" font-family='"Liberation Sans", sans-serif' textLength="8.6" lengthAdjust="spacingAndGlyphs" fill="#555">2.22</text>
<text x="336.5" y="118.5" font-size="9.2" font-family='"Liberation Serif", serif' font-weight="normal" text-anchor="middle" fill="#000">Skin GVHD</text>
<g filter="url(#soft)">
<path d="M302.7 134.95h.5m35.5 13.5h.5m4 1.5h.5m-6.5 1.5h.5m36 .5h.5m-36 .5h.5m11 0h.5m3 0h.5m-21 1h.5m14 0h.5m1 0h.5m-45.5 1.5h.5m26 0h.5m14 0h.5m11.5 0h.5m-52.5 .5h.5m1 0h.5m27.5 0h.5m17 0h.5m-49.5 .5h.5m1 0h.5m1 0h.5m34.5 0h.5m4 0h.5m3.5 0h.5m-45 1h.5m47.5 0h.5m-50 .5h.5m1 0h1.5m33.5 0h1m7.5 0h1m3 0h1m2.5 0h.5m-52.5 .5h1m.5 0h.5m26.5 0h.5m8 0h.5m6 0h.5m-44 .5h1m.5 0h1m31.5 0h.5m.5 0h.5m.5 0h.5m.5 0h1m3.5 0h.5m4.5 0h.5m2 0h.5m1.5 0h.5m.5 0h.5m3 0h.5m2 0h.5m-60 .5h1.5m.5 0h.5m1 0h.5m1 0h.5m23.5 0h.5m3.5 0h.5m2 0h.5m5 0h.5m2 0h2m3 0h.5m2 0h.5m-51 .5h2.5m.5 0h1m28.5 0h.5m2 0h.5m4.5 0h.5m.5 0h1m1 0h1.5m1 0h1m.5 0h.5m4.5 0h1.5m3 0h.5m-57.5 .5h4.5m27 0h.5m1.5 0h.5m1.5 0h.5m3.5 0h.5m.5 0h.5m1.5 0h1.5m.5 0h1m.5 0h1m2 0h.5m2 0h.5m1.5 0h.5m1.5 0h.5m.5 0h.5m-57 .5h2m.5 0h.5m.5 0h1m.5 0h.5m29 0h1m1 0h.5m1 0h.5m1.5 0h.5m2 0h1m.5 0h1m1 0h.5m.5 0h.5m2.5 0h1m2 0h1m6 0h.5m4.5 0h.5m-64.5 .5h2m.5 0h1m30.5 0h1m2.5 0h.5m1.5 0h1m.5 0h.5m.5 0h.5m.5 0h1.5m1 0h4m.5 0h.5m1 0h1.5m-53.5 .5h1m1.5 0h1.5m28.5 0h.5m1.5 0h.5m2.5 0h.5m.5 0h1m1 0h1.5m.5 0h1m.5 0h4.5m1 0h.5m.5 0h1.5m.5 0h.5m.5 0h.5m5.5 0h.5m-61 .5h1.5m2.5 0h1m.5 0h1m17 0h.5m9.5 0h.5m2.5 0h1m.5 0h.5m1 0h1m.5 0h1m.5 0h1m.5 0h.5m1 0h1.5m.5 0h5m.5 0h1m1 0h.5m.5 0h.5m3 0h.5m-60.5 .5h.5m1 0h1m2.5 0h.5m.5 0h.5m17.5 0h.5m6.5 0h1m4.5 0h1m2 0h1m.5 0h.5m1.5 0h2.5m1 0h6.5m.5 0h.5m-53 .5h1.5m3 0h.5m19.5 0h.5m3 0h.5m5 0h1m1 0h.5m1 0h.5m1.5 0h.5m2 0h4m5 0h.5m.5 0h1.5m.5 0h.5m2 0h.5m1.5 0h.5m-59 .5h1.5m3.5 0h.5m.5 0h.5m29 0h.5m.5 0h.5m2 0h3m1.5 0h1.5m7 0h.5m.5 0h2m1 0h.5m-56.5 .5h1.5m3 0h1m9 0h.5m14.5 0h.5m2 0h.5m2.5 0h.5m3 0h.5m.5 0h1m1 0h3m8 0h2.5m.5 0h.5m1 0h.5m-58 .5h2m3.5 0h.5m25.5 0h.5m3.5 0h.5m.5 0h.5m.5 0h.5m.5 0h2m.5 0h.5m1.5 0h1m9.5 0h2.5m1.5 0h1m-57.5 .5h1m3.5 0h1.5m2 0h.5m20.5 0h.5m5 0h.5m.5 0h.5m.5 0h.5m1 0h3m.5 0h1m10 0h3.5m1 0h.5m-58.5 .5h.5m.5 0h1m3.5 0h1m16.5 0h.5m9 0h.5m.5 0h1.5m1 0h.5m.5 0h2.5m.5 0h.5m.5 0h2.5m10.5 0h.5m.5 0h.5m1 0h1m15 0h.5m-73 .5h.5m.5 0h1m3.5 0h.5m1 0h.5m26.5 0h1m1 0h2.5m1 0h1.5m.5 0h1.5m11 0h1.5m1.5 0h1.5m-58 .5h1m4 0h1m23.5 0h.5m2 0h.5m4 0h.5m.5 0h.5m1 0h2.5m.5 0h.5m11 0h1.5m1 0h.5m1 0h.5m2.5 0h.5m.5 0h1m-62.5 .5h1m4 0h.5m25 0h.5m1.5 0h.5m3 0h.5m.5 0h.5m2 0h3m11.5 0h2m.5 0h.5m.5 0h.5m-57.5 .5h.5m4 0h1m.5 0h.5m24.5 0h.5m2 0h1m1 0h.5m1 0h.5m.5 0h4m11 0h2.5m.5 0h.5m1 0h.5m1 0h.5m-61 .5h.5m1 0h.5m4 0h1m24.5 0h.5m3.5 0h.5m3 0h1m.5 0h.5m1 0h.5m.5 0h.5m11 0h3.5m-57.5 .5h.5m.5 0h.5m4 0h1m2 0h.5m14 0h.5m8.5 0h.5m3 0h.5m.5 0h1.5m.5 0h1m.5 0h3m11 0h2m.5 0h.5m1 0h.5m.5 0h.5m.5 0h.5m-59.5 .5h.5m4 0h1m5 0h.5m17 0h1m3 0h.5m1.5 0h.5m.5 0h.5m1 0h.5m.5 0h.5m.5 0h.5m.5 0h3m10 0h2m.5 0h1m1 0h.5m.5 0h.5m5 0h.5m-64 .5h.5m4 0h.5m16 0h.5m8.5 0h.5m4.5 0h2.5m.5 0h.5m.5 0h1.5m.5 0h.5m.5 0h1m10 0h1.5m1 0h.5m2 0h.5m11.5 0h.5m-71 .5h1m4 0h1.5m13.5 0h.5m2 0h.5m11 0h1.5m1.5 0h.5m1.5 0h.5m.5 0h1m1 0h2m8.5 0h1m1.5 0h2m1 0h1m.5 0h.5m1.5 0h.5m3 0h.5m-66 .5h1.5m4 0h2m1 0h.5m21.5 0h1m3.5 0h1m.5 0h.5m.5 0h1m.5 0h6m7 0h1m.5 0h2m2 0h.5m.5 0h.5m.5 0h.5m-60 .5h1.5m4 0h1m8.5 0h.5m15 0h.5m3.5 0h.5m1.5 0h1m.5 0h.5m1 0h1m.5 0h2m.5 0h2.5m5.5 0h1.5m.5 0h3.5m2 0h.5m2.5 0h.5m-62.5 .5h1.5m4.5 0h.5m20 0h.5m8.5 0h.5m1 0h2m1.5 0h3m.5 0h2m.5 0h7m1 0h.5m3 0h.5m7.5 0h.5m-66 .5h1m4.5 0h.5m21.5 0h.5m3 0h.5m5 0h1m2 0h1m.5 0h.5m1 0h1m.5 0h1m1 0h4.5m.5 0h.5m.5 0h1m1 0h1m.5 0h.5m-55.5 .5h.5m4.5 0h1m23 0h.5m6.5 0h.5m.5 0h1m1 0h1m.5 0h2m.5 0h2m.5 0h.5m.5 0h1m.5 0h1.5m1 0h1m.5 0h.5m1 0h1.5m1.5 0h1m1.5 0h.5m.5 0h.5m1 0h.5m-62 .5h.5m4.5 0h1m31 0h1.5m.5 0h.5m2 0h.5m.5 0h.5m.5 0h1m.5 0h.5m.5 0h.5m.5 0h1.5m.5 0h.5m1.5 0h.5m.5 0h1m.5 0h.5m5 0h.5m-61 .5h.5m1 0h.5m4.5 0h.5m22 0h.5m4.5 0h.5m1 0h.5m.5 0h2m.5 0h.5m3 0h1.5m.5 0h3m.5 0h1m.5 0h1.5m.5 0h.5m.5 0h.5m2 0h.5m-55 .5h.5m.5 0h.5m4.5 0h1m24 0h.5m3.5 0h.5m2 0h1m2.5 0h1.5m1 0h2m1.5 0h.5m1 0h1m.5 0h1m.5 0h.5m1.5 0h.5m10 0h.5m-64 .5h1m6 0h.5m17.5 0h.5m.5 0h.5m4 0h.5m2 0h1m2 0h1.5m1.5 0h.5m1.5 0h.5m.5 0h.5m2 0h1.5m.5 0h2.5m2 0h.5m.5 0h.5m4 0h.5m-57 .5h.5m5.5 0h1m20 0h.5m6 0h.5m1.5 0h.5m1.5 0h.5m3 0h1m2.5 0h.5m2.5 0h1.5m.5 0h.5m2 0h.5m2 0h.5m-56 .5h2m5.5 0h.5m23.5 0h.5m1.5 0h.5m8.5 0h.5m2.5 0h1.5m2 0h.5m1 0h.5m1 0h.5m.5 0h1m1.5 0h.5m5.5 0h.5m-61 .5h1m4.5 0h1.5m7 0h.5m21.5 0h.5m3.5 0h.5m1.5 0h.5m1.5 0h.5m4 0h1m4 0h.5m8.5 0h.5m-62.5 .5h.5m4.5 0h.5m27.5 0h.5m5.5 0h1m1.5 0h.5m2 0h.5m3 0h1m.5 0h.5m2 0h.5m2 0h1m1.5 0h.5m2 0h.5m-59.5 .5h.5m4.5 0h1m32 0h.5m1 0h.5m2.5 0h1m.5 0h.5m6.5 0h1.5m-53.5 .5h1.5m4.5 0h.5m.5 0h.5m13 0h.5m10 0h.5m6 0h.5m3 0h.5m.5 0h1.5m.5 0h.5m3 0h.5m10 0h.5m-61.5 .5h.5m3 0h1m4.5 0h.5m37.5 0h1m1 0h.5m1.5 0h.5m4 0h.5m-52 .5h.5m5 0h.5m31 0h.5m6 0h.5m1 0h.5m2.5 0h.5m7 0h.5m-70 .5h.5m13.5 0h.5m4.5 0h1m32.5 0h.5m2.5 0h.5m4 0h.5m4 0h.5m10.5 0h.5m-65.5 .5h.5m3 0h.5m4.5 0h.5m-7.5 .5h.5m6.5 0h.5m5 0h.5m23.5 0h.5m6 0h.5m3 0h.5m.5 0h.5m.5 0h.5m-48.5 .5h.5m.5 0h1m4.5 0h1.5m21 0h.5m27 0h.5m-55.5 .5h.5m4.5 0h.5m.5 0h.5m23.5 0h.5m-31 .5h1m4.5 0h.5m42 0h.5m7.5 0h.5m-60.5 .5h.5m4 0h.5m4.5 0h.5m1.5 0h1m17 0h.5m26.5 0h.5m-52.5 .5h.5m4.5 0h.5m5.5 0h.5m-13 .5h.5m1 0h.5m4.5 0h1m52.5 0h.5m1.5 0h.5m-61 .5h.5m-.5 .5h.5m4.5 0h.5m1 0h.5m26 0h.5m12.5 0h.5m14 0h.5m-64 .5h1m2 0h.5m5 0h.5m25 0h.5m7 0h.5m6 0h.5m19 0h.5m-65 .5h.5m4.5 0h.5m.5 0h.5m30.5 0h.5m12.5 0h.5m7 0h.5m-61.5 .5h.5m2 0h1.5m4.5 0h.5m23.5 0h.5m8 0h.5m-39.5 .5h.5m6 0h.5m.5 0h.5m12 0h.5m-20.5 .5h.5m.5 0h1m4.5 0h.5m24.5 0h.5m-36 .5h.5m4.5 0h1m4.5 0h.5m.5 0h.5m4 0h.5m10.5 0h.5m9.5 0h.5m6.5 0h.5m4.5 0h.5m4 0h.5m-51.5 .5h1m1.5 0h1m4.5 0h1m10 0h.5m12 0h.5m4 0h.5m-33.5 .5h.5m4.5 0h1m9.5 0h.5m7.5 0h.5m-24.5 .5h1m5.5 0h1m33.5 0h.5m-42 .5h1.5m4.5 0h.5m-7 .5h2m4.5 0h.5m20 0h.5m-27 .5h1.5m4.5 0h.5m1 0h.5m2.5 0h.5m-20 .5h.5m9.5 0h.5m4.5 0h1m2 0h.5m5 0h.5m27.5 0h.5m-43.5 .5h1m.5 0h.5m4.5 0h.5m1 0h.5m4.5 0h.5m17.5 0h.5m1.5 0h.5m-33.5 .5h.5m1 0h.5m4.5 0h1m1.5 0h.5m2 0h.5m5.5 0h.5m21 0h.5m-43.5 .5h.5m1 0h.5m2.5 0h.5m.5 0h.5m4.5 0h.5m.5 0h.5m-1.5 .5h1m1.5 0h.5m1.5 0h.5m28.5 0h.5m-42.5 .5h.5m1 0h.5m6.5 0h.5m25.5 0h.5m9 0h.5m3 0h.5m-47 .5h.5m1.5 0h.5m5 0h.5m6 0h.5m16.5 0h1m6.5 0h1m31 0h.5m-71 .5h.5m7.5 0h.5m6 0h.5m.5 0h.5m.5 0h.5m24 0h.5m-42 .5h1m1.5 0h.5m5.5 0h1m3 0h.5m2 0h.5m8 0h.5m8 0h.5m2.5 0h.5m1.5 0h.5m1.5 0h.5m6 0h.5m-43.5 .5h.5m5.5 0h1.5m2.5 0h.5m17.5 0h.5m2.5 0h.5m.5 0h.5m4 0h.5m3 0h.5m8 0h.5m11 0h.5m-64 .5h1.5m.5 0h.5m.5 0h.5m6 0h1m.5 0h1m2.5 0h.5m15.5 0h.5m1 0h.5m3 0h.5m1.5 0h.5m2.5 0h.5m7 0h.5m.5 0h.5m.5 0h1m-48 .5h.5m6.5 0h1m1.5 0h.5m.5 0h1m5.5 0h.5m11 0h.5m8 0h1m5.5 0h.5m.5 0h.5m4.5 0h.5m6 0h.5m1 0h.5m-67 .5h.5m8 0h.5m7 0h.5m1 0h.5m3 0h.5m.5 0h.5m21 0h.5m2.5 0h.5m.5 0h.5m2 0h1m2.5 0h.5m1.5 0h.5m-48.5 .5h1m8 0h.5m1 0h.5m1.5 0h.5m.5 0h.5m2.5 0h.5m11 0h.5m1 0h1m1.5 0h.5m6.5 0h.5m.5 0h.5m2 0h1m1 0h1m1 0h1m3.5 0h.5m7.5 0h.5m-63.5 .5h.5m3.5 0h.5m.5 0h.5m7.5 0h1m2 0h.5m11.5 0h.5m14.5 0h.5m.5 0h.5m1 0h.5m3 0h.5m2 0h.5m1 0h.5m1.5 0h.5m5 0h.5m-61 .5h.5m1 0h.5m11.5 0h.5m7.5 0h.5m7 0h.5m6 0h.5m1 0h.5m2 0h.5m2 0h1m4 0h.5m1 0h.5m.5 0h1.5m6.5 0h.5m4.5 0h.5m6.5 0h.5m-66 .5h1m8 0h1m15.5 0h.5m3.5 0h.5m6 0h.5m1 0h.5m2.5 0h1.5m2.5 0h1.5m3.5 0h1m3.5 0h.5m1.5 0h.5m-56.5 .5h.5m8.5 0h.5m6 0h.5m7.5 0h.5m6.5 0h.5m3 0h1.5m1 0h1m1 0h1m2 0h.5m.5 0h.5m1 0h.5m5.5 0h.5m-54.5 .5h.5m4 0h.5m14.5 0h.5m15 0h.5m4 0h.5m2.5 0h1m1 0h.5m1.5 0h2m1.5 0h1m.5 0h.5m1.5 0h.5m3.5 0h.5m1.5 0h.5m10.5 0h.5m-69 .5h.5m2 0h.5m20 0h.5m2 0h.5m2 0h.5m1 0h.5m4.5 0h.5m2 0h.5m1.5 0h.5m1 0h1m.5 0h.5m2 0h1m1.5 0h1.5m1 0h.5m.5 0h1.5m.5 0h.5m.5 0h.5m2.5 0h.5m3 0h.5m-58.5 .5h1m9 0h.5m2.5 0h.5m3.5 0h.5m3.5 0h.5m2.5 0h.5m6 0h.5m3.5 0h2m1 0h.5m.5 0h.5m2 0h1m1 0h1m.5 0h1m5 0h.5m-42 .5h1m10.5 0h.5m.5 0h.5m.5 0h.5m9 0h.5m2 0h.5m.5 0h.5m3 0h.5m.5 0h1m.5 0h.5m2 0h.5m4 0h.5m1 0h1m4 0h.5m.5 0h.5m8.5 0h.5m-64.5 .5h.5m7.5 0h.5m9 0h.5m9.5 0h.5m2.5 0h.5m1.5 0h.5m.5 0h.5m1.5 0h.5m2 0h.5m2 0h.5m.5 0h.5m1.5 0h1m2 0h.5m.5 0h.5m1 0h1.5m-51 .5h1m7.5 0h1m.5 0h1.5m16 0h.5m3 0h.5m.5 0h.5m1.5 0h.5m2 0h.5m4.5 0h1m.5 0h.5m.5 0h1m.5 0h1m.5 0h.5m2.5 0h.5m1 0h.5m2 0h.5m5 0h.5m-64.5 .5h.5m4 0h.5m8.5 0h.5m20 0h.5m.5 0h.5m2 0h.5m.5 0h.5m1 0h.5m1 0h1.5m.5 0h1m1 0h1m.5 0h1m1 0h2m.5 0h.5m2.5 0h.5m.5 0h.5m3.5 0h.5m-70 .5h.5m13 0h1m.5 0h.5m8 0h.5m20 0h1m.5 0h.5m1.5 0h.5m2 0h.5m.5 0h1m.5 0h1m.5 0h1m1 0h3m.5 0h.5m.5 0h.5m1.5 0h.5m2 0h.5m.5 0h.5m.5 0h.5m.5 0h.5m-54.5 .5h1m8 0h.5m10.5 0h.5m12 0h1m1.5 0h1m.5 0h1m1 0h3m.5 0h2.5m2 0h1m.5 0h.5m2 0h.5m3.5 0h.5m-54 .5h.5m7.5 0h.5m.5 0h.5m2 0h1m16 0h.5m2.5 0h1m1.5 0h.5m.5 0h1.5m1 0h1m1.5 0h.5m2.5 0h2.5m1 0h.5m.5 0h.5m1 0h.5m3.5 0h.5m-64 .5h.5m9.5 0h1m17 0h.5m12.5 0h.5m1 0h1m.5 0h.5m3 0h1m1.5 0h.5m.5 0h2.5m.5 0h.5m1.5 0h.5m1 0h1.5m3 0h.5m4.5 0h.5m3 0h.5m-63.5 .5h.5m2 0h1m7.5 0h.5m20 0h.5m5 0h1.5m3 0h1.5m1 0h.5m.5 0h.5m3 0h3m.5 0h1m12 0h.5m2.5 0h.5m-69.5 .5h.5m2.5 0h1.5m7.5 0h.5m1.5 0h.5m17 0h.5m3.5 0h1m.5 0h1.5m2 0h.5m.5 0h1m.5 0h1m.5 0h.5m1 0h1m1 0h.5m.5 0h.5m1 0h1m.5 0h.5m.5 0h.5m-54.5 .5h.5m4 0h1m11.5 0h.5m4.5 0h.5m8 0h.5m7.5 0h.5m1 0h.5m.5 0h.5m1 0h.5m2 0h.5m1.5 0h.5m1 0h.5m1.5 0h.5m.5 0h.5m1.5 0h1m2 0h.5m10.5 0h.5m-63.5 .5h1m7.5 0h.5m1.5 0h.5m3 0h.5m1.5 0h.5m17.5 0h1.5m1 0h1m1 0h.5m.5 0h.5m.5 0h.5m.5 0h.5m2 0h1m.5 0h.5m1.5 0h1m3.5 0h1m-60 .5h.5m7 0h.5m8 0h.5m1.5 0h.5m1 0h.5m1 0h.5m4.5 0h.5m.5 0h.5m3 0h.5m2.5 0h.5m7 0h.5m2 0h.5m.5 0h1m.5 0h2m.5 0h1m1 0h.5m.5 0h1m1 0h.5m.5 0h.5m2 0h.5m1.5 0h.5m-54.5 .5h.5m.5 0h2m7 0h1m22.5 0h.5m2.5 0h.5m.5 0h.5m1 0h.5m2 0h.5m.5 0h.5m1 0h1m1 0h1.5m2 0h.5m.5 0h.5m3 0h.5m-52 .5h.5m7 0h.5m1.5 0h.5m1 0h.5m14.5 0h.5m5 0h.5m2 0h.5m1.5 0h.5m1 0h3m2.5 0h1m.5 0h1m4 0h.5m-50.5 .5h1m7 0h.5m1 0h.5m16 0h.5m3 0h.5m1.5 0h1m1 0h1m3.5 0h1.5m.5 0h.5m2.5 0h.5m1 0h1.5m1 0h.5m.5 0h1m.5 0h.5m5 0h.5m-55.5 .5h1m29 0h.5m.5 0h.5m.5 0h.5m.5 0h1m3.5 0h.5m1 0h.5m1 0h1.5m1 0h.5m.5 0h1m.5 0h1m.5 0h.5m.5 0h.5m2.5 0h.5m-51 .5h1m7.5 0h.5m20.5 0h.5m.5 0h.5m4.5 0h1m2.5 0h.5m3 0h.5m2.5 0h.5m4.5 0h.5m-52.5 .5h.5m.5 0h.5m.5 0h.5m6.5 0h.5m25.5 0h.5m1 0h.5m1 0h.5m2 0h1m.5 0h.5m4.5 0h.5m4 0h.5m3.5 0h.5m.5 0h.5m1 0h.5m-63 .5h.5m4.5 0h.5m8 0h.5m4 0h1m3 0h.5m3.5 0h.5m8.5 0h.5m1.5 0h.5m10.5 0h.5m7 0h.5m-52.5 .5h.5m2.5 0h.5m6.5 0h.5m.5 0h.5m2.5 0h.5m16.5 0h.5m1.5 0h.5m2 0h.5m5.5 0h.5m1 0h1m1.5 0h.5m1 0h1m.5 0h1.5m-50 .5h.5m.5 0h.5m1.5 0h.5m6 0h1m19 0h.5m4.5 0h.5m3.5 0h.5m1 0h1m1 0h2m1 0h1m2 0h.5m.5 0h.5m11.5 0h.5m-64.5 .5h.5m5 0h1.5m28.5 0h.5m4 0h.5m1 0h1m2.5 0h.5m3.5 0h1m7 0h.5m-51 .5h.5m5.5 0h2m7 0h.5m16.5 0h.5m2.5 0h1m5 0h.5m3.5 0h.5m.5 0h.5m9 0h.5m-59.5 .5h.5m2.5 0h1m7 0h.5m25.5 0h.5m1.5 0h.5m7.5 0h.5m.5 0h.5m3.5 0h.5m9.5 0h.5m-65 .5h.5m5 0h.5m5.5 0h.5m1.5 0h.5m16 0h.5m13.5 0h1m-38.5 .5h.5m4.5 0h.5m30 0h.5m1.5 0h.5m8.5 0h.5m12 0h1m-61 .5h.5m5.5 0h1m1 0h.5m29.5 0h.5m15 0h.5m-60 .5h.5m3 0h.5m3 0h.5m4.5 0h1m.5 0h.5m-2 .5h1m21.5 0h.5m11.5 0h.5m-40.5 .5h.5m.5 0h.5m31 0h.5m4.5 0h.5m18 0h.5m-60 .5h.5m4 0h.5m3 0h.5m8.5 0h.5m-13 .5h1m2.5 0h1m28.5 0h.5m5.5 0h.5m28 0h.5m-68.5 .5h1m2.5 0h.5m.5 0h1m3.5 0h.5m-24 .5h.5m15.5 0h.5m1.5 0h1m.5 0h.5m.5 0h.5m31 0h.5m-37 .5h.5m.5 0h1.5m.5 0h.5m.5 0h.5m7.5 0h.5m46.5 0h.5m-61 .5h.5m2 0h1m.5 0h1m-4.5 1h.5m2.5 0h.5m-5 .5h.5" stroke="rgb(10,10,240)" stroke-width="0.72" fill="none"/>
<path d="M304.2 161.45h1m-1.5 .5h2m-2 .5h2.5m-2 .5h2m41.5 0h5m-49.5 .5h3m40.5 0h7m-50.5 .5h3m40 0h2.5m3 0h2.5m-51 .5h3.5m38.5 0h2.5m5 0h2m-51.5 .5h1m1.5 0h1m38 0h2.5m6 0h1.5m-51.5 .5h.5m2 0h1m38 0h2m7.5 0h1m-52 .5h.5m2 0h1m37.5 0h2.5m7 0h1.5m-52 .5h.5m2.5 0h.5m37.5 0h2m8 0h1m-52.5 .5h1m2.5 0h.5m37.5 0h2m8 0h1.5m-53 .5h1m2.5 0h.5m37.5 0h2m8 0h1m-52.5 .5h1m2.5 0h.5m37.5 0h2m7.5 0h1.5m-52.5 .5h.5m3 0h.5m37.5 0h2.5m7 0h1.5m-52.5 .5h.5m3 0h.5m38 0h2.5m6 0h1.5m-52 .5h.5m3 0h.5m38.5 0h2.5m5 0h2m-52 .5h.5m3 0h.5m39 0h2.5m3.5 0h2.5m-51.5 .5h.5m3 0h.5m39.5 0h7m-50.5 .5h.5m3 0h.5m40.5 0h5.5m-50 .5h.5m3 0h1m-4.5 .5h.5m3 0h1m-4.5 .5h.5m3.5 0h.5m-4.5 .5h.5m3.5 0h.5m-4.5 .5h.5m3.5 0h.5m-4.5 .5h.5m3.5 0h.5m-4.5 .5h.5m3.5 0h.5m-4.5 .5h.5m3.5 0h.5m-4.5 .5h.5m3.5 0h.5m-4.5 .5h.5m3.5 0h.5m-4.5 .5h.5m3.5 0h.5m-4.5 .5h.5m3.5 0h.5m-4.5 .5h.5m3.5 0h.5m-4.5 .5h.5m3.5 0h.5m-4.5 .5h.5m3.5 0h.5m-4.5 .5h.5m3.5 0h.5m-4.5 .5h.5m3.5 0h.5m-4.5 .5h.5m3.5 0h.5m-4.5 .5h.5m3.5 0h.5m-4.5 .5h.5m3.5 0h.5m-4.5 .5h.5m3.5 0h.5m-4.5 .5h.5m3.5 0h.5m-4.5 .5h.5m3.5 0h.5m-4.5 .5h.5m3.5 0h.5m-4.5 .5h.5m3.5 0h.5m-4.5 .5h.5m3.5 0h.5m-4.5 .5h.5m-.5 .5h.5m3.5 0h.5m-4.5 .5h.5m3.5 0h.5m-4.5 .5h.5m3.5 0h.5m-.5 .5h.5m-4.5 .5h.5m3.5 0h.5m-4.5 .5h.5m3.5 0h.5m-4.5 .5h.5m3.5 0h.5m-4.5 .5h.5m3.5 0h.5m-4.5 .5h.5m3.5 0h.5m-.5 .5h.5m-.5 .5h.5m-.5 1h.5m-.5 .5h.5m-.5 .5h.5m-5 .5h.5m-.5 .5h.5m-.5 .5h.5m-.5 .5h.5m4.5 0h.5m-.5 .5h.5m-.5 .5h.5m-6 .5h.5m5.5 .5h.5m-7 .5h.5m6.5 .5h.5m-8 1h.5m-.5 .5h.5m7.5 1h.5m-.5 .5h.5m-.5 .5h.5m-8.5 .5h.5m7 1h.5m-.5 .5h.5m-.5 .5h.5m-.5 .5h.5m-.5 .5h.5m-.5 .5h.5m-.5 .5h.5m-.5 .5h.5m-.5 .5h.5m-7.5 .5h.5m6.5 0h.5m-7.5 .5h.5m6.5 0h.5m-7.5 .5h.5m-.5 .5h.5m-.5 .5h.5m-.5 .5h.5m6 .5h.5m-.5 .5h.5m-6.5 .5h.5m5.5 0h.5m-6.5 .5h.5m-.5 .5h.5m5 .5h.5m-.5 .5h.5m-5.5 .5h.5m4.5 0h.5m-1 1.5h.5m-4.5 .5h.5m3.5 0h.5m-4.5 .5h.5m0 .5h.5m2.5 0h.5m-3.5 .5h.5m0 .5h.5m1.5 0h.5m-2.5 .5h2m-1.5 .5h1.5" stroke="rgb(10,20,240)" stroke-width="0.72" fill="none"/>
<path d="M348.7 163.95h3m-4 .5h1.5m2.5 0h1m-48.5 .5h1.5m41.5 0h1m4 0h1m-49.5 .5h2m41 0h1m5 0h1m-50 .5h2m47.5 0h.5m-50 .5h.5m1 0h1m40 0h1m6 0h1m-50.5 .5h.5m1.5 0h.5m40 0h1m6 0h1m-50.5 .5h.5m1.5 0h.5m40 0h1m6 0h1m-48.5 .5h.5m40 0h1m6 0h.5m-50.5 .5h.5m2 0h.5m40.5 0h1m5 0h1m-50.5 .5h.5m2 0h.5m41 0h1m4 0h1m-50 .5h.5m2 0h.5m41.5 0h2m1.5 0h1.5m-49.5 .5h.5m45 0h3m-48.5 .5h.5m-.5 .5h.5m-.5 .5h.5m-.5 .5h.5m-.5 .5h.5m2.5 0h.5m-3.5 .5h.5m2.5 0h.5m-3.5 .5h.5m2.5 0h.5m-.5 .5h.5m-.5 .5h.5m-.5 .5h.5m-.5 .5h.5m-.5 .5h.5m-.5 .5h.5m-.5 .5h.5m-.5 .5h.5m-.5 .5h.5m-.5 .5h.5m-.5 .5h.5m-.5 .5h.5m-.5 .5h.5m-4 9.5h.5m-.5 .5h.5m-.5 .5h.5m-.5 .5h.5m-.5 .5h.5m3.5 1h.5m-.5 .5h.5m-5 1.5h.5m5.5 3h.5m-8 1.5h.5m-.5 .5h.5m-.5 .5h.5m-.5 .5h.5m7 1h.5m-7.5 1h.5m-.5 2h.5m-.5 .5h.5m-.5 .5h.5m-.5 .5h.5m6 3h.5m-6.5 1h.5m5 1.5h.5m-5.5 1h.5m4 1.5h.5m-4.5 .5h.5m3 1h.5m-3 1h.5m1.5 0h.5m-1 .5h.5" stroke="rgb(10,20,250)" stroke-width="0.72" fill="none"/>
<path d="M349.2 164.45h2.5m-3.5 .5h.5m-1 .5h.5m-1 .5h.5m-43.5 .5h1m42 0h.5m-43.5 .5h.5m.5 0h.5m-.5 .5h.5m41.5 0h.5m-44 .5h.5m43 0h.5m5 0h.5m-49.5 .5h.5m43.5 0h.5m-44.5 .5h.5m44 0h.5m3 0h.5m-2.5 .5h1.5m-45.5 .5h.5m-.5 .5h.5m-.5 .5h.5m-3 3h.5m-.5 .5h.5m-.5 .5h.5m-.5 .5h.5m2.5 5h.5m-.5 .5h.5m-.5 .5h.5m-.5 .5h.5m-.5 .5h.5m-.5 .5h.5m-.5 .5h.5m-.5 .5h.5m-.5 .5h.5m-.5 .5h.5m-.5 .5h.5m-.5 .5h.5m-.5 .5h.5m-4 5.5h.5m4 3.5h.5m-6.5 1.5h.5m-.5 5h.5m-.5 1h.5m-.5 .5h.5m-.5 .5h.5m6 4.5h.5m-1.5 5h.5m-3 3.5h1" stroke="rgb(10,30,250)" stroke-width="0.72" fill="none"/>
<path d="M348.7 164.95h.5m2.5 0h.5m0 .5h.5m0 .5h.5m-.5 .5h.5m-48.5 .5h.5m42 0h.5m-43.5 .5h1m47.5 0h.5m-49 .5h.5m.5 0h.5m42 0h.5m-43 .5h.5m46.5 0h.5m-4 .5h.5m2 0h.5m-48 .5h.5m-.5 .5h.5m1.5 1.5h.5m-.5 .5h.5m-.5 .5h.5m-3 3.5h.5m-.5 .5h.5m-.5 .5h.5m-.5 .5h.5m2.5 9.5h.5m-.5 .5h.5m-.5 .5h.5m-4 4.5h.5m3.5 1h.5m-5 1.5h.5m-1 1h.5m-.5 13.5h.5m4 5.5h.5m-3.5 .5h.5m2 .5h.5" stroke="rgb(0,30,250)" stroke-width="0.72" fill="none"/>
<path d="M349.2 164.95h2.5m-3.5 .5h1m2.5 0h.5m-4.5 .5h.5m4 0h.5m-5 .5h.5m-.5 .5h.5m4.5 0h.5m-5.5 .5h.5m-43.5 .5h.5m43 0h.5m3.5 0h.5m-48.5 .5h1m43 0h1m2.5 0h.5m-48 .5h1.5m43.5 0h2m-47 .5h1.5m-1.5 .5h.5m.5 0h.5m-2 .5h.5m1 0h.5m-2 .5h.5m-.5 .5h.5m-.5 .5h.5m-.5 .5h.5m1.5 .5h.5m-.5 .5h.5m-.5 .5h.5m-.5 .5h.5m-3 3.5h.5m-.5 .5h.5m-.5 .5h.5m-.5 .5h.5m-.5 .5h.5m-.5 .5h.5m-.5 .5h.5m-.5 .5h.5m-.5 .5h.5m-.5 .5h.5m2.5 6h.5m-.5 .5h.5m-.5 .5h.5m1 7h.5m0 1.5h.5m-1 9.5h.5m-.5 .5h.5m-1 3h.5m-5.5 1h.5m0 2h.5m2 2.5h.5" stroke="rgb(0,40,250)" stroke-width="0.72" fill="none"/>
<path d="M349.2 165.45h.5m1.5 0h.5m-3.5 .5h1m2.5 0h.5m-4 .5h.5m3.5 0h.5m-4.5 .5h.5m3.5 0h.5m-4.5 .5h.5m3.5 0h.5m-4 .5h.5m2.5 0h.5m-3 .5h2.5m-47 1.5h.5m-1 .5h1m-1 .5h1.5m-1.5 .5h1.5m-1.5 .5h.5m.5 0h.5m-.5 .5h.5m-2 .5h.5m-.5 .5h.5m-.5 .5h.5m-.5 .5h.5m1.5 .5h.5m-.5 .5h.5m-.5 .5h.5m-.5 .5h.5m-.5 .5h.5m-.5 .5h.5m-3 5.5h.5m-.5 .5h.5m-.5 .5h.5m-.5 .5h.5m-.5 .5h.5m-.5 .5h.5m-.5 .5h.5m-.5 .5h.5m-.5 .5h.5m2.5 3h.5m-.5 .5h.5m-4 2.5h.5m3.5 1h.5m1 7h.5m-1 5.5h.5m-.5 .5h.5m-6.5 2h.5m4.5 4h.5m-3.5 3h.5m0 .5h1" stroke="rgb(0,50,250)" stroke-width="0.72" fill="none"/>
<path d="M349.7 165.45h1.5m-2 .5h.5m1.5 0h.5m-3 .5h.5m2.5 0h.5m-3.5 .5h.5m2.5 0h.5m-3.5 .5h.5m2 0h1m-3 .5h2.5m-47 4h.5m-1 .5h1m-1 .5h1.5m-1.5 .5h1.5m-1.5 .5h.5m.5 0h.5m-.5 .5h.5m-2 .5h.5m-.5 .5h.5m-.5 .5h.5m-.5 .5h.5m-.5 .5h.5m1.5 1h.5m-.5 .5h.5m-.5 .5h.5m-.5 .5h.5m-.5 .5h.5m-3 7.5h.5m-.5 .5h.5m-.5 .5h.5m2.5 2.5h.5m-.5 .5h.5m0 3h.5m-6 7h.5m6 4.5h.5m-1 4.5h.5m-5.5 1h.5m0 2h.5m3 1h.5m-3.5 .5h.5" stroke="rgb(0,60,250)" stroke-width="0.72" fill="none"/>
<path d="M349.7 165.95h1.5m-2 .5h2.5m-2.5 .5h2.5m-2.5 .5h2m-46.5 6.5h.5m-1 .5h1m-1 .5h1.5m-1.5 .5h1.5m-.5 .5h.5m-.5 .5h.5m-2 1h.5m-.5 .5h.5m-.5 .5h.5m-.5 .5h.5m-.5 .5h.5m1.5 1h.5m-.5 .5h.5m-.5 .5h.5m-.5 .5h.5m-.5 .5h.5m-.5 .5h.5m-.5 .5h.5m-3 5.5h.5m-.5 .5h.5m2.5 2.5h.5m-4 1.5h.5m-1 2h.5m5 7h.5m-.5 2.5h.5m-.5 .5h.5m-6.5 3h.5m3.5 7h.5" stroke="rgb(0,70,250)" stroke-width="0.72" fill="none"/>
<path d="M304.2 175.95h1m-1 .5h1m-1 .5h1.5m-1.5 .5h.5m.5 0h.5m-.5 .5h.5m-.5 .5h.5m-2 1.5h.5m-.5 .5h.5m-.5 .5h.5m-.5 .5h.5m-.5 .5h.5m1.5 2h.5m-.5 .5h.5m-.5 .5h.5m-.5 .5h.5m-.5 .5h.5m-.5 .5h.5m-3 3.5h.5m-.5 .5h.5m2.5 2h.5m-4 1.5h.5m-2 3.5h.5m6.5 1h.5m-1 5.5h.5m-.5 .5h.5m-6.5 3h.5m-.5 .5h.5m5 2h.5m-5.5 1h.5m4 1.5h.5m-3 3.5h.5m.5 0h.5" stroke="rgb(0,80,250)" stroke-width="0.72" fill="none"/>
<path d="M304.7 177.45h.5m-1 .5h1m-1 .5h1m-1 .5h1.5m-1.5 .5h.5m.5 0h.5m-.5 .5h.5m-.5 .5h.5m-2 2h.5m-.5 .5h.5m-.5 .5h.5m-.5 .5h.5m-.5 .5h.5m1.5 2.5h.5m-.5 .5h.5m-3 3.5h.5m-.5 .5h.5m3 3.5h.5m1 5.5h.5m-1 2.5h.5m-.5 .5h.5m-6.5 3.5h.5m.5 6h.5m3 1h.5m-3 1.5h.5m.5 .5h.5" stroke="rgb(0,90,250)" stroke-width="0.72" fill="none"/>
<path d="M304.7 179.45h.5m-1 .5h1m-1 .5h1m-1 .5h1.5m-1.5 .5h.5m.5 0h.5m-.5 .5h.5m-.5 .5h.5m-2 2.5h.5m-.5 .5h.5m-.5 .5h.5m-.5 .5h.5m1.5 1.5h.5m-.5 .5h.5m-.5 .5h.5m-3 3h.5m2.5 1h.5m-4 1.5h.5m-1.5 2h.5m5.5 5.5h.5m-6.5 4.5h.5m5 3h.5m-5.5 1h.5m4 1.5h.5m-4 2.5h.5" stroke="rgb(0,100,250)" stroke-width="0.72" fill="none"/>
<path d="M304.7 181.45h.5m-1 .5h1m-1 .5h1m-1 .5h1.5m-1.5 .5h.5m.5 0h.5m-1.5 .5h.5m.5 0h.5m-.5 .5h.5m-.5 .5h.5m-2 2h.5m-.5 .5h.5m-.5 .5h.5m1.5 1.5h.5m-.5 .5h.5m-3 2.5h.5m4.5 6.5h.5m-.5 .5h.5m-.5 .5h.5m-7 5.5h.5m-.5 .5h.5m3.5 9h.5" stroke="rgb(0,110,250)" stroke-width="0.72" fill="none"/>
<path d="M304.7 183.45h.5m-.5 .5h.5m-1 .5h1m-1 .5h1m-1 .5h1.5m-1.5 .5h1.5m-1.5 .5h.5m.5 0h.5m-.5 .5h.5m-2 1.5h.5m-.5 .5h.5m-.5 .5h.5m1.5 1h.5m-.5 .5h.5m-.5 .5h.5m0 2h.5m.5 2.5h.5m-6.5 2h.5m-.5 3h.5m0 1.5h.5m-.5 2h.5m-.5 .5h.5m5 4h.5m-5.5 1h.5m0 2.5h.5m3 1h.5m-2.5 2h.5m.5 0h.5" stroke="rgb(0,120,250)" stroke-width="0.72" fill="none"/>
<path d="M304.7 186.45h.5m-1 .5h1m-1 .5h.5m.5 0h.5m-.5 .5h.5m-.5 .5h.5m-2 1.5h.5m-.5 .5h.5m1.5 1.5h.5m-3 1h.5m-1 2h.5m4.5 2h.5m-6.5 6h.5m-.5 .5h.5m-.5 .5h.5m5 4.5h.5m-1 3h.5m-4 2.5h.5m0 1h.5m.5 .5h.5" stroke="rgb(0,130,250)" stroke-width="0.72" fill="none"/>
<path d="M304.7 187.45h.5m-1 .5h1m-1 .5h1m-1 .5h.5m.5 0h.5m-.5 .5h.5m-.5 .5h.5m-2 1h.5m-.5 .5h.5m-.5 .5h.5m1.5 .5h.5m0 1.5h.5m0 1.5h.5m.5 6h.5m-6.5 .5h.5m5 6h.5m-5.5 1.5h.5m4 1.5h.5m-4.5 1h.5m2.5 2.5h.5" stroke="rgb(0,140,250)" stroke-width="0.72" fill="none"/>
<path d="M304.7 188.95h.5m-1 .5h1m-1 .5h1m0 .5h.5m-.5 .5h.5m-2.5 2.5h.5m2.5 1h.5m-5.5 4h.5m5.5 9h.5m-5.5 1.5h.5m3.5 4h.5m-3.5 .5h.5m1.5 1.5h.5" stroke="rgb(0,150,250)" stroke-width="0.72" fill="none"/>
<path d="M304.2 190.45h1m-1 .5h1m-1 .5h.5m.5 0h.5m-.5 .5h.5m-2 .5h.5m1.5 .5h.5m-3 1h.5m-2.5 6.5h.5m5.5 6h.5m-.5 .5h.5m-1 3.5h.5m-4.5 1h.5m2.5 2.5h.5m-2.5 .5h.5m0 .5h1" stroke="rgb(0,160,250)" stroke-width="0.72" fill="none"/>
<path d="M304.7 191.45h.5m-1 .5h1m0 .5h.5m-3.5 3.5h.5m4.5 10h.5m-5.5 2.5h.5m3.5 4h.5" stroke="rgb(0,170,250)" stroke-width="0.72" fill="none"/>
<path d="M304.2 192.45h1m-1.5 .5h.5m1.5 .5h.5m-3 1h.5m-1 1h.5m-2 4.5h.5m5.5 2.5h.5m-.5 2.5h.5m-.5 .5h.5m-1 4.5h.5m-4 3h.5m1.5 1.5h.5" stroke="rgb(0,180,250)" stroke-width="0.72" fill="none"/>
<path d="M304.2 192.95h.5m.5 0h.5m-2 .5h.5m1.5 .5h.5m0 1h.5m.5 1.5h.5m-6 .5h.5m5.5 .5h.5m-7 1.5h.5m-.5 .5h.5m0 2h.5m5 1.5h.5m-.5 .5h.5m-.5 .5h.5m-.5 .5h.5m-5.5 2h.5m-.5 .5h.5m-.5 .5h.5m-.5 .5h.5m4 1.5h.5m-4.5 1h.5m-.5 .5h.5m3 1h.5m-3.5 .5h.5m2 1h.5m-2.5 .5h.5m0 .5h1" stroke="rgb(0,190,250)" stroke-width="0.72" fill="none"/>
<path d="M304.7 192.95h.5m-3 13h.5m2.5 8h.5" stroke="rgb(0,200,250)" stroke-width="0.72" fill="none"/>
<path d="M304.2 193.45h1.5m-2 .5h.5m1.5 .5h.5m-3 .5h.5m4 6h.5m-1 1h.5m-5.5 .5h.5m-.5 .5h.5m-.5 .5h.5m-.5 .5h.5m-.5 .5h.5m-.5 .5h.5m-.5 .5h.5m4 3h.5m-.5 .5h.5m-4.5 .5h.5m-.5 .5h.5m3 1.5h.5m-3.5 .5h.5m2 1h.5m-2.5 .5h.5m1 0h.5m-1.5 .5h1" stroke="rgb(0,200,240)" stroke-width="0.72" fill="none"/>
<path d="M304.2 193.95h.5m.5 0h.5m-2 .5h.5m2 1h.5m1 2.5h.5m-1.5 10h.5m-1 3h.5m-1 1.5h.5m-2.5 .5h.5m0 .5h1" stroke="rgb(0,210,240)" stroke-width="0.72" fill="none"/>
<path d="M304.7 193.95h.5m-1 .5h.5m.5 0h.5m0 .5h.5m.5 1h.5m-5 .5h.5m-.5 5.5h.5m4 4.5h.5m-.5 .5h.5m-.5 .5h.5m-4.5 1.5h.5m3 1.5h.5m-3.5 1h.5m2 .5h.5m-2.5 .5h.5m0 .5h.5m.5 0h.5" stroke="rgb(0,210,230)" stroke-width="0.72" fill="none"/>
<path d="M304.7 194.45h.5m-1.5 .5h.5m-1 .5h.5m4 5h.5m-6.5 .5h.5m4.5 4.5h.5m-.5 .5h.5m-4.5 2.5h.5m3 1.5h.5m-3.5 1h.5m1 2h.5" stroke="rgb(0,220,230)" stroke-width="0.72" fill="none"/>
<path d="M304.2 194.95h.5m3 5h.5m-5.5 6h.5m3 3h.5m-3.5 1h.5" stroke="rgb(0,230,200)" stroke-width="0.72" fill="none"/>
<path d="M304.7 194.95h.5m-2.5 10.5h.5" stroke="rgb(10,230,190)" stroke-width="0.72" fill="none"/>
<path d="M305.2 194.95h.5m-1 17.5h.5" stroke="rgb(0,220,210)" stroke-width="0.72" fill="none"/>
<path d="M303.7 195.45h.5m2 11.5h.5m-3 3.5h.5m.5 1h.5" stroke="rgb(20,240,130)" stroke-width="0.72" fill="none"/>
<path d="M304.2 195.45h1.5m1 1h.5m-4.5 5.5h.5m3 .5h.5m-.5 .5h.5m-.5 .5h.5m-.5 .5h.5m-.5 .5h.5m-.5 .5h.5m-3.5 1.5h.5m-.5 .5h.5m-.5 .5h.5m2 1.5h.5m-2.5 .5h.5m1 .5h.5m-1.5 .5h1" stroke="rgb(40,240,90)" stroke-width="0.72" fill="none"/>
<path d="M305.7 195.45h.5m1 1.5h.5m0 2.5h.5m-5.5 3h.5m-.5 1.5h.5m-.5 .5h.5m3 4h.5m-3.5 1h.5m1 2.5h.5" stroke="rgb(10,230,170)" stroke-width="0.72" fill="none"/>
<path d="M302.7 195.95h.5m-.5 9h.5m1 7h.5" stroke="rgb(10,230,180)" stroke-width="0.72" fill="none"/>
<path d="M303.2 195.95h.5m-1 .5h.5m.5 7h.5m-.5 .5h.5m-.5 .5h.5m-.5 .5h.5m-.5 .5h.5m1 1h.5m-1.5 .5h.5m.5 0h.5m-1.5 .5h1m-1 .5h1" stroke="rgb(80,240,60)" stroke-width="0.72" fill="none"/>
<path d="M303.7 195.95h.5m2 .5h.5m-4.5 1h.5" stroke="rgb(140,240,30)" stroke-width="0.72" fill="none"/>
<path d="M304.2 195.95h1m1.5 5h.5" stroke="rgb(180,240,10)" stroke-width="0.72" fill="none"/>
<path d="M305.2 195.95h.5m1.5 2.5h.5" stroke="rgb(170,240,20)" stroke-width="0.72" fill="none"/>
<path d="M305.7 195.95h.5m1 2h.5m-.5 2.5h.5" stroke="rgb(110,250,40)" stroke-width="0.72" fill="none"/>
<path d="M306.2 195.95h.5m-5 2.5h.5m-.5 1.5h.5m1 4.5h.5m-.5 .5h.5m-.5 .5h.5m2 2.5h.5m-2.5 1h.5m1 .5h.5m-1 .5h.5" stroke="rgb(50,240,80)" stroke-width="0.72" fill="none"/>
<path d="M303.2 196.45h.5m-.5 5h.5" stroke="rgb(200,240,10)" stroke-width="0.72" fill="none"/>
<path d="M303.7 196.45h.5m2.5 1h.5m-5 1h.5m1.5 3h.5m.5 0h.5" stroke="rgb(240,220,0)" stroke-width="0.72" fill="none"/>
<path d="M304.2 196.45h1.5m.5 .5h.5m-4.5 2h.5m3.5 2h.5" stroke="rgb(240,200,0)" stroke-width="0.72" fill="none"/>
<path d="M305.7 196.45h.5m-3.5 .5h.5m-1 3h.5m0 1h.5m.5 .5h.5m1.5 0h.5" stroke="rgb(240,230,0)" stroke-width="0.72" fill="none"/>
<path d="M302.2 196.95h.5m.5 5.5h.5m-.5 .5h.5m-.5 .5h.5m-.5 .5h.5m2 2.5h.5m-.5 .5h.5m-.5 .5h.5m-2.5 .5h.5m-.5 .5h.5m1 .5h.5m-1.5 .5h1" stroke="rgb(60,240,80)" stroke-width="0.72" fill="none"/>
<path d="M303.2 196.95h.5" stroke="rgb(250,170,0)" stroke-width="0.72" fill="none"/>
<path d="M303.7 196.95h.5" stroke="rgb(250,120,0)" stroke-width="0.72" fill="none"/>
<path d="M304.2 196.95h.5m.5 0h.5m-2.5 .5h.5" stroke="rgb(250,100,0)" stroke-width="0.72" fill="none"/>
<path d="M304.7 196.95h.5m1 1h.5m-4 1h.5m3 1h.5" stroke="rgb(250,90,0)" stroke-width="0.72" fill="none"/>
<path d="M305.7 196.95h.5m.5 2h.5m-4.5 1h.5m3 .5h.5m-1.5 .5h.5" stroke="rgb(250,140,0)" stroke-width="0.72" fill="none"/>
<path d="M306.7 196.95h.5m-2 5h.5" stroke="rgb(150,240,20)" stroke-width="0.72" fill="none"/>
<path d="M301.7 197.45h.5m5.5 1h.5m-1 3h.5m-1 1h.5m-.5 .5h.5m-.5 .5h.5m-.5 .5h.5m-.5 .5h.5m-.5 .5h.5m-4.5 2h.5m-.5 .5h.5m-.5 .5h.5m3 1.5h.5m-3.5 1h.5m2 1h.5m-2.5 .5h.5m0 .5h.5m.5 0h.5" stroke="rgb(0,220,220)" stroke-width="0.72" fill="none"/>
<path d="M302.7 197.45h.5m3.5 .5h.5m-4 3h.5" stroke="rgb(250,190,0)" stroke-width="0.72" fill="none"/>
<path d="M303.7 197.45h.5m2 1h.5m-2.5 2h.5m.5 0h.5" stroke="rgb(250,50,0)" stroke-width="0.72" fill="none"/>
<path d="M304.2 197.45h.5m.5 0h.5m0 .5h.5m-3 .5h.5m2.5 .5h.5m-3.5 .5h.5m2 .5h.5" stroke="rgb(240,30,0)" stroke-width="0.72" fill="none"/>
<path d="M304.7 197.45h.5m-1.5 2.5h.5" stroke="rgb(240,20,0)" stroke-width="0.72" fill="none"/>
<path d="M305.7 197.45h.5m-3 .5h.5m2.5 1.5h.5m-3.5 .5h.5m0 .5h.5" stroke="rgb(250,60,0)" stroke-width="0.72" fill="none"/>
<path d="M306.2 197.45h.5m-2.5 3.5h1" stroke="rgb(250,130,0)" stroke-width="0.72" fill="none"/>
<path d="M307.2 197.45h.5m-6 2h.5m4.5 2h.5m-1 .5h.5m-1 2h.5m-.5 .5h.5m-.5 .5h.5m-.5 .5h.5m-.5 .5h.5m-2.5 .5h.5m-.5 .5h.5m-.5 .5h.5m1 .5h.5m-1.5 .5h1.5m-1 .5h.5" stroke="rgb(70,240,70)" stroke-width="0.72" fill="none"/>
<path d="M301.7 197.95h.5m0 3.5h.5m3.5 6h.5m-1 2.5h.5m-2 1.5h.5" stroke="rgb(20,230,140)" stroke-width="0.72" fill="none"/>
<path d="M302.2 197.95h.5" stroke="rgb(210,240,0)" stroke-width="0.72" fill="none"/>
<path d="M302.7 197.95h.5m3.5 1.5h.5m-3.5 1.5h.5" stroke="rgb(250,150,0)" stroke-width="0.72" fill="none"/>
<path d="M303.7 197.95h.5m-1 1h.5m1.5 1h.5" stroke="rgb(240,10,0)" stroke-width="0.72" fill="none"/>
<path d="M304.2 197.95h1.5m-2 .5h2.5m-2.5 .5h2.5m-2.5 .5h2.5m-2 .5h1" stroke="rgb(230,0,0)" stroke-width="0.72" fill="none"/>
<path d="M302.7 198.45h.5m-.5 1h.5m0 1h.5" stroke="rgb(250,110,0)" stroke-width="0.72" fill="none"/>
<path d="M306.7 198.45h.5m-1.5 2.5h.5" stroke="rgb(250,160,0)" stroke-width="0.72" fill="none"/>
<path d="M301.7 198.95h.5m3.5 3.5h.5m-.5 .5h.5m-.5 .5h.5m-2.5 2.5h.5m1 1.5h.5" stroke="rgb(80,240,70)" stroke-width="0.72" fill="none"/>
<path d="M307.2 198.95h.5" stroke="rgb(220,240,0)" stroke-width="0.72" fill="none"/>
<path d="M307.7 198.95h.5m-5.5 4h.5m-.5 .5h.5m2.5 7h.5" stroke="rgb(10,230,160)" stroke-width="0.72" fill="none"/>
<path d="M302.2 199.45h.5m4 1h.5m-2.5 1h.5" stroke="rgb(240,210,0)" stroke-width="0.72" fill="none"/>
<path d="M307.2 199.45h.5m-5.5 1h.5" stroke="rgb(190,240,10)" stroke-width="0.72" fill="none"/>
<path d="M306.7 199.95h.5m-4.5 .5h.5" stroke="rgb(250,180,0)" stroke-width="0.72" fill="none"/>
<path d="M307.2 199.95h.5m-1.5 1.5h.5m-2.5 .5h1" stroke="rgb(160,240,20)" stroke-width="0.72" fill="none"/>
<path d="M301.7 200.45h.5m4 5.5h.5m-1 3.5h.5m-2 1.5h.5" stroke="rgb(30,240,110)" stroke-width="0.72" fill="none"/>
<path d="M304.7 200.45h.5" stroke="rgb(250,40,0)" stroke-width="0.72" fill="none"/>
<path d="M305.7 200.45h.5" stroke="rgb(250,80,0)" stroke-width="0.72" fill="none"/>
<path d="M302.2 200.95h.5m.5 1h.5m1.5 1.5h.5m-.5 .5h.5m-.5 .5h.5m-.5 .5h.5m-1.5 .5h.5m-.5 .5h1" stroke="rgb(90,240,50)" stroke-width="0.72" fill="none"/>
<path d="M307.2 200.95h.5m-4.5 5h.5m2 2.5h.5m-2 1.5h.5" stroke="rgb(50,240,90)" stroke-width="0.72" fill="none"/>
<path d="M302.7 201.45h.5m1 1h.5m.5 0h.5m-1.5 .5h1.5m-1.5 .5h1m-1 .5h1m-1 .5h1m-1 .5h1m-.5 .5h.5" stroke="rgb(100,240,50)" stroke-width="0.72" fill="none"/>
<path d="M303.7 201.95h.5" stroke="rgb(130,240,30)" stroke-width="0.72" fill="none"/>
<path d="M305.7 201.95h.5" stroke="rgb(120,250,40)" stroke-width="0.72" fill="none"/>
<path d="M306.7 201.95h.5m-3.5 9h.5m1 .5h.5" stroke="rgb(20,230,160)" stroke-width="0.72" fill="none"/>
<path d="M303.7 202.45h.5m-.5 .5h.5m1 2.5h.5m-.5 .5h.5m-1.5 .5h1m-.5 .5h.5" stroke="rgb(90,240,60)" stroke-width="0.72" fill="none"/>
<path d="M304.7 202.45h.5" stroke="rgb(100,240,40)" stroke-width="0.72" fill="none"/>
<path d="M306.2 205.45h.5m-1.5 5h.5" stroke="rgb(40,240,100)" stroke-width="0.72" fill="none"/>
<path d="M302.7 206.45h.5" stroke="rgb(0,230,210)" stroke-width="0.72" fill="none"/>
<path d="M306.2 206.45h.5m-3.5 2h.5m1.5 2.5h.5" stroke="rgb(30,240,120)" stroke-width="0.72" fill="none"/>
<path d="M303.2 207.95h.5m0 2h.5m.5 1h.5" stroke="rgb(30,240,100)" stroke-width="0.72" fill="none"/>
<path d="M306.2 207.95h.5m-3.5 1h.5" stroke="rgb(20,230,150)" stroke-width="0.72" fill="none"/>
<path d="M304.2 208.95h.5" stroke="rgb(60,240,70)" stroke-width="0.72" fill="none"/>
<path d="M305.7 210.95h.5m-2.5 .5h.5m1 .5h.5" stroke="rgb(0,230,190)" stroke-width="0.72" fill="none"/>
</g>
<rect x="282.7" y="124.2" width="97" height="96.6" fill="none" stroke="#b4b4b4" stroke-width="0.9"/>
<line x1="280.4" y1="133.1" x2="282.9" y2="133.1" stroke="#111" stroke-width="0.75" stroke-linecap="butt"/>
<text x="272.1" y="135.8" font-size="4.5" font-family='"Liberation Sans", sans-serif' textLength="3.9" lengthAdjust="spacingAndGlyphs" fill="#4d4d4d">10</text>
<text x="276.2" y="132.9" font-size="3.3" font-family='"Liberation Sans", sans-serif' textLength="1.6" lengthAdjust="spacingAndGlyphs" fill="#4d4d4d">5</text>
<line x1="280.4" y1="155.4" x2="282.9" y2="155.4" stroke="#111" stroke-width="0.75" stroke-linecap="butt"/>
<text x="272.1" y="158.1" font-size="4.5" font-family='"Liberation Sans", sans-serif' textLength="3.9" lengthAdjust="spacingAndGlyphs" fill="#4d4d4d">10</text>
<text x="276.2" y="155.2" font-size="3.3" font-family='"Liberation Sans", sans-serif' textLength="1.6" lengthAdjust="spacingAndGlyphs" fill="#4d4d4d">4</text>
<line x1="280.4" y1="182" x2="282.9" y2="182" stroke="#111" stroke-width="0.75" stroke-linecap="butt"/>
<text x="272.1" y="184.7" font-size="4.5" font-family='"Liberation Sans", sans-serif' textLength="3.9" lengthAdjust="spacingAndGlyphs" fill="#4d4d4d">10</text>
<text x="276.2" y="181.8" font-size="3.3" font-family='"Liberation Sans", sans-serif' textLength="1.6" lengthAdjust="spacingAndGlyphs" fill="#4d4d4d">3</text>
<line x1="280.4" y1="199.2" x2="282.9" y2="199.2" stroke="#111" stroke-width="0.75" stroke-linecap="butt"/>
<text x="273.9" y="201.9" font-size="4.5" font-family='"Liberation Sans", sans-serif' textLength="2.1" lengthAdjust="spacingAndGlyphs" fill="#4d4d4d">0</text>
<line x1="280.4" y1="216.5" x2="282.9" y2="216.5" stroke="#111" stroke-width="0.75" stroke-linecap="butt"/>
<text x="270.7" y="219.2" font-size="4.5" font-family='"Liberation Sans", sans-serif' textLength="5.3" lengthAdjust="spacingAndGlyphs" fill="#4d4d4d">-10</text>
<text x="276.2" y="216.3" font-size="3.3" font-family='"Liberation Sans", sans-serif' textLength="1.6" lengthAdjust="spacingAndGlyphs" fill="#4d4d4d">3</text>
<line x1="288.8" y1="220.6" x2="288.8" y2="223" stroke="#111" stroke-width="0.75" stroke-linecap="butt"/>
<text x="285.35" y="232.9" font-size="4.5" font-family='"Liberation Sans", sans-serif' textLength="5.3" lengthAdjust="spacingAndGlyphs" fill="#4d4d4d">-10</text>
<text x="290.85" y="230" font-size="3.3" font-family='"Liberation Sans", sans-serif' textLength="1.6" lengthAdjust="spacingAndGlyphs" fill="#4d4d4d">3</text>
<line x1="304.6" y1="220.6" x2="304.6" y2="223" stroke="#111" stroke-width="0.75" stroke-linecap="butt"/>
<text x="303.35" y="232.9" font-size="4.5" font-family='"Liberation Sans", sans-serif' textLength="2.1" lengthAdjust="spacingAndGlyphs" fill="#4d4d4d">0</text>
<line x1="322.7" y1="220.6" x2="322.7" y2="223" stroke="#111" stroke-width="0.75" stroke-linecap="butt"/>
<text x="320.35" y="232.9" font-size="4.5" font-family='"Liberation Sans", sans-serif' textLength="3.9" lengthAdjust="spacingAndGlyphs" fill="#4d4d4d">10</text>
<text x="324.45" y="230" font-size="3.3" font-family='"Liberation Sans", sans-serif' textLength="1.6" lengthAdjust="spacingAndGlyphs" fill="#4d4d4d">3</text>
<line x1="349.1" y1="220.6" x2="349.1" y2="223" stroke="#111" stroke-width="0.75" stroke-linecap="butt"/>
<text x="348.05" y="232.9" font-size="4.5" font-family='"Liberation Sans", sans-serif' textLength="3.9" lengthAdjust="spacingAndGlyphs" fill="#4d4d4d">10</text>
<text x="352.15" y="230" font-size="3.3" font-family='"Liberation Sans", sans-serif' textLength="1.6" lengthAdjust="spacingAndGlyphs" fill="#4d4d4d">4</text>
<line x1="372.3" y1="220.6" x2="372.3" y2="223" stroke="#111" stroke-width="0.75" stroke-linecap="butt"/>
<text x="369.55" y="232.9" font-size="4.5" font-family='"Liberation Sans", sans-serif' textLength="3.9" lengthAdjust="spacingAndGlyphs" fill="#4d4d4d">10</text>
<text x="373.65" y="230" font-size="3.3" font-family='"Liberation Sans", sans-serif' textLength="1.6" lengthAdjust="spacingAndGlyphs" fill="#4d4d4d">5</text>
<rect x="280.5" y="197.1" width="2.5" height="4.3" fill="#111" stroke="none" stroke-width="1"/>
<rect x="302.3" y="220.6" width="4.8" height="2.1" fill="#111" stroke="none" stroke-width="1"/>
<line x1="281.2" y1="148.69" x2="282.7" y2="148.69" stroke="#333" stroke-width="0.5" stroke-linecap="butt"/>
<line x1="281.2" y1="173.99" x2="282.7" y2="173.99" stroke="#333" stroke-width="0.5" stroke-linecap="butt"/>
<line x1="330.65" y1="220.8" x2="330.65" y2="222.3" stroke="#333" stroke-width="0.5" stroke-linecap="butt"/>
<line x1="356.08" y1="220.8" x2="356.08" y2="222.3" stroke="#333" stroke-width="0.5" stroke-linecap="butt"/>
<line x1="281.2" y1="144.76" x2="282.7" y2="144.76" stroke="#333" stroke-width="0.5" stroke-linecap="butt"/>
<line x1="281.2" y1="169.31" x2="282.7" y2="169.31" stroke="#333" stroke-width="0.5" stroke-linecap="butt"/>
<line x1="335.3" y1="220.8" x2="335.3" y2="222.3" stroke="#333" stroke-width="0.5" stroke-linecap="butt"/>
<line x1="360.17" y1="220.8" x2="360.17" y2="222.3" stroke="#333" stroke-width="0.5" stroke-linecap="butt"/>
<line x1="281.2" y1="141.97" x2="282.7" y2="141.97" stroke="#333" stroke-width="0.5" stroke-linecap="butt"/>
<line x1="281.2" y1="165.99" x2="282.7" y2="165.99" stroke="#333" stroke-width="0.5" stroke-linecap="butt"/>
<line x1="338.59" y1="220.8" x2="338.59" y2="222.3" stroke="#333" stroke-width="0.5" stroke-linecap="butt"/>
<line x1="363.07" y1="220.8" x2="363.07" y2="222.3" stroke="#333" stroke-width="0.5" stroke-linecap="butt"/>
<line x1="281.2" y1="139.81" x2="282.7" y2="139.81" stroke="#333" stroke-width="0.5" stroke-linecap="butt"/>
<line x1="281.2" y1="163.41" x2="282.7" y2="163.41" stroke="#333" stroke-width="0.5" stroke-linecap="butt"/>
<line x1="341.15" y1="220.8" x2="341.15" y2="222.3" stroke="#333" stroke-width="0.5" stroke-linecap="butt"/>
<line x1="365.32" y1="220.8" x2="365.32" y2="222.3" stroke="#333" stroke-width="0.5" stroke-linecap="butt"/>
<line x1="281.2" y1="138.05" x2="282.7" y2="138.05" stroke="#333" stroke-width="0.5" stroke-linecap="butt"/>
<line x1="281.2" y1="161.3" x2="282.7" y2="161.3" stroke="#333" stroke-width="0.5" stroke-linecap="butt"/>
<line x1="343.24" y1="220.8" x2="343.24" y2="222.3" stroke="#333" stroke-width="0.5" stroke-linecap="butt"/>
<line x1="367.15" y1="220.8" x2="367.15" y2="222.3" stroke="#333" stroke-width="0.5" stroke-linecap="butt"/>
<line x1="281.2" y1="136.55" x2="282.7" y2="136.55" stroke="#333" stroke-width="0.5" stroke-linecap="butt"/>
<line x1="281.2" y1="159.52" x2="282.7" y2="159.52" stroke="#333" stroke-width="0.5" stroke-linecap="butt"/>
<line x1="345.01" y1="220.8" x2="345.01" y2="222.3" stroke="#333" stroke-width="0.5" stroke-linecap="butt"/>
<line x1="368.71" y1="220.8" x2="368.71" y2="222.3" stroke="#333" stroke-width="0.5" stroke-linecap="butt"/>
<line x1="281.2" y1="135.26" x2="282.7" y2="135.26" stroke="#333" stroke-width="0.5" stroke-linecap="butt"/>
<line x1="281.2" y1="157.98" x2="282.7" y2="157.98" stroke="#333" stroke-width="0.5" stroke-linecap="butt"/>
<line x1="346.54" y1="220.8" x2="346.54" y2="222.3" stroke="#333" stroke-width="0.5" stroke-linecap="butt"/>
<line x1="370.05" y1="220.8" x2="370.05" y2="222.3" stroke="#333" stroke-width="0.5" stroke-linecap="butt"/>
<line x1="281.2" y1="134.12" x2="282.7" y2="134.12" stroke="#333" stroke-width="0.5" stroke-linecap="butt"/>
<line x1="281.2" y1="156.62" x2="282.7" y2="156.62" stroke="#333" stroke-width="0.5" stroke-linecap="butt"/>
<line x1="347.89" y1="220.8" x2="347.89" y2="222.3" stroke="#333" stroke-width="0.5" stroke-linecap="butt"/>
<line x1="371.24" y1="220.8" x2="371.24" y2="222.3" stroke="#333" stroke-width="0.5" stroke-linecap="butt"/>
<line x1="290.4" y1="220.8" x2="290.4" y2="222.1" stroke="#444" stroke-width="0.5" stroke-linecap="butt"/>
<line x1="309.5" y1="220.8" x2="309.5" y2="222.1" stroke="#444" stroke-width="0.5" stroke-linecap="butt"/>
<line x1="281.4" y1="214.6" x2="282.7" y2="214.6" stroke="#444" stroke-width="0.5" stroke-linecap="butt"/>
<line x1="281.4" y1="194.6" x2="282.7" y2="194.6" stroke="#444" stroke-width="0.5" stroke-linecap="butt"/>
<line x1="292" y1="220.8" x2="292" y2="222.1" stroke="#444" stroke-width="0.5" stroke-linecap="butt"/>
<line x1="311.4" y1="220.8" x2="311.4" y2="222.1" stroke="#444" stroke-width="0.5" stroke-linecap="butt"/>
<line x1="281.4" y1="212.7" x2="282.7" y2="212.7" stroke="#444" stroke-width="0.5" stroke-linecap="butt"/>
<line x1="281.4" y1="192.7" x2="282.7" y2="192.7" stroke="#444" stroke-width="0.5" stroke-linecap="butt"/>
<line x1="293.6" y1="220.8" x2="293.6" y2="222.1" stroke="#444" stroke-width="0.5" stroke-linecap="butt"/>
<line x1="313.3" y1="220.8" x2="313.3" y2="222.1" stroke="#444" stroke-width="0.5" stroke-linecap="butt"/>
<line x1="281.4" y1="210.8" x2="282.7" y2="210.8" stroke="#444" stroke-width="0.5" stroke-linecap="butt"/>
<line x1="281.4" y1="190.8" x2="282.7" y2="190.8" stroke="#444" stroke-width="0.5" stroke-linecap="butt"/>
<line x1="295.2" y1="220.8" x2="295.2" y2="222.1" stroke="#444" stroke-width="0.5" stroke-linecap="butt"/>
<line x1="315.2" y1="220.8" x2="315.2" y2="222.1" stroke="#444" stroke-width="0.5" stroke-linecap="butt"/>
<line x1="281.4" y1="208.9" x2="282.7" y2="208.9" stroke="#444" stroke-width="0.5" stroke-linecap="butt"/>
<line x1="281.4" y1="188.9" x2="282.7" y2="188.9" stroke="#444" stroke-width="0.5" stroke-linecap="butt"/>
<line x1="296.8" y1="220.8" x2="296.8" y2="222.1" stroke="#444" stroke-width="0.5" stroke-linecap="butt"/>
<line x1="317.1" y1="220.8" x2="317.1" y2="222.1" stroke="#444" stroke-width="0.5" stroke-linecap="butt"/>
<line x1="281.4" y1="207" x2="282.7" y2="207" stroke="#444" stroke-width="0.5" stroke-linecap="butt"/>
<line x1="281.4" y1="187" x2="282.7" y2="187" stroke="#444" stroke-width="0.5" stroke-linecap="butt"/>
<line x1="298.4" y1="220.8" x2="298.4" y2="222.1" stroke="#444" stroke-width="0.5" stroke-linecap="butt"/>
<line x1="319" y1="220.8" x2="319" y2="222.1" stroke="#444" stroke-width="0.5" stroke-linecap="butt"/>
<line x1="281.4" y1="205.1" x2="282.7" y2="205.1" stroke="#444" stroke-width="0.5" stroke-linecap="butt"/>
<line x1="281.4" y1="185.1" x2="282.7" y2="185.1" stroke="#444" stroke-width="0.5" stroke-linecap="butt"/>
<line x1="300" y1="220.8" x2="300" y2="222.1" stroke="#444" stroke-width="0.5" stroke-linecap="butt"/>
<line x1="320.9" y1="220.8" x2="320.9" y2="222.1" stroke="#444" stroke-width="0.5" stroke-linecap="butt"/>
<line x1="281.4" y1="203.2" x2="282.7" y2="203.2" stroke="#444" stroke-width="0.5" stroke-linecap="butt"/>
<line x1="281.4" y1="183.2" x2="282.7" y2="183.2" stroke="#444" stroke-width="0.5" stroke-linecap="butt"/>
<rect x="325.8" y="146.6" width="38.2" height="38.8" fill="none" stroke="#333" stroke-width="0.85"/>
<rect x="325.8" y="190" width="38.2" height="28.2" fill="none" stroke="#333" stroke-width="0.85"/>
<rect x="360.8" y="199.1" width="4" height="13.2" fill="#fff" stroke="none" stroke-width="1"/>
<text x="366.5" y="165.2" font-size="4.8" font-family='"Liberation Sans", sans-serif' textLength="9.8" lengthAdjust="spacingAndGlyphs" fill="#555">MAIT</text>
<text x="367.2" y="172.2" font-size="4.8" font-family='"Liberation Sans", sans-serif' textLength="8.5" lengthAdjust="spacingAndGlyphs" fill="#555">8.61</text>
<text x="361.2" y="203.9" font-size="4.8" font-family='"Liberation Sans", sans-serif' textLength="16.6" lengthAdjust="spacingAndGlyphs" fill="#555">no-MAIT</text>
<text x="365.2" y="210.9" font-size="4.8" font-family='"Liberation Sans", sans-serif' textLength="8.6" lengthAdjust="spacingAndGlyphs" fill="#555">2.38</text>
<text x="447.3" y="118.4" font-size="9.2" font-family='"Liberation Serif", serif' font-weight="normal" text-anchor="middle" fill="#000">Gut GVHD</text>
<g filter="url(#soft)">
<path d="M435.5 137.45h.5m47.5 8h.5m-42.5 2h.5m32 .5h.5m-22.5 3h.5m11 .5h.5m-15 2h.5m1 0h.5m16.5 .5h.5m-15.5 1h.5m28 0h.5m-36 .5h.5m2.5 0h.5m4 0h.5m4 0h.5m2.5 0h.5m-36.5 .5h.5m26.5 0h.5m2.5 0h.5m8 0h.5m-8 .5h.5m-8.5 .5h.5m15 0h.5m-42.5 .5h.5m28 0h.5m4.5 0h.5m4.5 0h.5m.5 0h.5m-18.5 .5h.5m8.5 0h.5m2.5 0h.5m16 0h.5m-24 .5h.5m1 0h.5m-29.5 .5h.5m32 0h.5m1.5 0h.5m8 0h.5m5.5 0h.5m-49.5 .5h.5m26 0h.5m11 0h.5m3.5 0h.5m5 0h.5m7.5 0h.5m-56 .5h.5m.5 0h1m24.5 0h.5m3.5 0h.5m3.5 0h.5m8.5 0h.5m-45 .5h.5m1 0h.5m27 0h.5m1.5 0h.5m1.5 0h.5m4.5 0h.5m3.5 0h.5m5 0h.5m1.5 0h.5m2 0h.5m-52 .5h.5m.5 0h.5m30 0h.5m2.5 0h.5m1.5 0h1.5m3.5 0h.5m11 0h.5m-53.5 .5h1m30.5 0h.5m5 0h1m.5 0h1m1 0h1m8 0h.5m-51 .5h1.5m.5 0h1m9 0h.5m15 0h.5m2.5 0h.5m1.5 0h1m5 0h.5m.5 0h1m5.5 0h.5m-46 .5h.5m.5 0h1.5m21 0h1m7.5 0h.5m.5 0h1m3.5 0h.5m1.5 0h1m4.5 0h.5m1.5 0h.5m.5 0h.5m-49 .5h.5m.5 0h3m29 0h1m2 0h.5m2.5 0h.5m1.5 0h.5m1.5 0h.5m2 0h.5m1 0h.5m2 0h.5m6 0h.5m-55.5 .5h.5m.5 0h1.5m27 0h.5m5.5 0h.5m4.5 0h1m9 0h.5m4.5 0h.5m9 0h.5m-66.5 .5h.5m.5 0h.5m1 0h2m24 0h.5m6 0h.5m2 0h.5m.5 0h.5m2 0h1.5m.5 0h.5m1 0h.5m4 0h.5m-49 .5h1m1.5 0h1m1.5 0h.5m19 0h.5m5 0h1m1.5 0h.5m1.5 0h.5m1 0h.5m.5 0h1m.5 0h1m1 0h1.5m1.5 0h.5m4 0h.5m-49.5 .5h1m2.5 0h1m16.5 0h.5m4.5 0h.5m2 0h.5m5 0h2m1 0h.5m2 0h.5m1.5 0h.5m.5 0h1m4 0h.5m2.5 0h.5m-51.5 .5h.5m1 0h.5m2.5 0h1m24 0h.5m4 0h.5m.5 0h.5m1 0h.5m1 0h.5m.5 0h.5m1.5 0h1m.5 0h1.5m1 0h1m2 0h.5m1 0h.5m1 0h.5m-51 .5h1.5m2.5 0h1m19 0h.5m4 0h.5m3.5 0h.5m1 0h.5m3 0h.5m3 0h.5m.5 0h1m.5 0h1m1 0h1m1 0h.5m.5 0h2m-50.5 .5h1m3 0h.5m1 0h.5m17.5 0h.5m10 0h1m.5 0h.5m.5 0h.5m.5 0h2m.5 0h2m.5 0h1m2 0h1m1 0h.5m-47.5 .5h.5m3.5 0h.5m19 0h.5m5 0h.5m1 0h.5m2.5 0h.5m.5 0h.5m3 0h.5m1.5 0h2m.5 0h.5m.5 0h.5m.5 0h1.5m2.5 0h.5m3 0h.5m-67 .5h.5m13 0h1m32.5 0h.5m1.5 0h1m2.5 0h.5m.5 0h.5m.5 0h.5m.5 0h.5m1 0h1.5m.5 0h.5m.5 0h1m1.5 0h.5m-49.5 .5h.5m4.5 0h.5m20 0h.5m6.5 0h.5m2 0h2m2 0h.5m2.5 0h.5m.5 0h.5m1 0h1m1.5 0h.5m.5 0h.5m-48.5 .5h1.5m4 0h.5m23 0h1m.5 0h.5m2 0h.5m2 0h.5m1 0h6m2.5 0h.5m1 0h.5m1 0h1m.5 0h.5m1 0h.5m-51.5 .5h.5m4 0h1m19 0h.5m4.5 0h.5m3 0h.5m3 0h.5m.5 0h2m.5 0h.5m1.5 0h1m1.5 0h.5m1.5 0h1.5m2 0h1m3 0h.5m-54.5 .5h.5m4 0h1m17 0h.5m4.5 0h.5m2.5 0h.5m.5 0h1.5m.5 0h.5m2.5 0h.5m.5 0h1.5m1 0h1m2 0h1m.5 0h1.5m1.5 0h.5m1.5 0h.5m-50.5 .5h1m4 0h.5m19 0h.5m5 0h.5m1 0h1m1 0h.5m2 0h.5m2.5 0h1m1 0h1m1 0h1.5m.5 0h.5m.5 0h1m1.5 0h1m.5 0h.5m1.5 0h1m1 0h.5m-55 .5h.5m.5 0h.5m4 0h.5m23.5 0h.5m1.5 0h.5m.5 0h.5m.5 0h.5m1.5 0h1m1 0h1m1 0h1.5m1 0h2m1.5 0h1m.5 0h1.5m.5 0h.5m.5 0h.5m2 0h.5m1 0h.5m-54.5 .5h1.5m4 0h1m22 0h.5m3 0h.5m3 0h1m1 0h1.5m1 0h.5m.5 0h.5m1 0h1.5m1 0h2.5m.5 0h.5m1.5 0h.5m.5 0h.5m13.5 0h.5m-65 .5h.5m20.5 0h.5m10 0h1m1 0h.5m1.5 0h1m.5 0h.5m.5 0h.5m1 0h1.5m.5 0h4m2 0h2m1 0h.5m5 0h.5m4.5 0h.5m-61 .5h.5m27 0h1m1.5 0h.5m1.5 0h.5m1.5 0h1.5m1 0h.5m1 0h.5m.5 0h.5m.5 0h1m.5 0h.5m.5 0h.5m.5 0h1.5m.5 0h1m1 0h.5m1 0h1.5m1 0h.5m-52 .5h.5m4.5 0h1m19.5 0h.5m3 0h.5m3.5 0h1.5m1.5 0h.5m1.5 0h.5m.5 0h1m.5 0h.5m1 0h5m2.5 0h.5m5 0h.5m-55.5 .5h.5m4.5 0h1.5m17.5 0h.5m1.5 0h.5m6.5 0h.5m1 0h2.5m2.5 0h.5m.5 0h1m1 0h1m.5 0h2m1 0h1m2 0h.5m3 0h.5m2.5 0h.5m-57 .5h.5m4.5 0h.5m21 0h.5m3 0h.5m2 0h.5m3.5 0h3.5m.5 0h1m.5 0h2.5m2.5 0h.5m.5 0h.5m3 0h.5m9 0h.5m-62 .5h1m4.5 0h.5m22.5 0h.5m5 0h1m1 0h1m1 0h1m2 0h.5m.5 0h.5m.5 0h2m1 0h1m1 0h.5m1.5 0h.5m2 0h.5m11.5 0h.5m-65.5 .5h.5m.5 0h.5m4.5 0h1m17.5 0h.5m4.5 0h.5m2.5 0h1m.5 0h.5m1 0h1m2 0h2m.5 0h1m1 0h1m1.5 0h.5m.5 0h.5m1 0h.5m3 0h.5m2 0h.5m-53.5 .5h.5m5.5 0h.5m19 0h.5m1.5 0h.5m2 0h.5m3.5 0h.5m.5 0h.5m.5 0h1.5m2 0h1.5m.5 0h1.5m1.5 0h.5m.5 0h.5m1 0h1m1 0h.5m5 0h.5m-55.5 .5h1m4.5 0h1m2 0h.5m23.5 0h1.5m1.5 0h.5m.5 0h1.5m1 0h1.5m.5 0h.5m.5 0h2m1.5 0h.5m.5 0h1.5m2 0h.5m.5 0h.5m.5 0h.5m.5 0h.5m3 0h.5m-57 .5h1m4.5 0h1m22 0h.5m1 0h.5m2 0h.5m1.5 0h.5m1 0h1m1 0h.5m1 0h.5m.5 0h3m1.5 0h.5m.5 0h.5m.5 0h1.5m.5 0h.5m.5 0h.5m5 0h.5m-50.5 .5h.5m25 0h.5m3 0h.5m1 0h1.5m1 0h.5m.5 0h1m.5 0h.5m.5 0h1m1.5 0h.5m1.5 0h3m-44 .5h.5m26 0h.5m1 0h.5m1 0h1m1 0h1m.5 0h2m.5 0h.5m.5 0h1m.5 0h.5m.5 0h.5m.5 0h.5m1 0h.5m.5 0h.5m1 0h.5m1 0h.5m3.5 0h.5m1.5 0h.5m-57.5 .5h.5m5 0h.5m26 0h.5m2 0h.5m2.5 0h.5m1 0h1m.5 0h.5m.5 0h1m.5 0h1m1 0h1.5m1 0h.5m.5 0h.5m-49 .5h.5m5 0h.5m.5 0h.5m26 0h.5m.5 0h.5m1.5 0h.5m1 0h1m.5 0h.5m.5 0h1m.5 0h.5m1 0h2m2 0h.5m-42 .5h1.5m21 0h.5m2.5 0h.5m2.5 0h3m2.5 0h1m1 0h1.5m.5 0h.5m7 0h.5m2 0h1m-54.5 .5h.5m5 0h1m21.5 0h.5m2 0h.5m.5 0h.5m1.5 0h1.5m1 0h.5m.5 0h.5m2 0h1m2 0h2m.5 0h.5m.5 0h.5m2.5 0h.5m-50.5 .5h.5m.5 0h.5m5 0h1.5m15.5 0h.5m1.5 0h.5m7.5 0h1m1 0h.5m2 0h1m2.5 0h.5m.5 0h1m.5 0h.5m1 0h1m.5 0h.5m2.5 0h.5m-51.5 .5h.5m.5 0h1.5m5 0h.5m25.5 0h.5m2.5 0h1m3 0h.5m1 0h1m.5 0h.5m.5 0h.5m1 0h1.5m1 0h3m2 0h.5m.5 0h.5m3.5 0h.5m-58.5 .5h.5m.5 0h1m5.5 0h1m1 0h.5m10 0h.5m10.5 0h.5m1 0h.5m4 0h.5m.5 0h.5m1 0h.5m1 0h.5m1 0h.5m1 0h.5m.5 0h1m1.5 0h1m3.5 0h.5m-51.5 .5h1m6 0h.5m28 0h.5m3.5 0h.5m2.5 0h1m.5 0h.5m1 0h2m-47 .5h.5m6 0h.5m30.5 0h.5m1 0h2m1 0h.5m2.5 0h.5m.5 0h1m-48 .5h.5m.5 0h.5m10 0h.5m18.5 0h.5m3.5 0h.5m.5 0h.5m5 0h1m.5 0h1m2.5 0h.5m.5 0h.5m1 0h1m.5 0h.5m-50 .5h1m5.5 0h.5m13.5 0h.5m9.5 0h.5m6 0h1m2 0h.5m1 0h.5m1 0h.5m1 0h2m.5 0h2m1 0h.5m.5 0h.5m2 0h.5m4.5 0h.5m-59 .5h1m5.5 0h1m9 0h.5m12.5 0h.5m10.5 0h.5m3 0h.5m9.5 0h.5m-55 .5h.5m.5 0h.5m5.5 0h.5m2.5 0h.5m1 0h.5m.5 0h.5m16.5 0h.5m.5 0h.5m.5 0h.5m5 0h.5m1 0h.5m.5 0h.5m.5 0h.5m3 0h.5m10.5 0h.5m-54.5 .5h.5m6 0h1m3 0h.5m20 0h.5m4.5 0h1m.5 0h.5m6.5 0h.5m-45.5 .5h1m5.5 0h1m1 0h.5m6.5 0h.5m12.5 0h.5m3.5 0h1m3 0h.5m4 0h.5m3.5 0h.5m8 0h.5m-54.5 .5h1m6 0h1m.5 0h.5m2 0h.5m2 0h.5m20.5 0h.5m2.5 0h.5m4 0h.5m5.5 0h.5m1.5 0h.5m8 0h.5m-58 .5h.5m5.5 0h.5m5 0h.5m24.5 0h.5m1 0h.5m.5 0h.5m.5 0h.5m.5 0h.5m2 0h.5m1 0h.5m-46 .5h1m5.5 0h1m1 0h.5m26.5 0h.5m1.5 0h.5m3 0h.5m2.5 0h1m17.5 0h.5m-69 .5h.5m4.5 0h.5m.5 0h1m5.5 0h1m2 0h.5m28.5 0h.5m.5 0h.5m4 0h.5m6.5 0h.5m-54 .5h.5m1 0h.5m.5 0h1m5.5 0h2m4.5 0h.5m3 0h.5m16 0h.5m4 0h.5m1 0h.5m5.5 0h.5m-53.5 .5h.5m7.5 0h.5m6 0h1.5m1 0h.5m14 0h.5m14 0h.5m.5 0h.5m6 0h.5m2.5 0h.5m2.5 0h.5m-53.5 .5h.5m1 0h.5m8 0h.5m6.5 0h.5m5.5 0h.5m.5 0h.5m18 0h.5m1 0h1m-53.5 .5h.5m9 0h.5m6.5 0h1m1 0h.5m6.5 0h.5m4 0h.5m7.5 0h.5m6.5 0h.5m1 0h.5m6.5 0h.5m-51.5 .5h.5m3 0h.5m1 0h.5m.5 0h.5m.5 0h1m6 0h1m2 0h.5m.5 0h.5m1.5 0h.5m.5 0h1m.5 0h.5m2.5 0h.5m12 0h.5m1.5 0h.5m4 0h.5m9.5 0h.5m-47.5 .5h.5m6 0h.5m.5 0h1m.5 0h.5m3 0h.5m-13 .5h.5m6 0h.5m1 0h2m4 0h.5m.5 0h.5m6 0h.5m1.5 0h.5m5.5 0h.5m.5 0h.5m8 0h.5m17 0h.5m-57 .5h.5m6.5 0h1m8 0h.5m.5 0h.5m3 0h.5m12 0h.5m6.5 0h.5m1.5 0h.5m1.5 0h.5m.5 0h.5m23.5 0h.5m7.5 0h.5m-82.5 .5h.5m2 0h.5m.5 0h1m.5 0h.5m6.5 0h1m1 0h1m5.5 0h.5m5 0h.5m.5 0h.5m9 0h.5m20 0h.5m-53 .5h1m6.5 0h.5m.5 0h.5m1 0h1m3.5 0h.5m1 0h.5m2 0h.5m2.5 0h.5m3 0h.5m15 0h.5m5.5 0h.5m-55 .5h.5m8 0h.5m6.5 0h1m2 0h1m2.5 0h1m5.5 0h.5m19.5 0h.5m-41 .5h1m6.5 0h.5m.5 0h.5m1.5 0h.5m1 0h.5m.5 0h.5m4 0h.5m8.5 0h.5m-27 .5h1m6.5 0h.5m3.5 0h.5m3 0h1m2 0h.5m1 0h.5m13 0h.5m-35 .5h.5m.5 0h.5m.5 0h.5m6.5 0h.5m1 0h.5m1 0h.5m1 0h.5m1 0h.5m.5 0h.5m1.5 0h.5m7 0h.5m8 0h.5m13.5 0h.5m9 0h.5m-63 .5h.5m5.5 0h1.5m6.5 0h1.5m.5 0h1m.5 0h.5m3 0h.5m2 0h.5m20 0h.5m6.5 0h1m4.5 0h.5m-43 .5h.5m1 0h.5m.5 0h.5m3 0h.5m.5 0h.5m.5 0h.5m.5 0h.5m1 0h.5m18 0h.5m9.5 0h.5m1 0h.5m-49.5 .5h.5m8 0h.5m2 0h1m1.5 0h.5m.5 0h1.5m2 0h.5m7 0h.5m13 0h.5m11.5 0h.5m20 0h.5m-74 .5h.5m1.5 0h.5m.5 0h.5m7 0h2.5m.5 0h.5m.5 0h1.5m1.5 0h.5m1.5 0h.5m2.5 0h.5m3 0h.5m-24 .5h1m12.5 0h.5m.5 0h.5m.5 0h.5m.5 0h2m2 0h.5m.5 0h.5m.5 0h.5m10 0h.5m11 0h.5m10 0h.5m3 0h.5m18 0h.5m-79 .5h.5m.5 0h1m8 0h.5m3 0h.5m1 0h1m1 0h.5m1.5 0h.5m.5 0h1m2.5 0h.5m12.5 0h.5m1.5 0h.5m4.5 0h.5m23 0h.5m-66 .5h1m7.5 0h1m1.5 0h1m.5 0h1m4.5 0h.5m6.5 0h.5m2 0h.5m5 0h.5m2.5 0h.5m2 0h.5m1 0h.5m2 0h1m1.5 0h.5m1.5 0h.5m1 0h.5m2.5 0h.5m1.5 0h1.5m-56 .5h.5m9 0h.5m1 0h1m1 0h.5m2 0h1m1 0h1m2.5 0h.5m1.5 0h.5m1.5 0h.5m2 0h1m.5 0h1m1 0h.5m.5 0h.5m1 0h1.5m1 0h5m.5 0h.5m.5 0h2m1 0h.5m3 0h1m2 0h1m1 0h.5m1.5 0h1m-58 .5h.5m1 0h.5m8.5 0h.5m.5 0h1.5m.5 0h.5m1.5 0h.5m2 0h.5m1 0h.5m1 0h1.5m2.5 0h.5m.5 0h.5m1 0h.5m2 0h.5m2.5 0h1m1 0h1m.5 0h.5m.5 0h1m.5 0h12m1 0h.5m.5 0h1.5m2.5 0h.5m17.5 0h.5m-85.5 .5h.5m8.5 0h.5m.5 0h.5m10 0h1m.5 0h.5m.5 0h.5m2 0h.5m1 0h1m1 0h.5m2.5 0h.5m3 0h1m1 0h1m.5 0h1m.5 0h.5m.5 0h3.5m1 0h3.5m10 0h4.5m.5 0h3m.5 0h.5m-58.5 .5h.5m1 0h1m8 0h2m1 0h.5m1 0h.5m.5 0h.5m4.5 0h.5m.5 0h1m1 0h.5m.5 0h1m.5 0h.5m.5 0h2.5m1 0h1.5m.5 0h1m.5 0h.5m.5 0h2m.5 0h1.5m9.5 0h3.5m.5 0h1.5m.5 0h.5m.5 0h.5m1.5 0h1m1 0h.5m2.5 0h.5m8 0h.5m4.5 0h.5m-77 .5h1.5m.5 0h.5m8 0h1m1 0h.5m.5 0h.5m.5 0h.5m1.5 0h.5m1 0h.5m.5 0h.5m.5 0h.5m1.5 0h.5m1.5 0h1m1.5 0h3m.5 0h.5m1.5 0h1m1.5 0h.5m2 0h8.5m.5 0h5m1 0h1.5m.5 0h2.5m.5 0h.5m4.5 0h.5m-64 .5h.5m1.5 0h.5m1 0h.5m8 0h.5m.5 0h1m6.5 0h1.5m.5 0h1.5m.5 0h1m2.5 0h.5m4 0h.5m1.5 0h.5m1.5 0h.5m2 0h2m.5 0h.5m2.5 0h.5m.5 0h1.5m.5 0h1.5m1 0h.5m1 0h.5m.5 0h.5m.5 0h.5m-50.5 .5h1m8 0h.5m1 0h.5m.5 0h.5m3 0h1m1.5 0h.5m4.5 0h.5m3 0h1m3.5 0h.5m.5 0h.5m1 0h.5m1 0h.5m1.5 0h.5m2 0h.5m.5 0h.5m.5 0h.5m.5 0h.5m1.5 0h.5m1.5 0h2m.5 0h.5m5 0h.5m-57 .5h.5m2 0h1m7.5 0h1.5m1 0h1m2.5 0h.5m17 0h.5m.5 0h.5m1.5 0h1m1 0h1.5m1 0h.5m1 0h.5m.5 0h.5m1.5 0h.5m1.5 0h.5m1.5 0h.5m1.5 0h1m-56.5 .5h.5m5.5 0h.5m7.5 0h.5m1.5 0h.5m2.5 0h.5m.5 0h.5m4 0h.5m9.5 0h.5m2 0h.5m1 0h.5m1 0h.5m2.5 0h.5m1 0h1.5m.5 0h1m.5 0h.5m.5 0h.5m3 0h.5m2.5 0h.5m6 0h.5m-61 .5h.5m3 0h.5m.5 0h.5m7.5 0h1.5m4.5 0h.5m2 0h1m.5 0h.5m2.5 0h.5m4.5 0h.5m2 0h.5m2 0h1m1.5 0h.5m.5 0h.5m.5 0h.5m1.5 0h2.5m1 0h1m2 0h1m1 0h1m5 0h.5m6 0h.5m-51.5 .5h1.5m.5 0h.5m1.5 0h.5m3 0h.5m1 0h.5m12.5 0h.5m1.5 0h.5m1 0h.5m.5 0h.5m.5 0h2m.5 0h.5m1 0h1.5m.5 0h1m.5 0h.5m1.5 0h.5m.5 0h.5m1 0h.5m2 0h1.5m10.5 0h.5m-62 .5h.5m7 0h.5m2 0h1m.5 0h.5m3 0h.5m.5 0h.5m9 0h.5m4 0h1m.5 0h.5m1.5 0h.5m.5 0h.5m1 0h.5m.5 0h1.5m.5 0h.5m1 0h.5m.5 0h.5m1.5 0h1.5m.5 0h1m1.5 0h.5m1.5 0h1.5m.5 0h.5m1 0h.5m2.5 0h.5m-57 .5h.5m7 0h.5m.5 0h1m.5 0h1m1.5 0h.5m2 0h.5m1 0h.5m5.5 0h1m2.5 0h.5m3.5 0h.5m1 0h1.5m.5 0h3m1 0h.5m.5 0h.5m.5 0h.5m.5 0h1m1 0h.5m1.5 0h1.5m1 0h.5m3 0h.5m2.5 0h.5m-58 .5h1m2.5 0h1m7 0h1m1 0h.5m1.5 0h1m5.5 0h1m14 0h.5m1 0h.5m.5 0h.5m.5 0h2.5m1 0h4m1 0h.5m.5 0h1.5m.5 0h1.5m3.5 0h.5m3.5 0h.5m3.5 0h.5m-62 .5h1m9.5 0h.5m9.5 0h.5m3 0h.5m1 0h.5m1.5 0h.5m.5 0h1.5m2 0h.5m2 0h4.5m.5 0h1m1.5 0h1m.5 0h2m.5 0h1m.5 0h.5m.5 0h.5m1 0h.5m.5 0h.5m1 0h.5m6 0h.5m-62.5 .5h.5m2.5 0h.5m7.5 0h1m1 0h.5m1 0h.5m.5 0h.5m3 0h.5m7.5 0h.5m3.5 0h1m1 0h.5m2 0h1m.5 0h1.5m.5 0h3.5m.5 0h1.5m2 0h1.5m1 0h1.5m.5 0h.5m2 0h.5m.5 0h1m2.5 0h.5m3 0h.5m-58.5 .5h.5m7 0h.5m19 0h.5m2 0h.5m.5 0h1.5m1 0h.5m1 0h4m1 0h2.5m.5 0h2.5m.5 0h.5m.5 0h.5m.5 0h1m1 0h1m.5 0h1m-57 .5h.5m4.5 0h.5m7 0h1m.5 0h.5m7 0h.5m11.5 0h.5m.5 0h.5m.5 0h.5m3 0h1.5m1 0h2.5m.5 0h2m.5 0h.5m.5 0h.5m1 0h1.5m.5 0h1.5m6.5 0h.5m-56 .5h.5m8 0h.5m.5 0h.5m1 0h.5m7 0h.5m5 0h.5m2.5 0h.5m3.5 0h.5m1.5 0h1.5m.5 0h2.5m.5 0h3m.5 0h.5m.5 0h1.5m1 0h.5m.5 0h1m.5 0h1m2 0h.5m1 0h.5m2 0h.5m-57 .5h.5m1 0h.5m.5 0h1m7 0h.5m3 0h.5m10.5 0h.5m.5 0h.5m1 0h.5m3.5 0h.5m2 0h1m1 0h1m2 0h5m.5 0h1.5m1 0h.5m.5 0h1m.5 0h.5m1.5 0h.5m5.5 0h.5m-58 .5h.5m24 0h.5m9 0h.5m.5 0h1m.5 0h.5m.5 0h.5m.5 0h.5m.5 0h2.5m.5 0h4m1.5 0h1m.5 0h2.5m3.5 0h.5m-52.5 .5h.5m6.5 0h1m6 0h.5m14 0h.5m3.5 0h1m1.5 0h1m.5 0h3.5m1 0h1m.5 0h.5m.5 0h.5m1 0h1m1.5 0h1m.5 0h.5m3 0h.5m-53.5 .5h1m6.5 0h1m2 0h.5m1 0h.5m4.5 0h.5m11 0h1m.5 0h.5m4 0h.5m1 0h.5m.5 0h1.5m.5 0h.5m.5 0h.5m1 0h4.5m.5 0h.5m2 0h.5m4 0h.5m-53.5 .5h.5m6.5 0h.5m9.5 0h.5m3 0h.5m1 0h.5m4.5 0h.5m.5 0h1m1 0h.5m.5 0h.5m.5 0h1m.5 0h2m1 0h3.5m1 0h1m.5 0h1.5m.5 0h1m3 0h1m-49.5 .5h.5m6.5 0h.5m1 0h.5m7.5 0h.5m15.5 0h.5m3 0h.5m.5 0h.5m.5 0h1m.5 0h.5m.5 0h.5m.5 0h.5m.5 0h1.5m.5 0h.5m1 0h.5m1.5 0h.5m1 0h.5m-50 .5h.5m8 0h.5m2 0h.5m13.5 0h.5m3.5 0h1m6 0h1m1 0h.5m2 0h.5m1 0h2m1.5 0h.5m.5 0h.5m.5 0h1m-42 .5h1m18.5 0h.5m3.5 0h.5m.5 0h.5m1.5 0h.5m1 0h1m1.5 0h1m3 0h.5m3.5 0h.5m3.5 0h.5m2.5 0h.5m-56.5 .5h.5m3 0h.5m6.5 0h.5m25 0h1.5m1 0h1m.5 0h.5m1.5 0h1m1 0h.5m2 0h1m1 0h.5m1 0h1m-47.5 .5h1m7.5 0h.5m17.5 0h.5m1 0h1m9 0h.5m1.5 0h.5m.5 0h.5m.5 0h.5m5 0h.5m9.5 0h.5m-65 .5h1m.5 0h1m3 0h.5m2 0h.5m11.5 0h.5m11 0h.5m3 0h.5m3 0h.5m1 0h.5m2.5 0h.5m1 0h.5m4 0h.5m1.5 0h1m-44 .5h.5m5 0h1m14.5 0h.5m.5 0h.5m5 0h.5m3 0h.5m2 0h.5m1.5 0h.5m3.5 0h.5m-39.5 .5h.5m26 0h.5m3 0h1m3 0h.5m7 0h.5m7.5 0h.5m-53.5 .5h.5m8 0h1m31 0h.5m3 0h.5m3 0h.5m-40 .5h1m8 0h.5m33 0h.5m-47.5 .5h1m4 0h.5m29 0h.5m6.5 0h.5m25 0h.5m-67.5 .5h1m3 0h1m.5 0h.5m27 0h.5m-39 .5h.5m4.5 0h.5m.5 0h1m2.5 0h.5m.5 0h.5m27.5 0h.5m-36 .5h.5m.5 0h.5m1.5 0h1.5m1.5 0h1.5m41 0h.5m-54.5 .5h.5m9 0h.5m1 0h1m1 0h1m26.5 0h.5m-32 .5h.5m2 0h.5m38 0h.5m3 1h.5m-44 1h.5m2.5 0h.5m36.5 0h.5m10 0h.5m-46.5 1h.5m20 0h.5m-22.5 .5h.5" stroke="rgb(10,10,240)" stroke-width="0.72" fill="none"/>
<path d="M420 163.95h1m-1 .5h1.5m-2 .5h2m-1.5 .5h2m-2.5 .5h2.5m-3 .5h1m1.5 0h.5m-3 .5h.5m2 0h1m-3.5 .5h.5m2.5 0h.5m-3.5 .5h.5m2.5 0h.5m-3.5 .5h.5m2.5 0h.5m-4 .5h.5m3 0h.5m-4 .5h.5m3 0h.5m-4 .5h.5m3 0h.5m-4 .5h.5m-.5 .5h.5m-.5 .5h.5m3.5 0h.5m-4.5 .5h.5m3.5 0h.5m-4.5 .5h.5m-.5 .5h.5m-.5 .5h.5m3.5 0h.5m-4.5 .5h.5m3.5 0h.5m-.5 .5h.5m-.5 .5h.5m-.5 .5h.5m-.5 .5h.5m-5 .5h.5m4 0h.5m-5 .5h.5m4 0h.5m-5 .5h.5m4 0h.5m-5 .5h.5m-.5 .5h.5m-.5 .5h.5m-.5 .5h.5m-.5 .5h.5m-.5 .5h.5m4.5 0h.5m-5.5 .5h.5m4.5 0h.5m-5.5 .5h.5m4.5 0h.5m-5.5 .5h.5m4.5 0h.5m-.5 .5h.5m-5.5 .5h.5m4.5 0h.5m-5.5 .5h.5m4.5 0h.5m-5.5 .5h.5m4.5 0h.5m-.5 .5h.5m-.5 .5h.5m-.5 .5h.5m-.5 .5h.5m-.5 .5h.5m-.5 .5h.5m-6 .5h.5m5 0h.5m-6 .5h.5m-.5 .5h.5m-.5 .5h.5m-.5 .5h.5m-.5 .5h.5m-.5 .5h.5m5.5 0h.5m-6.5 .5h.5m5.5 0h.5m-6.5 .5h.5m5.5 0h.5m-.5 .5h.5m-.5 .5h.5m-.5 .5h.5m-.5 .5h.5m-7 1h.5m-.5 .5h.5m-.5 .5h.5m-.5 .5h.5m6.5 0h.5m-.5 .5h.5m-8 1h.5m-.5 .5h.5m-.5 .5h.5m36.5 0h5.5m.5 0h4m-47 .5h.5m36.5 0h9.5m-46.5 1h.5m7 1h.5m-.5 .5h.5m-7.5 .5h.5m-.5 .5h.5m-.5 .5h.5m-.5 .5h.5m-.5 .5h.5m-.5 .5h.5m-.5 .5h.5m-.5 .5h.5m-.5 .5h.5m-.5 .5h.5m-.5 .5h.5m-.5 .5h.5m6 1.5h.5m-.5 .5h.5m-6.5 .5h.5m5.5 0h.5m-6.5 .5h.5m5 1h.5m-5.5 .5h.5m4.5 0h.5m-5.5 .5h.5m4 .5h.5m-4.5 .5h.5m3.5 0h.5m-4.5 .5h.5m3 .5h.5m-3.5 .5h.5m0 .5h.5m1.5 0h.5m-2 .5h1.5" stroke="rgb(10,20,240)" stroke-width="0.72" fill="none"/>
<path d="M420 166.45h1.5m-2 .5h2m-2 .5h.5m1.5 0h.5m-2.5 .5h.5m1.5 0h.5m-.5 .5h.5m-3 .5h.5m-.5 .5h.5m-.5 .5h.5m2.5 .5h.5m-.5 .5h.5m-.5 .5h.5m-.5 .5h.5m-.5 .5h.5m-.5 .5h.5m-4 2h.5m-.5 .5h.5m-.5 .5h.5m-.5 .5h.5m-.5 .5h.5m-.5 .5h.5m3.5 .5h.5m-.5 .5h.5m-.5 .5h.5m-.5 .5h.5m-.5 .5h.5m-.5 .5h.5m-.5 .5h.5m-5 3.5h.5m-.5 .5h.5m-.5 .5h.5m-.5 .5h.5m-.5 .5h.5m-.5 .5h.5m4.5 1h.5m-.5 .5h.5m-.5 .5h.5m-.5 .5h.5m-6 2.5h.5m-.5 .5h.5m-.5 .5h.5m5.5 1h.5m-.5 .5h.5m-.5 .5h.5m-.5 .5h.5m-7 1h.5m6.5 .5h.5m-7.5 4.5h.5m6 6.5h.5m-.5 .5h.5m-6.5 1h.5m5 1.5h.5m-1.5 3h.5m-3.5 .5h.5m2 .5h.5m-2 .5h.5m.5 0h.5" stroke="rgb(10,20,250)" stroke-width="0.72" fill="none"/>
<path d="M420 167.45h1.5m-2 1h.5m1.5 .5h.5m-3 1.5h.5m-.5 .5h.5m2.5 2.5h.5m-.5 .5h.5m-4 4h.5m-.5 .5h.5m3.5 3h.5m-.5 .5h.5m-5 5.5h.5m4.5 2.5h.5m-6 3.5h.5m5.5 14h.5m-6 4h.5m4 1h.5m-2.5 3h.5" stroke="rgb(10,30,250)" stroke-width="0.72" fill="none"/>
<path d="M420 167.95h1m-1 .5h.5m.5 0h.5m-2 .5h.5m-.5 .5h.5m1.5 .5h.5m-3 2.5h.5m-.5 .5h.5m-.5 .5h.5m2.5 1.5h.5m-.5 .5h.5m-.5 .5h.5m-4 3.5h.5m-.5 .5h.5m-.5 .5h.5m3.5 3h.5m-.5 .5h.5m-.5 .5h.5m-.5 .5h.5m-5 3.5h.5m-.5 .5h.5m4.5 2h.5m-6 3h.5m-.5 .5h.5m6 3h.5m-1 4.5h.5m-.5 1h.5m-.5 4h.5m-1 3.5h.5m-4 4.5h.5" stroke="rgb(0,40,250)" stroke-width="0.72" fill="none"/>
<path d="M421 167.95h.5m0 1.5h.5m-3 2h.5m-.5 .5h.5m2.5 2.5h.5m-4 4.5h.5m3.5 3.5h.5m-.5 .5h.5m-5 5h.5m4.5 2.5h.5m.5 10h.5m-1 2h.5m-6.5 6.5h.5m.5 4h.5" stroke="rgb(0,30,250)" stroke-width="0.72" fill="none"/>
<path d="M420.5 168.45h.5m-1 .5h1.5m-2 1h.5m1.5 .5h.5m-.5 .5h.5m-.5 .5h.5m-3 2.5h.5m-.5 .5h.5m-.5 .5h.5m2.5 1.5h.5m-.5 .5h.5m-.5 .5h.5m-4 3.5h.5m-.5 .5h.5m-.5 .5h.5m-.5 .5h.5m3.5 3h.5m-.5 .5h.5m-.5 .5h.5m-5 3h.5m-.5 .5h.5m4.5 1.5h.5m-.5 .5h.5m-6 3h.5m6 3h.5m-.5 2h.5m-7.5 1h.5m6 2.5h.5m-.5 .5h.5m-.5 .5h.5m-.5 2h.5m-6.5 2h.5m4 5h.5m-3.5 .5h.5m2 .5h.5" stroke="rgb(0,50,250)" stroke-width="0.72" fill="none"/>
<path d="M420 169.45h1.5m-.5 .5h.5m-2 .5h.5m-.5 .5h.5m1.5 1h.5m-.5 .5h.5m-.5 .5h.5m-3 2.5h.5m-.5 .5h.5m2.5 2h.5m-.5 .5h.5m-.5 .5h.5m-4 4h.5m-.5 .5h.5m-.5 .5h.5m3.5 3h.5m-5 3.5h.5m4.5 2h.5m-6 3h.5m5.5 .5h.5m0 2.5h.5m-.5 .5h.5m-.5 .5h.5m-1 5.5h.5m-.5 .5h.5m-.5 .5h.5m-6.5 2h.5m0 3h.5m4 1h.5m-2 3h.5" stroke="rgb(0,60,250)" stroke-width="0.72" fill="none"/>
<path d="M420 169.95h1m0 .5h.5m-.5 .5h.5m-2 .5h.5m-.5 .5h.5m-.5 .5h.5m1.5 1h.5m-.5 .5h.5m-3 2.5h.5m-.5 .5h.5m-.5 .5h.5m2.5 2h.5m-.5 .5h.5m-4 4.5h.5m-.5 .5h.5m-.5 .5h.5m3.5 2h.5m-5 3.5h.5m4.5 2h.5m-6.5 4h.5m5.5 13h.5m-5 2.5h.5m1 2.5h1" stroke="rgb(0,70,250)" stroke-width="0.72" fill="none"/>
<path d="M420 170.45h1m-1 .5h1m-1 .5h.5m.5 0h.5m-.5 .5h.5m-2 1h.5m-.5 .5h.5m1.5 1h.5m-.5 .5h.5m-.5 .5h.5m-3 2.5h.5m-.5 .5h.5m2.5 2h.5m-.5 .5h.5m-.5 .5h.5m-4 4.5h.5m-.5 .5h.5m3.5 1.5h.5m-.5 .5h.5m-5 3h.5m4.5 2h.5m0 8h.5m-6.5 1h.5m-.5 5h.5m1.5 7h.5" stroke="rgb(0,80,250)" stroke-width="0.72" fill="none"/>
<path d="M420.5 171.45h.5m-1 .5h1m-1 .5h.5m.5 0h.5m-.5 .5h.5m-2 1h.5m-.5 .5h.5m-.5 .5h.5m1.5 1h.5m-.5 .5h.5m-3 2.5h.5m-.5 .5h.5m-.5 .5h.5m2.5 2h.5m-.5 .5h.5m-4 4.5h.5m3.5 2h.5m-5 3h.5m-1 10h.5m-.5 1h.5m-.5 4h.5m5 2.5h.5m-5.5 1h.5m4 1h.5m-4 2h.5m2 .5h.5" stroke="rgb(0,90,250)" stroke-width="0.72" fill="none"/>
<path d="M420.5 172.45h.5m-1 .5h1m-1 .5h1.5m-.5 .5h.5m-.5 .5h.5m-2 1h.5m-.5 .5h.5m1.5 1h.5m-.5 .5h.5m-.5 .5h.5m-3 2.5h.5m-.5 .5h.5m2.5 2h.5m-.5 .5h.5m-.5 .5h.5m-4 3.5h.5m3.5 2h.5m-5 3h.5m4.5 1.5h.5m0 2.5h.5m-7 4h.5m0 3h.5m4 9.5h.5" stroke="rgb(0,100,250)" stroke-width="0.72" fill="none"/>
<path d="M420 173.95h1m-1 .5h1m-1 .5h.5m.5 0h.5m-.5 .5h.5m-.5 .5h.5m-2 .5h.5m-.5 .5h.5m-.5 .5h.5m1.5 1h.5m-.5 .5h.5m-3 2.5h.5m-.5 .5h.5m-.5 .5h.5m2.5 2h.5m-.5 .5h.5m-.5 .5h.5m-4 2.5h.5m3.5 2h.5m-5 3h.5m4.5 1.5h.5m-6 1.5h.5m-1 1.5h.5m0 6.5h.5m-.5 .5h.5m-.5 .5h.5m-.5 .5h.5m-.5 1h.5m5 2.5h.5m-5 3h.5m2 2.5h.5" stroke="rgb(0,110,250)" stroke-width="0.72" fill="none"/>
<path d="M420.5 174.95h.5m-1 .5h1m-1 .5h1m-1 .5h1.5m-1.5 .5h.5m.5 0h.5m-.5 .5h.5m-2 .5h.5m-.5 .5h.5m-.5 .5h.5m1.5 .5h.5m-.5 .5h.5m-.5 .5h.5m-3 2.5h.5m-.5 .5h.5m-.5 .5h.5m2.5 2h.5m-.5 .5h.5m-4 2h.5m-.5 .5h.5m3.5 1.5h.5m-5 3h.5m4.5 1.5h.5m-6.5 5h.5m0 6h.5m0 4h.5m1 4h.5m0 .5h1" stroke="rgb(0,120,250)" stroke-width="0.72" fill="none"/>
<path d="M420.5 176.95h.5m-1 .5h1m-1 .5h1.5m-1.5 .5h.5m.5 0h.5m-.5 .5h.5m-2 .5h.5m-.5 .5h.5m-.5 .5h.5m1.5 .5h.5m-.5 .5h.5m-.5 .5h.5m-3 2.5h.5m-.5 .5h.5m-.5 .5h.5m-.5 .5h.5m2.5 1h.5m-4 2.5h.5m-.5 .5h.5m3.5 1h.5m0 4.5h.5m-6.5 2.5h.5m-.5 1.5h.5m5.5 9h.5m-1 2.5h.5m-1 1.5h.5m-3.5 .5h.5" stroke="rgb(0,130,250)" stroke-width="0.72" fill="none"/>
<path d="M420.5 178.45h.5m-1 .5h1m-1 .5h1.5m-1.5 .5h.5m.5 0h.5m-.5 .5h.5m-2 .5h.5m-.5 .5h.5m-.5 .5h.5m1.5 .5h.5m-.5 .5h.5m-.5 .5h.5m-.5 .5h.5m-3 2.5h.5m2.5 1h.5m-.5 .5h.5m-4 2.5h.5m3.5 1h.5m-5 2.5h.5m-1.5 4.5h.5m-.5 .5h.5m0 2.5h.5m5 6.5h.5m-5.5 1.5h.5m0 2h.5m2.5 2h.5m-1 .5h.5" stroke="rgb(0,140,250)" stroke-width="0.72" fill="none"/>
<path d="M420.5 179.95h.5m-1 .5h1m-1 .5h1.5m-.5 .5h.5m-.5 .5h.5m-2 .5h.5m-.5 .5h.5m-.5 .5h.5m1.5 1h.5m-.5 .5h.5m-.5 .5h.5m-3 1.5h.5m2.5 1.5h.5m-4 2.5h.5m3.5 1h.5m-5 2.5h.5m-1 2h.5m5.5 4.5h.5m-1 1.5h.5m-3.5 11.5h.5" stroke="rgb(0,150,250)" stroke-width="0.72" fill="none"/>
<path d="M420 181.45h1m-1 .5h1m-1 .5h.5m.5 0h.5m-.5 .5h.5m-2 1h.5m-.5 .5h.5m-.5 .5h.5m1.5 1h.5m-.5 .5h.5m-3 1h.5m-.5 .5h.5m2.5 1h.5m0 3.5h.5m-5 2.5h.5m4.5 12.5h.5m-5.5 1.5h.5m1 4.5h.5m.5 .5h.5" stroke="rgb(0,160,250)" stroke-width="0.72" fill="none"/>
<path d="M420.5 182.45h.5m-1 .5h1m-1 .5h1.5m-1.5 .5h.5m.5 0h.5m-.5 .5h.5m-2 1h.5m-.5 .5h.5m1.5 1h.5m-3 1.5h.5m2.5 1h.5m-.5 .5h.5m-4 1.5h.5m3.5 1.5h.5m.5 4h.5m-1 5h.5m-.5 1h.5m-1 7.5h.5m-1 1.5h.5m-3.5 .5h.5" stroke="rgb(0,170,250)" stroke-width="0.72" fill="none"/>
<path d="M420.5 183.95h.5m-1 .5h1m-1 .5h1.5m-.5 .5h.5m-.5 .5h.5m-2 .5h.5m1.5 1h.5m-3 1.5h.5m2.5 1.5h.5m-4 1.5h.5m3.5 1.5h.5m-5 2h.5m4.5 8h.5m-.5 .5h.5m-.5 3h.5m-5.5 1.5h.5m0 2.5h.5m2.5 2h.5" stroke="rgb(0,180,250)" stroke-width="0.72" fill="none"/>
<path d="M420 185.45h1m-1 .5h1m-1 .5h1.5m-2 .5h1m.5 0h.5m-2 .5h.5m-.5 .5h.5m1.5 0h.5m-.5 .5h.5m-3 1h.5m-.5 .5h.5m2.5 1h.5m-4 1.5h.5m-.5 .5h.5m3.5 1h.5m0 2h.5m-5.5 6.5h.5m4.5 2h.5m-.5 .5h.5m-.5 .5h.5m-.5 .5h.5m-.5 .5h.5m-5.5 1.5h.5m4 2h.5m-1 1.5h.5m-3 1.5h.5m0 .5h1.5" stroke="rgb(0,190,250)" stroke-width="0.72" fill="none"/>
<path d="M420.5 186.95h.5m0 .5h.5m0 1.5h.5m-3 1.5h.5m2.5 1h.5m1 9h.5m-5 11.5h.5" stroke="rgb(0,200,250)" stroke-width="0.72" fill="none"/>
<path d="M420 187.45h1m-1 .5h1.5m-2 .5h2m-2 .5h.5m1 0h.5m-2 .5h.5m1.5 0h.5m-2.5 .5h.5m1.5 0h.5m-.5 .5h.5m-3 .5h.5m-.5 .5h.5m2.5 .5h.5m-.5 .5h.5m-4 1h.5m-.5 .5h.5m3.5 .5h.5m-.5 .5h.5m.5 2.5h.5m-6.5 3.5h.5m5 .5h.5m-5.5 .5h.5m-.5 1h.5m-.5 .5h.5m-.5 .5h.5m-.5 3h.5m-.5 .5h.5m4 2h.5m-4.5 1h.5m2.5 2h.5m-2 .5h.5m.5 0h.5" stroke="rgb(0,200,240)" stroke-width="0.72" fill="none"/>
<path d="M420 188.95h1m0 .5h.5m.5 3.5h.5m0 2.5h.5m.5 4.5h.5m-6 4.5h.5m-.5 .5h.5m4 4h.5m-4.5 1h.5m3 1h.5m-3.5 .5h.5m0 1h.5m.5 .5h.5" stroke="rgb(0,210,240)" stroke-width="0.72" fill="none"/>
<path d="M420 189.45h1m-1 .5h1.5m-2 .5h1m.5 0h.5m-2 .5h.5m1.5 0h.5m-.5 .5h.5m-3 .5h.5m-.5 .5h.5m2.5 1h.5m-4 1h.5m-.5 .5h.5m-1 1h.5m4.5 .5h.5m-6 .5h.5m5.5 1h.5m-.5 1.5h.5m-6 6h.5m-.5 .5h.5m-.5 .5h.5m4 2h.5m-1.5 3.5h.5m-1 .5h.5" stroke="rgb(0,210,230)" stroke-width="0.72" fill="none"/>
<path d="M420.5 190.45h.5m-1.5 1h.5m1.5 .5h.5m-3 1h.5m4 5.5h.5m-1.5 4h.5m-4.5 7h.5m3 1h.5m-3.5 .5h.5m0 1h.5m0 .5h.5" stroke="rgb(0,220,230)" stroke-width="0.72" fill="none"/>
<path d="M420 190.95h1.5m-.5 .5h.5m-2 .5h.5m1.5 .5h.5m-3 1h.5m2.5 .5h.5m-4 1.5h.5m4.5 3.5h.5m-6.5 1.5h.5m0 1h.5m4 1.5h.5m-.5 5h.5m-4.5 1h.5m2.5 2.5h.5m-1.5 1h.5" stroke="rgb(0,220,220)" stroke-width="0.72" fill="none"/>
<path d="M420 191.45h.5m2 10.5h.5m-.5 1.5h.5" stroke="rgb(0,230,210)" stroke-width="0.72" fill="none"/>
<path d="M420.5 191.45h.5m-1.5 1h.5m1.5 .5h.5m0 1.5h.5m0 13h.5m-2 4.5h.5" stroke="rgb(0,230,200)" stroke-width="0.72" fill="none"/>
<path d="M420 191.95h1m-1.5 1h.5m-1.5 9.5h.5m3.5 2h.5m-4.5 4h.5m0 2h.5m1 1.5h.5" stroke="rgb(10,230,180)" stroke-width="0.72" fill="none"/>
<path d="M421 191.95h.5m1 12h.5m-1 6h.5" stroke="rgb(0,230,190)" stroke-width="0.72" fill="none"/>
<path d="M420 192.45h.5m2.5 8.5h.5m-1 4h.5" stroke="rgb(10,230,160)" stroke-width="0.72" fill="none"/>
<path d="M420.5 192.45h.5m0 .5h.5m-2.5 1.5h.5m-2 5.5h.5m.5 3h.5" stroke="rgb(20,230,150)" stroke-width="0.72" fill="none"/>
<path d="M421 192.45h.5m0 1h.5m0 1.5h.5m0 12h.5m-1.5 4h.5" stroke="rgb(10,230,170)" stroke-width="0.72" fill="none"/>
<path d="M420 192.95h1m-3.5 5h.5m4.5 8h.5m-.5 .5h.5" stroke="rgb(20,240,130)" stroke-width="0.72" fill="none"/>
<path d="M419.5 193.45h.5m2.5 12h.5m-4.5 2.5h.5m3 1.5h.5m-1.5 2h.5" stroke="rgb(20,230,140)" stroke-width="0.72" fill="none"/>
<path d="M420 193.45h.5m-2 14h.5" stroke="rgb(30,240,100)" stroke-width="0.72" fill="none"/>
<path d="M420.5 193.45h.5m-1.5 .5h.5m1.5 .5h.5m-3 1h.5m3.5 1.5h.5m-6 1.5h.5m4 4h.5m-4 2h.5m-.5 .5h.5m-.5 2h.5m3 2h.5m-3.5 .5h.5m1.5 1.5h.5" stroke="rgb(40,240,90)" stroke-width="0.72" fill="none"/>
<path d="M421 193.45h.5m-2.5 1.5h.5m-1 9h.5" stroke="rgb(30,240,110)" stroke-width="0.72" fill="none"/>
<path d="M419 193.95h.5m-1.5 2.5h.5m-1 1h.5m1.5 14h.5m0 .5h.5" stroke="rgb(10,230,190)" stroke-width="0.72" fill="none"/>
<path d="M420 193.95h.5m.5 0h.5m-2 .5h.5m-1.5 1.5h.5m-1.5 3h.5m4.5 2.5h.5m-3.5 9h.5m0 .5h1" stroke="rgb(50,240,90)" stroke-width="0.72" fill="none"/>
<path d="M420.5 193.95h.5m.5 1h.5m0 8h.5m-4 2.5h.5m-.5 1h.5m3 2h.5m-1 1.5h.5" stroke="rgb(50,240,80)" stroke-width="0.72" fill="none"/>
<path d="M421.5 193.95h.5m-3.5 8h.5m-.5 1.5h.5m0 6.5h.5m0 1h.5m.5 .5h.5" stroke="rgb(30,240,120)" stroke-width="0.72" fill="none"/>
<path d="M420 194.45h.5m-1 .5h.5" stroke="rgb(60,240,70)" stroke-width="0.72" fill="none"/>
<path d="M420.5 194.45h.5m0 .5h.5m0 .5h.5m1 5h.5m-1.5 1.5h.5m-3.5 1h.5m2.5 1h.5m-3.5 4.5h.5m2 1h.5m-2.5 .5h.5m0 .5h1" stroke="rgb(70,240,70)" stroke-width="0.72" fill="none"/>
<path d="M421 194.45h.5m1 2h.5m-5 4.5h.5m.5 1.5h.5m2.5 1h.5m-4 2.5h.5m3 2h.5m-3.5 1h.5m1.5 1.5h.5" stroke="rgb(60,240,80)" stroke-width="0.72" fill="none"/>
<path d="M420 194.95h1m-1.5 .5h.5m-1.5 6h.5m0 2h.5m2.5 1.5h.5m-1.5 5h.5" stroke="rgb(80,240,60)" stroke-width="0.72" fill="none"/>
<path d="M420 195.45h1m-2.5 1h.5m.5 6h.5m1.5 .5h.5m-3 1.5h.5m2.5 1.5h.5m-.5 .5h.5m-3.5 1h.5" stroke="rgb(100,240,50)" stroke-width="0.72" fill="none"/>
<path d="M421 195.45h.5m-2.5 8.5h.5m2.5 1.5h.5m-1 3.5h.5m-1.5 1h.5" stroke="rgb(90,240,50)" stroke-width="0.72" fill="none"/>
<path d="M422 195.45h.5m-2.5 16h.5" stroke="rgb(30,240,130)" stroke-width="0.72" fill="none"/>
<path d="M419 195.95h.5m0 7h.5m1.5 .5h.5m-3 1.5h.5m.5 4.5h1" stroke="rgb(110,250,40)" stroke-width="0.72" fill="none"/>
<path d="M419.5 195.95h.5m-1 5.5h.5m1.5 3h.5m-1.5 3.5h.5" stroke="rgb(180,240,10)" stroke-width="0.72" fill="none"/>
<path d="M420 195.95h1m-2 .5h.5m-1.5 1.5h.5m2 7h.5m0 .5h.5m-.5 1.5h.5" stroke="rgb(220,240,0)" stroke-width="0.72" fill="none"/>
<path d="M421 195.95h.5m-1.5 9h.5m-1 1h.5m-.5 .5h.5m0 1h1" stroke="rgb(210,240,0)" stroke-width="0.72" fill="none"/>
<path d="M421.5 195.95h.5m-4 1.5h.5m2.5 4.5h.5m-1.5 1.5h1m0 .5h.5m-2 .5h.5m0 4h.5" stroke="rgb(160,240,20)" stroke-width="0.72" fill="none"/>
<path d="M422 195.95h.5m-4.5 1h.5m4.5 .5h.5m-4.5 4.5h.5m2 .5h.5m0 4.5h.5m-3.5 1h.5m0 1.5h.5m0 .5h.5" stroke="rgb(90,240,60)" stroke-width="0.72" fill="none"/>
<path d="M422.5 195.95h.5" stroke="rgb(20,230,160)" stroke-width="0.72" fill="none"/>
<path d="M419.5 196.45h.5m2.5 1h.5m-1 3.5h.5m-2.5 .5h1" stroke="rgb(240,210,0)" stroke-width="0.72" fill="none"/>
<path d="M420 196.45h1.5m1 3.5h.5" stroke="rgb(240,200,0)" stroke-width="0.72" fill="none"/>
<path d="M421.5 196.45h.5m-3.5 .5h.5m-1 2h.5m4 1.5h.5m-2 1h.5" stroke="rgb(240,220,0)" stroke-width="0.72" fill="none"/>
<path d="M422 196.45h.5m.5 2.5h.5m-3.5 3h1m-1 2h.5m1 1.5h.5m-.5 1.5h.5m-2.5 .5h.5m1 .5h.5m-1 .5h.5" stroke="rgb(170,240,20)" stroke-width="0.72" fill="none"/>
<path d="M419 196.95h.5m3 1.5h.5m-4.5 1.5h.5" stroke="rgb(250,160,0)" stroke-width="0.72" fill="none"/>
<path d="M419.5 196.95h.5m-1.5 1.5h.5m0 2h.5" stroke="rgb(250,120,0)" stroke-width="0.72" fill="none"/>
<path d="M420 196.95h1m1 1h.5" stroke="rgb(250,90,0)" stroke-width="0.72" fill="none"/>
<path d="M421 196.95h.5m-2.5 .5h.5m-1 1.5h.5m3 1h.5" stroke="rgb(250,100,0)" stroke-width="0.72" fill="none"/>
<path d="M421.5 196.95h.5m0 .5h.5m-4 2h.5m1.5 1.5h.5" stroke="rgb(250,130,0)" stroke-width="0.72" fill="none"/>
<path d="M422 196.95h.5m0 1h.5" stroke="rgb(250,190,0)" stroke-width="0.72" fill="none"/>
<path d="M422.5 196.95h.5m-3 7.5h1m-1.5 1h.5m1.5 .5h.5m-.5 .5h.5m-2.5 .5h.5m.5 1h.5" stroke="rgb(190,240,10)" stroke-width="0.72" fill="none"/>
<path d="M418.5 197.45h.5" stroke="rgb(250,180,0)" stroke-width="0.72" fill="none"/>
<path d="M419.5 197.45h.5m2 1h.5m-2.5 2h.5m.5 0h.5" stroke="rgb(250,50,0)" stroke-width="0.72" fill="none"/>
<path d="M420 197.45h.5m.5 0h.5m-2.5 1h.5" stroke="rgb(240,30,0)" stroke-width="0.72" fill="none"/>
<path d="M420.5 197.45h.5m.5 .5h.5m-2.5 2h.5" stroke="rgb(240,20,0)" stroke-width="0.72" fill="none"/>
<path d="M421.5 197.45h.5m-3 .5h.5m2.5 1.5h.5m-3 1h.5" stroke="rgb(250,60,0)" stroke-width="0.72" fill="none"/>
<path d="M418.5 197.95h.5m3.5 1h.5m-1 1.5h.5m-3 .5h.5" stroke="rgb(250,150,0)" stroke-width="0.72" fill="none"/>
<path d="M419.5 197.95h.5m-1 1h.5m2 .5h.5m-1 .5h.5" stroke="rgb(240,10,0)" stroke-width="0.72" fill="none"/>
<path d="M420 197.95h1.5m-2 .5h2.5m-2.5 .5h2.5m-2.5 .5h2m-1.5 .5h1" stroke="rgb(230,0,0)" stroke-width="0.72" fill="none"/>
<path d="M423 197.95h.5m-2 4h.5m-3 5h.5" stroke="rgb(120,250,30)" stroke-width="0.72" fill="none"/>
<path d="M418 198.45h.5m-.5 1h.5m1 2h.5m0 4.5h1.5m-1.5 .5h1.5m-1 .5h.5" stroke="rgb(240,230,0)" stroke-width="0.72" fill="none"/>
<path d="M423 198.45h.5m-2.5 5h.5m0 1.5h.5m-2.5 3h.5m1 .5h.5" stroke="rgb(150,240,20)" stroke-width="0.72" fill="none"/>
<path d="M422 198.95h.5m-3.5 .5h.5m2 .5h.5" stroke="rgb(240,40,0)" stroke-width="0.72" fill="none"/>
<path d="M417.5 199.45h.5m3.5 11h.5" stroke="rgb(40,240,100)" stroke-width="0.72" fill="none"/>
<path d="M422.5 199.45h.5m-1.5 1.5h.5" stroke="rgb(250,170,0)" stroke-width="0.72" fill="none"/>
<path d="M423 199.45h.5m-1.5 2h.5m-3 .5h.5m0 1h1m-1.5 1h.5m1.5 .5h.5m-3 1.5h.5m-.5 .5h.5m1 2.5h.5" stroke="rgb(140,240,30)" stroke-width="0.72" fill="none"/>
<path d="M418 199.95h.5m0 1h.5m2 4h.5m-.5 2.5h.5" stroke="rgb(200,240,10)" stroke-width="0.72" fill="none"/>
<path d="M419 199.95h.5" stroke="rgb(250,70,0)" stroke-width="0.72" fill="none"/>
<path d="M423 199.95h.5m-2 8.5h.5m-2.5 .5h.5" stroke="rgb(110,240,40)" stroke-width="0.72" fill="none"/>
<path d="M418 200.45h.5m4 .5h.5m-2.5 1.5h.5m0 .5h.5m-2 .5h.5m-.5 5h.5m0 .5h.5m.5 0h.5" stroke="rgb(130,240,30)" stroke-width="0.72" fill="none"/>
<path d="M418.5 200.45h.5m0 .5h.5" stroke="rgb(240,190,0)" stroke-width="0.72" fill="none"/>
<path d="M420.5 200.45h.5" stroke="rgb(250,40,0)" stroke-width="0.72" fill="none"/>
<path d="M421.5 200.45h.5" stroke="rgb(250,80,0)" stroke-width="0.72" fill="none"/>
<path d="M420 200.95h.5m.5 0h.5" stroke="rgb(250,140,0)" stroke-width="0.72" fill="none"/>
<path d="M421.5 201.45h.5m-1.5 4h.5" stroke="rgb(240,240,0)" stroke-width="0.72" fill="none"/>
<path d="M420 202.45h.5m1 1.5h.5m-3 1.5h.5m2 2.5h.5" stroke="rgb(120,240,30)" stroke-width="0.72" fill="none"/>
<path d="M421 202.45h.5" stroke="rgb(120,250,40)" stroke-width="0.72" fill="none"/>
<path d="M420.5 203.95h.5m-1.5 1h.5" stroke="rgb(180,240,20)" stroke-width="0.72" fill="none"/>
<path d="M422 204.45h.5m-.5 3h.5" stroke="rgb(80,240,70)" stroke-width="0.72" fill="none"/>
<path d="M420 205.45h.5m-.5 1.5h.5" stroke="rgb(230,240,0)" stroke-width="0.72" fill="none"/>
<path d="M421.5 207.45h.5" stroke="rgb(150,240,30)" stroke-width="0.72" fill="none"/>
<path d="M421 209.45h.5" stroke="rgb(100,240,40)" stroke-width="0.72" fill="none"/>
</g>
<rect x="399" y="124.2" width="97.6" height="96.6" fill="none" stroke="#b4b4b4" stroke-width="0.9"/>
<line x1="396.7" y1="133.1" x2="399.2" y2="133.1" stroke="#111" stroke-width="0.75" stroke-linecap="butt"/>
<text x="388.4" y="135.8" font-size="4.5" font-family='"Liberation Sans", sans-serif' textLength="3.9" lengthAdjust="spacingAndGlyphs" fill="#4d4d4d">10</text>
<text x="392.5" y="132.9" font-size="3.3" font-family='"Liberation Sans", sans-serif' textLength="1.6" lengthAdjust="spacingAndGlyphs" fill="#4d4d4d">5</text>
<line x1="396.7" y1="155.4" x2="399.2" y2="155.4" stroke="#111" stroke-width="0.75" stroke-linecap="butt"/>
<text x="388.4" y="158.1" font-size="4.5" font-family='"Liberation Sans", sans-serif' textLength="3.9" lengthAdjust="spacingAndGlyphs" fill="#4d4d4d">10</text>
<text x="392.5" y="155.2" font-size="3.3" font-family='"Liberation Sans", sans-serif' textLength="1.6" lengthAdjust="spacingAndGlyphs" fill="#4d4d4d">4</text>
<line x1="396.7" y1="182" x2="399.2" y2="182" stroke="#111" stroke-width="0.75" stroke-linecap="butt"/>
<text x="388.4" y="184.7" font-size="4.5" font-family='"Liberation Sans", sans-serif' textLength="3.9" lengthAdjust="spacingAndGlyphs" fill="#4d4d4d">10</text>
<text x="392.5" y="181.8" font-size="3.3" font-family='"Liberation Sans", sans-serif' textLength="1.6" lengthAdjust="spacingAndGlyphs" fill="#4d4d4d">3</text>
<line x1="396.7" y1="199.2" x2="399.2" y2="199.2" stroke="#111" stroke-width="0.75" stroke-linecap="butt"/>
<text x="390.2" y="201.9" font-size="4.5" font-family='"Liberation Sans", sans-serif' textLength="2.1" lengthAdjust="spacingAndGlyphs" fill="#4d4d4d">0</text>
<line x1="396.7" y1="216.5" x2="399.2" y2="216.5" stroke="#111" stroke-width="0.75" stroke-linecap="butt"/>
<text x="387" y="219.2" font-size="4.5" font-family='"Liberation Sans", sans-serif' textLength="5.3" lengthAdjust="spacingAndGlyphs" fill="#4d4d4d">-10</text>
<text x="392.5" y="216.3" font-size="3.3" font-family='"Liberation Sans", sans-serif' textLength="1.6" lengthAdjust="spacingAndGlyphs" fill="#4d4d4d">3</text>
<line x1="404.6" y1="220.6" x2="404.6" y2="223" stroke="#111" stroke-width="0.75" stroke-linecap="butt"/>
<text x="401.15" y="232.9" font-size="4.5" font-family='"Liberation Sans", sans-serif' textLength="5.3" lengthAdjust="spacingAndGlyphs" fill="#4d4d4d">-10</text>
<text x="406.65" y="230" font-size="3.3" font-family='"Liberation Sans", sans-serif' textLength="1.6" lengthAdjust="spacingAndGlyphs" fill="#4d4d4d">3</text>
<line x1="420.4" y1="220.6" x2="420.4" y2="223" stroke="#111" stroke-width="0.75" stroke-linecap="butt"/>
<text x="419.15" y="232.9" font-size="4.5" font-family='"Liberation Sans", sans-serif' textLength="2.1" lengthAdjust="spacingAndGlyphs" fill="#4d4d4d">0</text>
<line x1="438.5" y1="220.6" x2="438.5" y2="223" stroke="#111" stroke-width="0.75" stroke-linecap="butt"/>
<text x="436.15" y="232.9" font-size="4.5" font-family='"Liberation Sans", sans-serif' textLength="3.9" lengthAdjust="spacingAndGlyphs" fill="#4d4d4d">10</text>
<text x="440.25" y="230" font-size="3.3" font-family='"Liberation Sans", sans-serif' textLength="1.6" lengthAdjust="spacingAndGlyphs" fill="#4d4d4d">3</text>
<line x1="464.9" y1="220.6" x2="464.9" y2="223" stroke="#111" stroke-width="0.75" stroke-linecap="butt"/>
<text x="463.85" y="232.9" font-size="4.5" font-family='"Liberation Sans", sans-serif' textLength="3.9" lengthAdjust="spacingAndGlyphs" fill="#4d4d4d">10</text>
<text x="467.95" y="230" font-size="3.3" font-family='"Liberation Sans", sans-serif' textLength="1.6" lengthAdjust="spacingAndGlyphs" fill="#4d4d4d">4</text>
<line x1="488.1" y1="220.6" x2="488.1" y2="223" stroke="#111" stroke-width="0.75" stroke-linecap="butt"/>
<text x="485.35" y="232.9" font-size="4.5" font-family='"Liberation Sans", sans-serif' textLength="3.9" lengthAdjust="spacingAndGlyphs" fill="#4d4d4d">10</text>
<text x="489.45" y="230" font-size="3.3" font-family='"Liberation Sans", sans-serif' textLength="1.6" lengthAdjust="spacingAndGlyphs" fill="#4d4d4d">5</text>
<rect x="396.8" y="197.1" width="2.5" height="4.3" fill="#111" stroke="none" stroke-width="1"/>
<rect x="418.1" y="220.6" width="4.8" height="2.1" fill="#111" stroke="none" stroke-width="1"/>
<line x1="397.5" y1="148.69" x2="399" y2="148.69" stroke="#333" stroke-width="0.5" stroke-linecap="butt"/>
<line x1="397.5" y1="173.99" x2="399" y2="173.99" stroke="#333" stroke-width="0.5" stroke-linecap="butt"/>
<line x1="446.45" y1="220.8" x2="446.45" y2="222.3" stroke="#333" stroke-width="0.5" stroke-linecap="butt"/>
<line x1="471.88" y1="220.8" x2="471.88" y2="222.3" stroke="#333" stroke-width="0.5" stroke-linecap="butt"/>
<line x1="397.5" y1="144.76" x2="399" y2="144.76" stroke="#333" stroke-width="0.5" stroke-linecap="butt"/>
<line x1="397.5" y1="169.31" x2="399" y2="169.31" stroke="#333" stroke-width="0.5" stroke-linecap="butt"/>
<line x1="451.1" y1="220.8" x2="451.1" y2="222.3" stroke="#333" stroke-width="0.5" stroke-linecap="butt"/>
<line x1="475.97" y1="220.8" x2="475.97" y2="222.3" stroke="#333" stroke-width="0.5" stroke-linecap="butt"/>
<line x1="397.5" y1="141.97" x2="399" y2="141.97" stroke="#333" stroke-width="0.5" stroke-linecap="butt"/>
<line x1="397.5" y1="165.99" x2="399" y2="165.99" stroke="#333" stroke-width="0.5" stroke-linecap="butt"/>
<line x1="454.39" y1="220.8" x2="454.39" y2="222.3" stroke="#333" stroke-width="0.5" stroke-linecap="butt"/>
<line x1="478.87" y1="220.8" x2="478.87" y2="222.3" stroke="#333" stroke-width="0.5" stroke-linecap="butt"/>
<line x1="397.5" y1="139.81" x2="399" y2="139.81" stroke="#333" stroke-width="0.5" stroke-linecap="butt"/>
<line x1="397.5" y1="163.41" x2="399" y2="163.41" stroke="#333" stroke-width="0.5" stroke-linecap="butt"/>
<line x1="456.95" y1="220.8" x2="456.95" y2="222.3" stroke="#333" stroke-width="0.5" stroke-linecap="butt"/>
<line x1="481.12" y1="220.8" x2="481.12" y2="222.3" stroke="#333" stroke-width="0.5" stroke-linecap="butt"/>
<line x1="397.5" y1="138.05" x2="399" y2="138.05" stroke="#333" stroke-width="0.5" stroke-linecap="butt"/>
<line x1="397.5" y1="161.3" x2="399" y2="161.3" stroke="#333" stroke-width="0.5" stroke-linecap="butt"/>
<line x1="459.04" y1="220.8" x2="459.04" y2="222.3" stroke="#333" stroke-width="0.5" stroke-linecap="butt"/>
<line x1="482.95" y1="220.8" x2="482.95" y2="222.3" stroke="#333" stroke-width="0.5" stroke-linecap="butt"/>
<line x1="397.5" y1="136.55" x2="399" y2="136.55" stroke="#333" stroke-width="0.5" stroke-linecap="butt"/>
<line x1="397.5" y1="159.52" x2="399" y2="159.52" stroke="#333" stroke-width="0.5" stroke-linecap="butt"/>
<line x1="460.81" y1="220.8" x2="460.81" y2="222.3" stroke="#333" stroke-width="0.5" stroke-linecap="butt"/>
<line x1="484.51" y1="220.8" x2="484.51" y2="222.3" stroke="#333" stroke-width="0.5" stroke-linecap="butt"/>
<line x1="397.5" y1="135.26" x2="399" y2="135.26" stroke="#333" stroke-width="0.5" stroke-linecap="butt"/>
<line x1="397.5" y1="157.98" x2="399" y2="157.98" stroke="#333" stroke-width="0.5" stroke-linecap="butt"/>
<line x1="462.34" y1="220.8" x2="462.34" y2="222.3" stroke="#333" stroke-width="0.5" stroke-linecap="butt"/>
<line x1="485.85" y1="220.8" x2="485.85" y2="222.3" stroke="#333" stroke-width="0.5" stroke-linecap="butt"/>
<line x1="397.5" y1="134.12" x2="399" y2="134.12" stroke="#333" stroke-width="0.5" stroke-linecap="butt"/>
<line x1="397.5" y1="156.62" x2="399" y2="156.62" stroke="#333" stroke-width="0.5" stroke-linecap="butt"/>
<line x1="463.69" y1="220.8" x2="463.69" y2="222.3" stroke="#333" stroke-width="0.5" stroke-linecap="butt"/>
<line x1="487.04" y1="220.8" x2="487.04" y2="222.3" stroke="#333" stroke-width="0.5" stroke-linecap="butt"/>
<line x1="406.2" y1="220.8" x2="406.2" y2="222.1" stroke="#444" stroke-width="0.5" stroke-linecap="butt"/>
<line x1="425.3" y1="220.8" x2="425.3" y2="222.1" stroke="#444" stroke-width="0.5" stroke-linecap="butt"/>
<line x1="397.7" y1="214.6" x2="399" y2="214.6" stroke="#444" stroke-width="0.5" stroke-linecap="butt"/>
<line x1="397.7" y1="194.6" x2="399" y2="194.6" stroke="#444" stroke-width="0.5" stroke-linecap="butt"/>
<line x1="407.8" y1="220.8" x2="407.8" y2="222.1" stroke="#444" stroke-width="0.5" stroke-linecap="butt"/>
<line x1="427.2" y1="220.8" x2="427.2" y2="222.1" stroke="#444" stroke-width="0.5" stroke-linecap="butt"/>
<line x1="397.7" y1="212.7" x2="399" y2="212.7" stroke="#444" stroke-width="0.5" stroke-linecap="butt"/>
<line x1="397.7" y1="192.7" x2="399" y2="192.7" stroke="#444" stroke-width="0.5" stroke-linecap="butt"/>
<line x1="409.4" y1="220.8" x2="409.4" y2="222.1" stroke="#444" stroke-width="0.5" stroke-linecap="butt"/>
<line x1="429.1" y1="220.8" x2="429.1" y2="222.1" stroke="#444" stroke-width="0.5" stroke-linecap="butt"/>
<line x1="397.7" y1="210.8" x2="399" y2="210.8" stroke="#444" stroke-width="0.5" stroke-linecap="butt"/>
<line x1="397.7" y1="190.8" x2="399" y2="190.8" stroke="#444" stroke-width="0.5" stroke-linecap="butt"/>
<line x1="411" y1="220.8" x2="411" y2="222.1" stroke="#444" stroke-width="0.5" stroke-linecap="butt"/>
<line x1="431" y1="220.8" x2="431" y2="222.1" stroke="#444" stroke-width="0.5" stroke-linecap="butt"/>
<line x1="397.7" y1="208.9" x2="399" y2="208.9" stroke="#444" stroke-width="0.5" stroke-linecap="butt"/>
<line x1="397.7" y1="188.9" x2="399" y2="188.9" stroke="#444" stroke-width="0.5" stroke-linecap="butt"/>
<line x1="412.6" y1="220.8" x2="412.6" y2="222.1" stroke="#444" stroke-width="0.5" stroke-linecap="butt"/>
<line x1="432.9" y1="220.8" x2="432.9" y2="222.1" stroke="#444" stroke-width="0.5" stroke-linecap="butt"/>
<line x1="397.7" y1="207" x2="399" y2="207" stroke="#444" stroke-width="0.5" stroke-linecap="butt"/>
<line x1="397.7" y1="187" x2="399" y2="187" stroke="#444" stroke-width="0.5" stroke-linecap="butt"/>
<line x1="414.2" y1="220.8" x2="414.2" y2="222.1" stroke="#444" stroke-width="0.5" stroke-linecap="butt"/>
<line x1="434.8" y1="220.8" x2="434.8" y2="222.1" stroke="#444" stroke-width="0.5" stroke-linecap="butt"/>
<line x1="397.7" y1="205.1" x2="399" y2="205.1" stroke="#444" stroke-width="0.5" stroke-linecap="butt"/>
<line x1="397.7" y1="185.1" x2="399" y2="185.1" stroke="#444" stroke-width="0.5" stroke-linecap="butt"/>
<line x1="415.8" y1="220.8" x2="415.8" y2="222.1" stroke="#444" stroke-width="0.5" stroke-linecap="butt"/>
<line x1="436.7" y1="220.8" x2="436.7" y2="222.1" stroke="#444" stroke-width="0.5" stroke-linecap="butt"/>
<line x1="397.7" y1="203.2" x2="399" y2="203.2" stroke="#444" stroke-width="0.5" stroke-linecap="butt"/>
<line x1="397.7" y1="183.2" x2="399" y2="183.2" stroke="#444" stroke-width="0.5" stroke-linecap="butt"/>
<rect x="439.7" y="152.4" width="40.3" height="37.6" fill="none" stroke="#333" stroke-width="0.85"/>
<rect x="439.7" y="192.8" width="40.3" height="24.9" fill="none" stroke="#333" stroke-width="0.85"/>
<rect x="476.9" y="194.5" width="3.9" height="13.2" fill="#fff" stroke="none" stroke-width="1"/>
<text x="483.1" y="174.4" font-size="4.8" font-family='"Liberation Sans", sans-serif' textLength="9.8" lengthAdjust="spacingAndGlyphs" fill="#555">MAIT</text>
<text x="483.8" y="181.4" font-size="4.8" font-family='"Liberation Sans", sans-serif' textLength="8.5" lengthAdjust="spacingAndGlyphs" fill="#555">2.01</text>
<text x="477.3" y="199.3" font-size="4.8" font-family='"Liberation Sans", sans-serif' textLength="16.6" lengthAdjust="spacingAndGlyphs" fill="#555">no-MAIT</text>
<text x="481.3" y="206.3" font-size="4.8" font-family='"Liberation Sans", sans-serif' textLength="8.6" lengthAdjust="spacingAndGlyphs" fill="#555">1.72</text>
<text x="19.6" y="280.9" font-size="11" font-family='"Liberation Serif", serif' font-weight="bold" text-anchor="start" fill="#000" stroke="#000" stroke-width="0.3">B</text>
<text x="12.2" y="342.7" font-size="6.4" font-family='"Liberation Sans", sans-serif' font-weight="bold" text-anchor="middle" fill="#000" transform="rotate(-90 12.2 342.7)" stroke="#000" stroke-width="0.22">MAIT cells</text>
<text x="20.9" y="342.2" font-size="6.4" font-family='"Liberation Sans", sans-serif' font-weight="bold" text-anchor="middle" fill="#000" transform="rotate(-90 20.9 342.2)" letter-spacing="0.3" stroke="#000" stroke-width="0.22">( % of CD3+ cells)</text>
<line x1="50.8" y1="342.28" x2="50.8" y2="384.4" stroke="#4a98fa" stroke-width="1.2" stroke-linecap="butt"/>
<line x1="46.2" y1="342.28" x2="55.4" y2="342.28" stroke="#4a98fa" stroke-width="1.2" stroke-linecap="butt"/>
<line x1="46.2" y1="384.4" x2="55.4" y2="384.4" stroke="#4a98fa" stroke-width="1.2" stroke-linecap="butt"/>
<circle cx="50.4" cy="320.81" r="2.03" fill="#4a98fa" class="m"/>
<circle cx="50.4" cy="362.09" r="2.03" fill="#4a98fa" class="m"/>
<circle cx="45.6" cy="375.23" r="2.03" fill="#4a98fa" class="m"/>
<circle cx="50.4" cy="373.97" r="2.03" fill="#4a98fa" class="m"/>
<circle cx="55.4" cy="376.27" r="2.03" fill="#4a98fa" class="m"/>
<circle cx="50.4" cy="379.81" r="2.03" fill="#4a98fa" class="m"/>
<line x1="82.3" y1="356.46" x2="82.3" y2="378.98" stroke="#4a98fa" stroke-width="1.2" stroke-linecap="butt"/>
<line x1="78.8" y1="356.46" x2="85.8" y2="356.46" stroke="#4a98fa" stroke-width="1.2" stroke-linecap="butt"/>
<line x1="78.8" y1="378.98" x2="85.8" y2="378.98" stroke="#4a98fa" stroke-width="1.2" stroke-linecap="butt"/>
<rect x="77.37" y="336.47" width="3.85" height="3.85" fill="#4a98fa" class="m"/>
<rect x="82.37" y="337.67" width="3.85" height="3.85" fill="#4a98fa" class="m"/>
<rect x="74.87" y="343.97" width="3.85" height="3.85" fill="#4a98fa" class="m"/>
<rect x="87.37" y="346.17" width="3.85" height="3.85" fill="#4a98fa" class="m"/>
<rect x="79.77" y="347.47" width="3.85" height="3.85" fill="#4a98fa" class="m"/>
<rect x="84.67" y="350.27" width="3.85" height="3.85" fill="#4a98fa" class="m"/>
<rect x="74.77" y="352.17" width="3.85" height="3.85" fill="#4a98fa" class="m"/>
<rect x="79.77" y="352.37" width="3.85" height="3.85" fill="#4a98fa" class="m"/>
<rect x="86.77" y="355.37" width="3.85" height="3.85" fill="#4a98fa" class="m"/>
<rect x="72.87" y="356.77" width="3.85" height="3.85" fill="#4a98fa" class="m"/>
<rect x="79.97" y="382.27" width="3.85" height="3.85" fill="#4a98fa" class="m"/>
<rect x="70.35" y="376.41" width="3.85" height="3.85" fill="#4a98fa" class="m"/>
<rect x="73.1" y="377.78" width="3.85" height="3.85" fill="#4a98fa" class="m"/>
<rect x="75.85" y="379.16" width="3.85" height="3.85" fill="#4a98fa" class="m"/>
<rect x="78.6" y="380.53" width="3.85" height="3.85" fill="#4a98fa" class="m"/>
<rect x="81.35" y="380.53" width="3.85" height="3.85" fill="#4a98fa" class="m"/>
<rect x="84.1" y="379.16" width="3.85" height="3.85" fill="#4a98fa" class="m"/>
<rect x="86.85" y="377.78" width="3.85" height="3.85" fill="#4a98fa" class="m"/>
<rect x="89.6" y="376.41" width="3.85" height="3.85" fill="#4a98fa" class="m"/>
<rect x="70.35" y="373.49" width="3.85" height="3.85" fill="#4a98fa" class="m"/>
<rect x="73.1" y="374.86" width="3.85" height="3.85" fill="#4a98fa" class="m"/>
<rect x="75.85" y="376.24" width="3.85" height="3.85" fill="#4a98fa" class="m"/>
<rect x="78.6" y="377.62" width="3.85" height="3.85" fill="#4a98fa" class="m"/>
<rect x="81.35" y="377.62" width="3.85" height="3.85" fill="#4a98fa" class="m"/>
<rect x="84.1" y="376.24" width="3.85" height="3.85" fill="#4a98fa" class="m"/>
<rect x="86.85" y="374.86" width="3.85" height="3.85" fill="#4a98fa" class="m"/>
<rect x="89.6" y="373.49" width="3.85" height="3.85" fill="#4a98fa" class="m"/>
<rect x="71.72" y="371.05" width="3.85" height="3.85" fill="#4a98fa" class="m"/>
<rect x="74.47" y="372.42" width="3.85" height="3.85" fill="#4a98fa" class="m"/>
<rect x="77.22" y="373.8" width="3.85" height="3.85" fill="#4a98fa" class="m"/>
<rect x="79.97" y="375.18" width="3.85" height="3.85" fill="#4a98fa" class="m"/>
<rect x="82.72" y="373.8" width="3.85" height="3.85" fill="#4a98fa" class="m"/>
<rect x="85.47" y="372.42" width="3.85" height="3.85" fill="#4a98fa" class="m"/>
<rect x="88.22" y="371.05" width="3.85" height="3.85" fill="#4a98fa" class="m"/>
<rect x="71.87" y="369.55" width="3.85" height="3.85" fill="#4a98fa" class="m"/>
<rect x="74.57" y="370.17" width="3.85" height="3.85" fill="#4a98fa" class="m"/>
<rect x="77.27" y="370.8" width="3.85" height="3.85" fill="#4a98fa" class="m"/>
<rect x="79.97" y="371.42" width="3.85" height="3.85" fill="#4a98fa" class="m"/>
<rect x="82.67" y="370.8" width="3.85" height="3.85" fill="#4a98fa" class="m"/>
<rect x="85.37" y="370.17" width="3.85" height="3.85" fill="#4a98fa" class="m"/>
<rect x="88.07" y="369.55" width="3.85" height="3.85" fill="#4a98fa" class="m"/>
<rect x="73.22" y="366.94" width="3.85" height="3.85" fill="#4a98fa" class="m"/>
<rect x="75.92" y="367.57" width="3.85" height="3.85" fill="#4a98fa" class="m"/>
<rect x="78.62" y="368.19" width="3.85" height="3.85" fill="#4a98fa" class="m"/>
<rect x="81.32" y="368.19" width="3.85" height="3.85" fill="#4a98fa" class="m"/>
<rect x="84.02" y="367.57" width="3.85" height="3.85" fill="#4a98fa" class="m"/>
<rect x="86.72" y="366.94" width="3.85" height="3.85" fill="#4a98fa" class="m"/>
<rect x="79.97" y="363.92" width="3.85" height="3.85" fill="#4a98fa" class="m"/>
<rect x="74.57" y="360.37" width="3.85" height="3.85" fill="#4a98fa" class="m"/>
<rect x="77.27" y="361" width="3.85" height="3.85" fill="#4a98fa" class="m"/>
<rect x="79.97" y="361.62" width="3.85" height="3.85" fill="#4a98fa" class="m"/>
<rect x="82.67" y="361" width="3.85" height="3.85" fill="#4a98fa" class="m"/>
<rect x="85.37" y="360.37" width="3.85" height="3.85" fill="#4a98fa" class="m"/>
<rect x="73.22" y="357.14" width="3.85" height="3.85" fill="#4a98fa" class="m"/>
<rect x="75.92" y="357.77" width="3.85" height="3.85" fill="#4a98fa" class="m"/>
<rect x="78.62" y="358.39" width="3.85" height="3.85" fill="#4a98fa" class="m"/>
<rect x="81.32" y="358.39" width="3.85" height="3.85" fill="#4a98fa" class="m"/>
<rect x="84.02" y="357.77" width="3.85" height="3.85" fill="#4a98fa" class="m"/>
<rect x="86.72" y="357.14" width="3.85" height="3.85" fill="#4a98fa" class="m"/>
<rect x="75.92" y="355.06" width="3.85" height="3.85" fill="#4a98fa" class="m"/>
<rect x="78.62" y="355.68" width="3.85" height="3.85" fill="#4a98fa" class="m"/>
<rect x="81.32" y="355.68" width="3.85" height="3.85" fill="#4a98fa" class="m"/>
<rect x="84.02" y="355.06" width="3.85" height="3.85" fill="#4a98fa" class="m"/>
<line x1="113" y1="357.5" x2="113" y2="371.9" stroke="#4a98fa" stroke-width="1.2" stroke-linecap="butt"/>
<line x1="108" y1="357.5" x2="118" y2="357.5" stroke="#4a98fa" stroke-width="1.2" stroke-linecap="butt"/>
<line x1="108" y1="371.9" x2="118" y2="371.9" stroke="#4a98fa" stroke-width="1.2" stroke-linecap="butt"/>
<path d="M113 353.39L115.21 357.48L110.79 357.48Z" fill="#4a98fa" class="m"/>
<path d="M116.1 357.19L118.31 361.28L113.89 361.28Z" fill="#4a98fa" class="m"/>
<path d="M109.3 362.39L111.51 366.48L107.09 366.48Z" fill="#4a98fa" class="m"/>
<path d="M112.6 362.19L114.81 366.28L110.39 366.28Z" fill="#4a98fa" class="m"/>
<path d="M116.1 368.19L118.31 372.28L113.89 372.28Z" fill="#4a98fa" class="m"/>
<path d="M113 373.39L115.21 377.48L110.79 377.48Z" fill="#4a98fa" class="m"/>
<line x1="144.9" y1="375" x2="144.9" y2="381.3" stroke="#4a98fa" stroke-width="1.2" stroke-linecap="butt"/>
<line x1="139.9" y1="375" x2="149.9" y2="375" stroke="#4a98fa" stroke-width="1.2" stroke-linecap="butt"/>
<line x1="139.9" y1="381.3" x2="149.9" y2="381.3" stroke="#4a98fa" stroke-width="1.2" stroke-linecap="butt"/>
<path d="M136.8 375.24L138.94 371.28L134.66 371.28Z" fill="#4a98fa" class="m"/>
<path d="M141.8 377.74L143.94 373.78L139.66 373.78Z" fill="#4a98fa" class="m"/>
<path d="M146.1 377.14L148.24 373.18L143.96 373.18Z" fill="#4a98fa" class="m"/>
<path d="M148.8 377.94L150.94 373.98L146.66 373.98Z" fill="#4a98fa" class="m"/>
<path d="M136.8 381.94L138.94 377.98L134.66 377.98Z" fill="#4a98fa" class="m"/>
<path d="M141.1 383.34L143.24 379.38L138.96 379.38Z" fill="#4a98fa" class="m"/>
<path d="M147.4 382.74L149.54 378.78L145.26 378.78Z" fill="#4a98fa" class="m"/>
<path d="M151.8 381.94L153.94 377.98L149.66 377.98Z" fill="#4a98fa" class="m"/>
<path d="M141.8 384.74L143.94 380.78L139.66 380.78Z" fill="#4a98fa" class="m"/>
<path d="M72.6 375.6Q77 377.6 81.8 379.2Q86.5 377.6 90.9 375.9" fill="none" stroke="#fff" stroke-width="0.75" stroke-opacity="0.8"/>
<path d="M73.6 371.4Q78 373 81.8 374.4Q85.6 373 90 371.6" fill="none" stroke="#fff" stroke-width="0.5" stroke-opacity="0.45"/>
<circle cx="80.1" cy="370" r="0.7" fill="#fff" fill-opacity="0.85"/><circle cx="83.8" cy="370" r="0.7" fill="#fff" fill-opacity="0.85"/>
<line x1="40.4" y1="364.59" x2="61.2" y2="364.59" stroke="#000" stroke-width="1.45" stroke-linecap="butt"/>
<line x1="71.9" y1="367.72" x2="92.7" y2="367.72" stroke="#000" stroke-width="1.45" stroke-linecap="butt"/>
<line x1="102.8" y1="364.75" x2="123.6" y2="364.75" stroke="#000" stroke-width="1.45" stroke-linecap="butt"/>
<line x1="134" y1="378.1" x2="154.9" y2="378.1" stroke="#000" stroke-width="1.45" stroke-linecap="butt"/>
<line x1="34.6" y1="300.5" x2="34.6" y2="384.9" stroke="#000" stroke-width="1.3" stroke-linecap="butt"/>
<line x1="31.8" y1="301" x2="34.6" y2="301" stroke="#000" stroke-width="1.1" stroke-linecap="butt"/>
<text x="30.5" y="303.12" font-size="5.9" font-family='"Liberation Sans", sans-serif' font-weight="bold" text-anchor="end" fill="#000" stroke="#000" stroke-width="0.22">20</text>
<line x1="31.8" y1="321.85" x2="34.6" y2="321.85" stroke="#000" stroke-width="1.1" stroke-linecap="butt"/>
<text x="30.5" y="323.97" font-size="5.9" font-family='"Liberation Sans", sans-serif' font-weight="bold" text-anchor="end" fill="#000" stroke="#000" stroke-width="0.22">15</text>
<line x1="31.8" y1="342.7" x2="34.6" y2="342.7" stroke="#000" stroke-width="1.1" stroke-linecap="butt"/>
<text x="30.5" y="344.82" font-size="5.9" font-family='"Liberation Sans", sans-serif' font-weight="bold" text-anchor="end" fill="#000" stroke="#000" stroke-width="0.22">10</text>
<line x1="31.8" y1="363.55" x2="34.6" y2="363.55" stroke="#000" stroke-width="1.1" stroke-linecap="butt"/>
<text x="30.5" y="365.67" font-size="5.9" font-family='"Liberation Sans", sans-serif' font-weight="bold" text-anchor="end" fill="#000" stroke="#000" stroke-width="0.22">5</text>
<line x1="31.8" y1="384.4" x2="34.6" y2="384.4" stroke="#000" stroke-width="1.1" stroke-linecap="butt"/>
<text x="30.5" y="386.52" font-size="5.9" font-family='"Liberation Sans", sans-serif' font-weight="bold" text-anchor="end" fill="#000" stroke="#000" stroke-width="0.22">0</text>
<line x1="34.1" y1="384.4" x2="159.8" y2="384.4" stroke="#000" stroke-width="1.3" stroke-linecap="butt"/>
<line x1="50.8" y1="384.4" x2="50.8" y2="386.8" stroke="#000" stroke-width="1.1" stroke-linecap="butt"/>
<line x1="82.3" y1="384.4" x2="82.3" y2="386.8" stroke="#000" stroke-width="1.1" stroke-linecap="butt"/>
<line x1="113.4" y1="384.4" x2="113.4" y2="386.8" stroke="#000" stroke-width="1.1" stroke-linecap="butt"/>
<line x1="144.4" y1="384.4" x2="144.4" y2="386.8" stroke="#000" stroke-width="1.1" stroke-linecap="butt"/>
<line x1="45.8" y1="384.7" x2="55.8" y2="384.7" stroke="#4a98fa" stroke-width="1.1" stroke-linecap="butt"/>
<line x1="50.8" y1="380" x2="50.8" y2="384.7" stroke="#4a98fa" stroke-width="1" stroke-linecap="butt"/>
<text x="53" y="391.2" font-size="6.6" font-family='"Liberation Sans", sans-serif' font-weight="bold" text-anchor="end" fill="#000" transform="rotate(-45 53 391.2)" stroke="#000" stroke-width="0.22">Healthy</text>
<text x="84.5" y="391.2" font-size="6.6" font-family='"Liberation Sans", sans-serif' font-weight="bold" text-anchor="end" fill="#000" transform="rotate(-45 84.5 391.2)" stroke="#000" stroke-width="0.22">No GVHD</text>
<text x="115.6" y="391.2" font-size="6.6" font-family='"Liberation Sans", sans-serif' font-weight="bold" text-anchor="end" fill="#000" transform="rotate(-45 115.6 391.2)" stroke="#000" stroke-width="0.22">Skin GVHD</text>
<text x="146.6" y="391.2" font-size="6.6" font-family='"Liberation Sans", sans-serif' font-weight="bold" text-anchor="end" fill="#000" transform="rotate(-45 146.6 391.2)" stroke="#000" stroke-width="0.22">Gut GVHD</text>
<line x1="82" y1="305" x2="148.4" y2="305" stroke="#000" stroke-width="1.5" stroke-linecap="butt"/>
<line x1="82.5" y1="302" x2="82.5" y2="308.1" stroke="#000" stroke-width="1.3" stroke-linecap="butt"/>
<line x1="147.9" y1="302" x2="147.9" y2="308.1" stroke="#000" stroke-width="1.3" stroke-linecap="butt"/>
<text x="112.2" y="304.9" font-size="7.6" font-family='"Liberation Sans", sans-serif' font-weight="bold" text-anchor="middle" fill="#000" stroke-width="0.35" stroke="#000">*</text>
<text x="191.6" y="283.8" font-size="11" font-family='"Liberation Serif", serif' font-weight="bold" text-anchor="start" fill="#000" stroke="#000" stroke-width="0.3">C</text>
<text x="183.4" y="343.4" font-size="5.6" font-family='"Liberation Sans", sans-serif' font-weight="bold" text-anchor="middle" fill="#000" transform="rotate(-90 183.4 343.4)" letter-spacing="0.75" stroke="#000" stroke-width="0.22">MAIT cells</text>
<text x="192.4" y="343" font-size="5.6" font-family='"Liberation Sans", sans-serif' font-weight="bold" text-anchor="middle" fill="#000" transform="rotate(-90 192.4 343)" letter-spacing="0.92" stroke="#000" stroke-width="0.22">( % of CD3+ cells)</text>
<line x1="223.6" y1="332.9" x2="223.6" y2="386.4" stroke="#4a98fa" stroke-width="1.4" stroke-linecap="butt"/>
<line x1="218" y1="332.9" x2="229.2" y2="332.9" stroke="#4a98fa" stroke-width="1.4" stroke-linecap="butt"/>
<line x1="218" y1="386.4" x2="229.2" y2="386.4" stroke="#4a98fa" stroke-width="1.4" stroke-linecap="butt"/>
<circle cx="223.6" cy="330.5" r="1.93" fill="#4a98fa" class="m"/>
<circle cx="223.6" cy="365.2" r="1.93" fill="#4a98fa" class="m"/>
<circle cx="223.6" cy="383.1" r="1.93" fill="#4a98fa" class="m"/>
<line x1="257.2" y1="347" x2="257.2" y2="381.3" stroke="#4a98fa" stroke-width="1.3" stroke-linecap="butt"/>
<line x1="254" y1="347" x2="260.4" y2="347" stroke="#4a98fa" stroke-width="1.3" stroke-linecap="butt"/>
<line x1="254" y1="381.3" x2="260.4" y2="381.3" stroke="#4a98fa" stroke-width="1.3" stroke-linecap="butt"/>
<rect x="255.49" y="318.39" width="3.42" height="3.42" fill="#4a98fa" class="m"/>
<rect x="261.19" y="334.29" width="3.42" height="3.42" fill="#4a98fa" class="m"/>
<rect x="250.09" y="336.59" width="3.42" height="3.42" fill="#4a98fa" class="m"/>
<rect x="255.49" y="337.19" width="3.42" height="3.42" fill="#4a98fa" class="m"/>
<rect x="263.89" y="338.19" width="3.42" height="3.42" fill="#4a98fa" class="m"/>
<rect x="246.99" y="339.29" width="3.42" height="3.42" fill="#4a98fa" class="m"/>
<rect x="258.19" y="339.89" width="3.42" height="3.42" fill="#4a98fa" class="m"/>
<rect x="252.79" y="343.29" width="3.42" height="3.42" fill="#4a98fa" class="m"/>
<rect x="264.49" y="344.89" width="3.42" height="3.42" fill="#4a98fa" class="m"/>
<rect x="246.59" y="346.29" width="3.42" height="3.42" fill="#4a98fa" class="m"/>
<rect x="259.79" y="346.69" width="3.42" height="3.42" fill="#4a98fa" class="m"/>
<rect x="251.09" y="348.29" width="3.42" height="3.42" fill="#4a98fa" class="m"/>
<rect x="255.79" y="348.29" width="3.42" height="3.42" fill="#4a98fa" class="m"/>
<rect x="258.19" y="351.59" width="3.42" height="3.42" fill="#4a98fa" class="m"/>
<rect x="253.09" y="354.99" width="3.42" height="3.42" fill="#4a98fa" class="m"/>
<rect x="247.39" y="360.49" width="3.42" height="3.42" fill="#4a98fa" class="m"/>
<rect x="263.89" y="362.79" width="3.42" height="3.42" fill="#4a98fa" class="m"/>
<rect x="252.79" y="365.49" width="3.42" height="3.42" fill="#4a98fa" class="m"/>
<rect x="258.19" y="365.79" width="3.42" height="3.42" fill="#4a98fa" class="m"/>
<rect x="246.29" y="367.49" width="3.42" height="3.42" fill="#4a98fa" class="m"/>
<rect x="264.49" y="367.49" width="3.42" height="3.42" fill="#4a98fa" class="m"/>
<rect x="246.99" y="378.29" width="3.42" height="3.42" fill="#4a98fa" class="m"/>
<rect x="263.89" y="380.09" width="3.42" height="3.42" fill="#4a98fa" class="m"/>
<rect x="246.19" y="370.35" width="3.42" height="3.42" fill="#4a98fa" class="m"/>
<rect x="249.29" y="370.35" width="3.42" height="3.42" fill="#4a98fa" class="m"/>
<rect x="252.39" y="370.35" width="3.42" height="3.42" fill="#4a98fa" class="m"/>
<rect x="255.49" y="370.35" width="3.42" height="3.42" fill="#4a98fa" class="m"/>
<rect x="258.59" y="370.35" width="3.42" height="3.42" fill="#4a98fa" class="m"/>
<rect x="261.69" y="370.35" width="3.42" height="3.42" fill="#4a98fa" class="m"/>
<rect x="264.79" y="370.35" width="3.42" height="3.42" fill="#4a98fa" class="m"/>
<rect x="247.74" y="372.81" width="3.42" height="3.42" fill="#4a98fa" class="m"/>
<rect x="250.84" y="372.81" width="3.42" height="3.42" fill="#4a98fa" class="m"/>
<rect x="253.94" y="372.81" width="3.42" height="3.42" fill="#4a98fa" class="m"/>
<rect x="257.04" y="372.81" width="3.42" height="3.42" fill="#4a98fa" class="m"/>
<rect x="260.14" y="372.81" width="3.42" height="3.42" fill="#4a98fa" class="m"/>
<rect x="263.24" y="372.81" width="3.42" height="3.42" fill="#4a98fa" class="m"/>
<rect x="249.29" y="375.05" width="3.42" height="3.42" fill="#4a98fa" class="m"/>
<rect x="252.39" y="375.05" width="3.42" height="3.42" fill="#4a98fa" class="m"/>
<rect x="255.49" y="375.05" width="3.42" height="3.42" fill="#4a98fa" class="m"/>
<rect x="258.59" y="375.05" width="3.42" height="3.42" fill="#4a98fa" class="m"/>
<rect x="261.69" y="375.05" width="3.42" height="3.42" fill="#4a98fa" class="m"/>
<rect x="252.39" y="377.96" width="3.42" height="3.42" fill="#4a98fa" class="m"/>
<rect x="255.49" y="377.96" width="3.42" height="3.42" fill="#4a98fa" class="m"/>
<rect x="258.59" y="377.96" width="3.42" height="3.42" fill="#4a98fa" class="m"/>
<rect x="246.79" y="380.82" width="3.42" height="3.42" fill="#4a98fa" class="m"/>
<rect x="249.69" y="382.03" width="3.42" height="3.42" fill="#4a98fa" class="m"/>
<rect x="252.59" y="383.24" width="3.42" height="3.42" fill="#4a98fa" class="m"/>
<rect x="255.49" y="384.45" width="3.42" height="3.42" fill="#4a98fa" class="m"/>
<rect x="258.39" y="383.24" width="3.42" height="3.42" fill="#4a98fa" class="m"/>
<rect x="261.29" y="382.03" width="3.42" height="3.42" fill="#4a98fa" class="m"/>
<rect x="264.19" y="380.82" width="3.42" height="3.42" fill="#4a98fa" class="m"/>
<line x1="290.9" y1="336.8" x2="290.9" y2="367.8" stroke="#4a98fa" stroke-width="1.4" stroke-linecap="butt"/>
<line x1="285.4" y1="336.8" x2="296.4" y2="336.8" stroke="#4a98fa" stroke-width="1.4" stroke-linecap="butt"/>
<line x1="285.4" y1="367.8" x2="296.4" y2="367.8" stroke="#4a98fa" stroke-width="1.4" stroke-linecap="butt"/>
<path d="M294 333.06L296.14 337.02L291.86 337.02Z" fill="#4a98fa" class="m"/>
<path d="M288.2 335.36L290.34 339.32L286.06 339.32Z" fill="#4a98fa" class="m"/>
<path d="M288.2 346.76L290.34 350.72L286.06 350.72Z" fill="#4a98fa" class="m"/>
<path d="M293.6 349.46L295.74 353.42L291.46 353.42Z" fill="#4a98fa" class="m"/>
<path d="M294 367.96L296.14 371.92L291.86 371.92Z" fill="#4a98fa" class="m"/>
<path d="M288.4 369.96L290.54 373.92L286.26 373.92Z" fill="#4a98fa" class="m"/>
<line x1="324.5" y1="356.3" x2="324.5" y2="382.3" stroke="#4a98fa" stroke-width="1.4" stroke-linecap="butt"/>
<line x1="319" y1="356.3" x2="330" y2="356.3" stroke="#4a98fa" stroke-width="1.4" stroke-linecap="butt"/>
<line x1="319" y1="382.3" x2="330" y2="382.3" stroke="#4a98fa" stroke-width="1.4" stroke-linecap="butt"/>
<path d="M324.5 351.04L326.64 347.08L322.36 347.08Z" fill="#4a98fa" class="m"/>
<path d="M321.8 368.54L323.94 364.58L319.66 364.58Z" fill="#4a98fa" class="m"/>
<path d="M327.2 372.24L329.34 368.28L325.06 368.28Z" fill="#4a98fa" class="m"/>
<path d="M327.5 380.04L329.64 376.08L325.36 376.08Z" fill="#4a98fa" class="m"/>
<path d="M321.8 385.44L323.94 381.48L319.66 381.48Z" fill="#4a98fa" class="m"/>
<line x1="212.7" y1="359.5" x2="234.9" y2="359.5" stroke="#000" stroke-width="1.45" stroke-linecap="butt"/>
<line x1="246" y1="364.1" x2="268.5" y2="364.1" stroke="#000" stroke-width="1.45" stroke-linecap="butt"/>
<line x1="279.8" y1="352.3" x2="302" y2="352.3" stroke="#000" stroke-width="1.45" stroke-linecap="butt"/>
<line x1="313.1" y1="369.5" x2="331.6" y2="369.5" stroke="#000" stroke-width="1.45" stroke-linecap="butt"/>
<line x1="207" y1="297.5" x2="207" y2="388" stroke="#000" stroke-width="1.4" stroke-linecap="butt"/>
<line x1="204.6" y1="298" x2="207" y2="298" stroke="#000" stroke-width="1.1" stroke-linecap="butt"/>
<text x="202.6" y="299.76" font-size="4.9" font-family='"Liberation Sans", sans-serif' font-weight="bold" text-anchor="end" fill="#000" letter-spacing="0.4" stroke="#000" stroke-width="0.22">20</text>
<line x1="204.6" y1="320.38" x2="207" y2="320.38" stroke="#000" stroke-width="1.1" stroke-linecap="butt"/>
<text x="202.6" y="322.14" font-size="4.9" font-family='"Liberation Sans", sans-serif' font-weight="bold" text-anchor="end" fill="#000" letter-spacing="0.4" stroke="#000" stroke-width="0.22">15</text>
<line x1="204.6" y1="342.75" x2="207" y2="342.75" stroke="#000" stroke-width="1.1" stroke-linecap="butt"/>
<text x="202.6" y="344.51" font-size="4.9" font-family='"Liberation Sans", sans-serif' font-weight="bold" text-anchor="end" fill="#000" letter-spacing="0.4" stroke="#000" stroke-width="0.22">10</text>
<line x1="204.6" y1="365.12" x2="207" y2="365.12" stroke="#000" stroke-width="1.1" stroke-linecap="butt"/>
<text x="202.6" y="366.89" font-size="4.9" font-family='"Liberation Sans", sans-serif' font-weight="bold" text-anchor="end" fill="#000" letter-spacing="0.4" stroke="#000" stroke-width="0.22">5</text>
<line x1="204.6" y1="387.5" x2="207" y2="387.5" stroke="#000" stroke-width="1.1" stroke-linecap="butt"/>
<text x="202.6" y="389.26" font-size="4.9" font-family='"Liberation Sans", sans-serif' font-weight="bold" text-anchor="end" fill="#000" letter-spacing="0.4" stroke="#000" stroke-width="0.22">0</text>
<line x1="206.5" y1="387.5" x2="331.6" y2="387.5" stroke="#000" stroke-width="1.4" stroke-linecap="butt"/>
<line x1="223.6" y1="387.5" x2="223.6" y2="389.7" stroke="#000" stroke-width="1.1" stroke-linecap="butt"/>
<line x1="257.2" y1="387.5" x2="257.2" y2="389.7" stroke="#000" stroke-width="1.1" stroke-linecap="butt"/>
<line x1="290.9" y1="387.5" x2="290.9" y2="389.7" stroke="#000" stroke-width="1.1" stroke-linecap="butt"/>
<line x1="324.5" y1="387.5" x2="324.5" y2="389.7" stroke="#000" stroke-width="1.1" stroke-linecap="butt"/>
<text x="225.8" y="394" font-size="5.1" font-family='"Liberation Sans", sans-serif' font-weight="bold" text-anchor="end" fill="#000" transform="rotate(-45 225.8 394)" letter-spacing="0.9" stroke="#000" stroke-width="0.22">Healthy</text>
<text x="259.4" y="394" font-size="5.1" font-family='"Liberation Sans", sans-serif' font-weight="bold" text-anchor="end" fill="#000" transform="rotate(-45 259.4 394)" letter-spacing="0.9" stroke="#000" stroke-width="0.22">No GVHD</text>
<text x="293.1" y="394" font-size="5.1" font-family='"Liberation Sans", sans-serif' font-weight="bold" text-anchor="end" fill="#000" transform="rotate(-45 293.1 394)" letter-spacing="0.9" stroke="#000" stroke-width="0.22">Skin GVHD</text>
<text x="326.7" y="394" font-size="5.1" font-family='"Liberation Sans", sans-serif' font-weight="bold" text-anchor="end" fill="#000" transform="rotate(-45 326.7 394)" letter-spacing="0.9" stroke="#000" stroke-width="0.22">Gut GVHD</text>
<text x="359" y="284" font-size="11" font-family='"Liberation Serif", serif' font-weight="bold" text-anchor="start" fill="#000" stroke="#000" stroke-width="0.3">D</text>
<text x="349.6" y="343.4" font-size="6.85" font-family='"Liberation Sans", sans-serif' font-weight="bold" text-anchor="middle" fill="#000" transform="rotate(-90 349.6 343.4)" stroke="#000" stroke-width="0.22">MAIT cells</text>
<text x="359" y="342.9" font-size="6.85" font-family='"Liberation Sans", sans-serif' font-weight="bold" text-anchor="middle" fill="#000" transform="rotate(-90 359 342.9)" letter-spacing="0.3" stroke="#000" stroke-width="0.22">(10^8/L)</text>
<line x1="397.6" y1="342.9" x2="397.6" y2="371" stroke="#4a98fa" stroke-width="1.2" stroke-linecap="butt"/>
<line x1="390.3" y1="342.9" x2="404.9" y2="342.9" stroke="#4a98fa" stroke-width="1.2" stroke-linecap="butt"/>
<line x1="390.3" y1="371" x2="404.9" y2="371" stroke="#4a98fa" stroke-width="1.2" stroke-linecap="butt"/>
<circle cx="395.2" cy="309.3" r="2.03" fill="#4a98fa" class="m"/>
<circle cx="400.6" cy="307.9" r="2.03" fill="#4a98fa" class="m"/>
<circle cx="397.9" cy="323.8" r="2.03" fill="#4a98fa" class="m"/>
<circle cx="397.6" cy="341.2" r="2.03" fill="#4a98fa" class="m"/>
<circle cx="387.1" cy="347.7" r="2.03" fill="#4a98fa" class="m"/>
<circle cx="408.4" cy="346.9" r="2.03" fill="#4a98fa" class="m"/>
<circle cx="392.2" cy="349.2" r="2.03" fill="#4a98fa" class="m"/>
<circle cx="403" cy="349.2" r="2.03" fill="#4a98fa" class="m"/>
<circle cx="397.6" cy="350.8" r="2.03" fill="#4a98fa" class="m"/>
<circle cx="387.1" cy="355.4" r="2.03" fill="#4a98fa" class="m"/>
<circle cx="392.2" cy="355.4" r="2.03" fill="#4a98fa" class="m"/>
<circle cx="403" cy="355.4" r="2.03" fill="#4a98fa" class="m"/>
<circle cx="408.4" cy="355" r="2.03" fill="#4a98fa" class="m"/>
<circle cx="397.6" cy="355.6" r="2.03" fill="#4a98fa" class="m"/>
<circle cx="385.4" cy="358.9" r="2.03" fill="#4a98fa" class="m"/>
<circle cx="384.6" cy="364.4" r="2.03" fill="#4a98fa" class="m"/>
<circle cx="387.88" cy="359.84" r="2.03" fill="#4a98fa" class="m"/>
<circle cx="387.24" cy="365.3" r="2.03" fill="#4a98fa" class="m"/>
<circle cx="390.36" cy="360.78" r="2.03" fill="#4a98fa" class="m"/>
<circle cx="389.88" cy="366.2" r="2.03" fill="#4a98fa" class="m"/>
<circle cx="392.84" cy="361.72" r="2.03" fill="#4a98fa" class="m"/>
<circle cx="392.52" cy="367.1" r="2.03" fill="#4a98fa" class="m"/>
<circle cx="395.32" cy="362.66" r="2.03" fill="#4a98fa" class="m"/>
<circle cx="395.16" cy="368" r="2.03" fill="#4a98fa" class="m"/>
<circle cx="397.8" cy="363.6" r="2.03" fill="#4a98fa" class="m"/>
<circle cx="397.8" cy="368.9" r="2.03" fill="#4a98fa" class="m"/>
<circle cx="400.28" cy="362.66" r="2.03" fill="#4a98fa" class="m"/>
<circle cx="400.44" cy="368" r="2.03" fill="#4a98fa" class="m"/>
<circle cx="402.76" cy="361.72" r="2.03" fill="#4a98fa" class="m"/>
<circle cx="403.08" cy="367.1" r="2.03" fill="#4a98fa" class="m"/>
<circle cx="405.24" cy="360.78" r="2.03" fill="#4a98fa" class="m"/>
<circle cx="405.72" cy="366.2" r="2.03" fill="#4a98fa" class="m"/>
<circle cx="407.72" cy="359.84" r="2.03" fill="#4a98fa" class="m"/>
<circle cx="408.36" cy="365.3" r="2.03" fill="#4a98fa" class="m"/>
<circle cx="410.2" cy="358.9" r="2.03" fill="#4a98fa" class="m"/>
<circle cx="411" cy="364.4" r="2.03" fill="#4a98fa" class="m"/>
<circle cx="394.4" cy="359.6" r="2.03" fill="#4a98fa" class="m"/>
<circle cx="397.8" cy="359.4" r="2.03" fill="#4a98fa" class="m"/>
<circle cx="401.2" cy="359.6" r="2.03" fill="#4a98fa" class="m"/>
<circle cx="396" cy="361.4" r="2.03" fill="#4a98fa" class="m"/>
<circle cx="399.6" cy="361.4" r="2.03" fill="#4a98fa" class="m"/>
<line x1="441.8" y1="355.6" x2="441.8" y2="364.5" stroke="#4a98fa" stroke-width="1.2" stroke-linecap="butt"/>
<line x1="435.5" y1="355.6" x2="448.1" y2="355.6" stroke="#4a98fa" stroke-width="1.2" stroke-linecap="butt"/>
<line x1="435.5" y1="364.5" x2="448.1" y2="364.5" stroke="#4a98fa" stroke-width="1.2" stroke-linecap="butt"/>
<rect x="439.93" y="349.63" width="3.75" height="3.75" fill="#4a98fa" class="m"/>
<rect x="434.53" y="357.73" width="3.75" height="3.75" fill="#4a98fa" class="m"/>
<rect x="439.93" y="358.53" width="3.75" height="3.75" fill="#4a98fa" class="m"/>
<rect x="445.33" y="357.73" width="3.75" height="3.75" fill="#4a98fa" class="m"/>
<rect x="435.63" y="361.83" width="3.75" height="3.75" fill="#4a98fa" class="m"/>
<rect x="443.63" y="361.23" width="3.75" height="3.75" fill="#4a98fa" class="m"/>
<rect x="437.73" y="365.03" width="3.75" height="3.75" fill="#4a98fa" class="m"/>
<line x1="486.2" y1="364.4" x2="486.2" y2="367.8" stroke="#4a98fa" stroke-width="1.2" stroke-linecap="butt"/>
<line x1="481.2" y1="364.4" x2="491.2" y2="364.4" stroke="#4a98fa" stroke-width="1.2" stroke-linecap="butt"/>
<line x1="481.2" y1="367.8" x2="491.2" y2="367.8" stroke="#4a98fa" stroke-width="1.2" stroke-linecap="butt"/>
<path d="M486.2 360.89L488.21 364.61L484.19 364.61Z" fill="#4a98fa" class="m"/>
<path d="M475.4 363.79L477.41 367.51L473.39 367.51Z" fill="#4a98fa" class="m"/>
<path d="M479.6 363.19L481.61 366.91L477.59 366.91Z" fill="#4a98fa" class="m"/>
<path d="M483.6 364.19L485.61 367.91L481.59 367.91Z" fill="#4a98fa" class="m"/>
<path d="M488.6 363.39L490.61 367.11L486.59 367.11Z" fill="#4a98fa" class="m"/>
<path d="M492.8 363.99L494.81 367.71L490.79 367.71Z" fill="#4a98fa" class="m"/>
<path d="M496.8 363.59L498.81 367.31L494.79 367.31Z" fill="#4a98fa" class="m"/>
<path d="M478 365.39L480.01 369.11L475.99 369.11Z" fill="#4a98fa" class="m"/>
<path d="M482.4 365.79L484.41 369.51L480.39 369.51Z" fill="#4a98fa" class="m"/>
<path d="M486.6 365.59L488.61 369.31L484.59 369.31Z" fill="#4a98fa" class="m"/>
<path d="M490.8 365.69L492.81 369.41L488.79 369.41Z" fill="#4a98fa" class="m"/>
<path d="M494.6 365.29L496.61 369.01L492.59 369.01Z" fill="#4a98fa" class="m"/>
<line x1="383" y1="357.2" x2="412.2" y2="357.2" stroke="#000" stroke-width="1.45" stroke-linecap="butt"/>
<line x1="427.5" y1="360.2" x2="456.6" y2="360.2" stroke="#000" stroke-width="1.45" stroke-linecap="butt"/>
<line x1="471.4" y1="366.1" x2="501" y2="366.1" stroke="#000" stroke-width="1.45" stroke-linecap="butt"/>
<line x1="375.6" y1="298.1" x2="375.6" y2="387.7" stroke="#000" stroke-width="1.3" stroke-linecap="butt"/>
<line x1="373.1" y1="298.6" x2="375.6" y2="298.6" stroke="#000" stroke-width="1.1" stroke-linecap="butt"/>
<text x="370.5" y="300.9" font-size="6.4" font-family='"Liberation Sans", sans-serif' font-weight="bold" text-anchor="end" fill="#000" stroke="#000" stroke-width="0.22">40</text>
<line x1="373.1" y1="316.32" x2="375.6" y2="316.32" stroke="#000" stroke-width="1.1" stroke-linecap="butt"/>
<text x="370.5" y="318.62" font-size="6.4" font-family='"Liberation Sans", sans-serif' font-weight="bold" text-anchor="end" fill="#000" stroke="#000" stroke-width="0.22">30</text>
<line x1="373.1" y1="334.04" x2="375.6" y2="334.04" stroke="#000" stroke-width="1.1" stroke-linecap="butt"/>
<text x="370.5" y="336.34" font-size="6.4" font-family='"Liberation Sans", sans-serif' font-weight="bold" text-anchor="end" fill="#000" stroke="#000" stroke-width="0.22">20</text>
<line x1="373.1" y1="351.76" x2="375.6" y2="351.76" stroke="#000" stroke-width="1.1" stroke-linecap="butt"/>
<text x="370.5" y="354.06" font-size="6.4" font-family='"Liberation Sans", sans-serif' font-weight="bold" text-anchor="end" fill="#000" stroke="#000" stroke-width="0.22">10</text>
<line x1="373.1" y1="369.48" x2="375.6" y2="369.48" stroke="#000" stroke-width="1.1" stroke-linecap="butt"/>
<text x="370.5" y="371.78" font-size="6.4" font-family='"Liberation Sans", sans-serif' font-weight="bold" text-anchor="end" fill="#000" stroke="#000" stroke-width="0.22">0</text>
<line x1="373.1" y1="387.2" x2="375.6" y2="387.2" stroke="#000" stroke-width="1.1" stroke-linecap="butt"/>
<text x="370.5" y="389.5" font-size="6.4" font-family='"Liberation Sans", sans-serif' font-weight="bold" text-anchor="end" fill="#000" stroke="#000" stroke-width="0.22">-10</text>
<line x1="375.1" y1="387.2" x2="508.8" y2="387.2" stroke="#000" stroke-width="1.3" stroke-linecap="butt"/>
<line x1="397.9" y1="387.2" x2="397.9" y2="389.6" stroke="#000" stroke-width="1.1" stroke-linecap="butt"/>
<line x1="441.8" y1="387.2" x2="441.8" y2="389.6" stroke="#000" stroke-width="1.1" stroke-linecap="butt"/>
<line x1="486.2" y1="387.2" x2="486.2" y2="389.6" stroke="#000" stroke-width="1.1" stroke-linecap="butt"/>
<text x="400.1" y="394.8" font-size="7" font-family='"Liberation Sans", sans-serif' font-weight="bold" text-anchor="end" fill="#000" transform="rotate(-45 400.1 394.8)" stroke="#000" stroke-width="0.22">No GVHD</text>
<text x="444" y="394.8" font-size="7" font-family='"Liberation Sans", sans-serif' font-weight="bold" text-anchor="end" fill="#000" transform="rotate(-45 444 394.8)" stroke="#000" stroke-width="0.22">Skin GVHD</text>
<text x="488.4" y="394.8" font-size="7" font-family='"Liberation Sans", sans-serif' font-weight="bold" text-anchor="end" fill="#000" transform="rotate(-45 488.4 394.8)" stroke="#000" stroke-width="0.22">Gut GVHD</text>
<text x="442.1" y="430.6" font-size="7.6" font-family='"Liberation Sans", sans-serif' font-weight="bold" text-anchor="middle" fill="#000" stroke="#000" stroke-width="0.22">Graft</text>
<line x1="404.7" y1="289.2" x2="483.3" y2="289.2" stroke="#222" stroke-width="1" stroke-linecap="butt"/>
<line x1="404.7" y1="285.8" x2="404.7" y2="292.7" stroke="#222" stroke-width="1" stroke-linecap="butt"/>
<line x1="483.3" y1="285.8" x2="483.3" y2="292.7" stroke="#222" stroke-width="1" stroke-linecap="butt"/>
<text x="443.1" y="287.6" font-size="7" font-family='"Liberation Sans", sans-serif' font-weight="bold" text-anchor="middle" fill="#000" stroke-width="0.28" stroke="#000">**</text>
<text x="63.6" y="434.4" font-size="11" font-family='"Liberation Serif", serif' font-weight="bold" text-anchor="start" fill="#000" stroke="#000" stroke-width="0.3">E</text>
<text x="47" y="520.9" font-size="7.8" font-family='"Liberation Serif", serif' font-weight="bold" text-anchor="start" fill="#000" transform="rotate(-90 47 520.9)" stroke="#000" stroke-width="0.3">Non-</text>
<text x="47" y="466" font-size="6.85" font-family='"Liberation Sans", sans-serif' font-weight="bold" text-anchor="end" fill="#000" transform="rotate(-90 47 466)" stroke="#000" stroke-width="0.22">MAIT cells</text>
<text x="56" y="488.6" font-size="6.85" font-family='"Liberation Sans", sans-serif' font-weight="bold" text-anchor="middle" fill="#000" transform="rotate(-90 56 488.6)" letter-spacing="0.2" stroke="#000" stroke-width="0.22">(% of CD3+ cells)</text>
<circle cx="82" cy="507.5" r="2.09" fill="#4a98fa" class="m"/>
<circle cx="80" cy="519.25" r="2.09" fill="#4a98fa" class="m"/>
<circle cx="84.25" cy="519.25" r="2.09" fill="#4a98fa" class="m"/>
<circle cx="95.75" cy="481.75" r="2.09" fill="#4a98fa" class="m"/>
<circle cx="94.1" cy="499.3" r="2.09" fill="#4a98fa" class="m"/>
<circle cx="97.6" cy="499.3" r="2.09" fill="#4a98fa" class="m"/>
<circle cx="95.8" cy="501.4" r="2.09" fill="#4a98fa" class="m"/>
<circle cx="93.9" cy="509.6" r="2.09" fill="#4a98fa" class="m"/>
<circle cx="97.6" cy="509.6" r="2.09" fill="#4a98fa" class="m"/>
<circle cx="95.75" cy="511.4" r="2.09" fill="#4a98fa" class="m"/>
<circle cx="93" cy="513.4" r="2.09" fill="#4a98fa" class="m"/>
<circle cx="98.5" cy="513.4" r="2.09" fill="#4a98fa" class="m"/>
<circle cx="95.75" cy="514.8" r="2.09" fill="#4a98fa" class="m"/>
<circle cx="93.4" cy="516.6" r="2.09" fill="#4a98fa" class="m"/>
<circle cx="98.1" cy="516.6" r="2.09" fill="#4a98fa" class="m"/>
<circle cx="95.75" cy="517.6" r="2.09" fill="#4a98fa" class="m"/>
<circle cx="94" cy="519.6" r="2.09" fill="#4a98fa" class="m"/>
<circle cx="97.5" cy="519.6" r="2.09" fill="#4a98fa" class="m"/>
<circle cx="95.75" cy="521.2" r="2.09" fill="#4a98fa" class="m"/>
<circle cx="94.6" cy="523" r="2.09" fill="#4a98fa" class="m"/>
<circle cx="96.9" cy="523" r="2.09" fill="#4a98fa" class="m"/>
<circle cx="95.75" cy="524.8" r="2.09" fill="#4a98fa" class="m"/>
<circle cx="110" cy="502" r="2.09" fill="#4a98fa" class="m"/>
<circle cx="107.5" cy="511.25" r="2.09" fill="#4a98fa" class="m"/>
<circle cx="111.75" cy="511.75" r="2.09" fill="#4a98fa" class="m"/>
<circle cx="110" cy="515" r="2.09" fill="#4a98fa" class="m"/>
<circle cx="107.5" cy="521.25" r="2.09" fill="#4a98fa" class="m"/>
<circle cx="112.4" cy="517.5" r="2.09" fill="#4a98fa" class="m"/>
<circle cx="121.75" cy="510" r="2.09" fill="#4a98fa" class="m"/>
<circle cx="125.75" cy="509.25" r="2.09" fill="#4a98fa" class="m"/>
<circle cx="123" cy="513" r="2.09" fill="#4a98fa" class="m"/>
<circle cx="126.25" cy="518.75" r="2.09" fill="#4a98fa" class="m"/>
<circle cx="121.75" cy="523" r="2.09" fill="#4a98fa" class="m"/>
<rect x="142.97" y="509.97" width="4.07" height="4.07" fill="#4a98fa" class="m"/>
<rect x="147.47" y="507.97" width="4.07" height="4.07" fill="#4a98fa" class="m"/>
<rect x="142.97" y="513.17" width="4.07" height="4.07" fill="#4a98fa" class="m"/>
<rect x="146.72" y="514.22" width="4.07" height="4.07" fill="#4a98fa" class="m"/>
<rect x="144.97" y="517.97" width="4.07" height="4.07" fill="#4a98fa" class="m"/>
<rect x="145.47" y="523.47" width="4.07" height="4.07" fill="#4a98fa" class="m"/>
<rect x="159.22" y="491.22" width="4.07" height="4.07" fill="#4a98fa" class="m"/>
<rect x="159.22" y="496.72" width="4.07" height="4.07" fill="#4a98fa" class="m"/>
<rect x="157.37" y="507.17" width="4.07" height="4.07" fill="#4a98fa" class="m"/>
<rect x="161.17" y="507.17" width="4.07" height="4.07" fill="#4a98fa" class="m"/>
<rect x="159.22" y="508.97" width="4.07" height="4.07" fill="#4a98fa" class="m"/>
<rect x="156.87" y="511.17" width="4.07" height="4.07" fill="#4a98fa" class="m"/>
<rect x="161.67" y="511.17" width="4.07" height="4.07" fill="#4a98fa" class="m"/>
<rect x="159.22" y="512.57" width="4.07" height="4.07" fill="#4a98fa" class="m"/>
<rect x="157.17" y="514.97" width="4.07" height="4.07" fill="#4a98fa" class="m"/>
<rect x="161.37" y="514.97" width="4.07" height="4.07" fill="#4a98fa" class="m"/>
<rect x="159.22" y="516.57" width="4.07" height="4.07" fill="#4a98fa" class="m"/>
<rect x="157.57" y="518.77" width="4.07" height="4.07" fill="#4a98fa" class="m"/>
<rect x="160.97" y="518.77" width="4.07" height="4.07" fill="#4a98fa" class="m"/>
<rect x="159.22" y="520.57" width="4.07" height="4.07" fill="#4a98fa" class="m"/>
<rect x="158.17" y="522.57" width="4.07" height="4.07" fill="#4a98fa" class="m"/>
<rect x="160.37" y="522.57" width="4.07" height="4.07" fill="#4a98fa" class="m"/>
<rect x="159.22" y="523.97" width="4.07" height="4.07" fill="#4a98fa" class="m"/>
<rect x="173.47" y="493.72" width="4.07" height="4.07" fill="#4a98fa" class="m"/>
<rect x="173.47" y="503.72" width="4.07" height="4.07" fill="#4a98fa" class="m"/>
<rect x="171.72" y="510.47" width="4.07" height="4.07" fill="#4a98fa" class="m"/>
<rect x="175.47" y="511.72" width="4.07" height="4.07" fill="#4a98fa" class="m"/>
<rect x="172.97" y="513.72" width="4.07" height="4.07" fill="#4a98fa" class="m"/>
<rect x="174.97" y="515.47" width="4.07" height="4.07" fill="#4a98fa" class="m"/>
<rect x="189.72" y="505.47" width="4.07" height="4.07" fill="#4a98fa" class="m"/>
<rect x="185.47" y="507.97" width="4.07" height="4.07" fill="#4a98fa" class="m"/>
<rect x="185.97" y="510.97" width="4.07" height="4.07" fill="#4a98fa" class="m"/>
<rect x="189.72" y="512.47" width="4.07" height="4.07" fill="#4a98fa" class="m"/>
<rect x="189.97" y="516.72" width="4.07" height="4.07" fill="#4a98fa" class="m"/>
<rect x="184.97" y="519.72" width="4.07" height="4.07" fill="#4a98fa" class="m"/>
<line x1="77.1" y1="515.5" x2="86.1" y2="515.5" stroke="#222" stroke-width="1.5" stroke-linecap="butt"/>
<line x1="91.4" y1="514.25" x2="100.4" y2="514.25" stroke="#222" stroke-width="1.5" stroke-linecap="butt"/>
<line x1="105.5" y1="513" x2="114.5" y2="513" stroke="#222" stroke-width="1.5" stroke-linecap="butt"/>
<line x1="119.5" y1="515" x2="128.5" y2="515" stroke="#222" stroke-width="1.5" stroke-linecap="butt"/>
<line x1="143" y1="517.5" x2="152" y2="517.5" stroke="#222" stroke-width="1.5" stroke-linecap="butt"/>
<line x1="156.75" y1="515.75" x2="165.75" y2="515.75" stroke="#222" stroke-width="1.5" stroke-linecap="butt"/>
<line x1="170.9" y1="510.5" x2="179.9" y2="510.5" stroke="#222" stroke-width="1.5" stroke-linecap="butt"/>
<line x1="185.1" y1="514.25" x2="194.1" y2="514.25" stroke="#222" stroke-width="1.5" stroke-linecap="butt"/>
<line x1="71.3" y1="444.5" x2="71.3" y2="532.5" stroke="#000" stroke-width="1.3" stroke-linecap="butt"/>
<line x1="68.1" y1="458.8" x2="71.3" y2="458.8" stroke="#000" stroke-width="1.1" stroke-linecap="butt"/>
<text x="66.2" y="460.92" font-size="5.9" font-family='"Liberation Sans", sans-serif' font-weight="bold" text-anchor="end" fill="#000" stroke="#000" stroke-width="0.22">10</text>
<line x1="68.1" y1="495.4" x2="71.3" y2="495.4" stroke="#000" stroke-width="1.1" stroke-linecap="butt"/>
<text x="66.2" y="497.52" font-size="5.9" font-family='"Liberation Sans", sans-serif' font-weight="bold" text-anchor="end" fill="#000" stroke="#000" stroke-width="0.22">5</text>
<line x1="68.1" y1="532" x2="71.3" y2="532" stroke="#000" stroke-width="1.1" stroke-linecap="butt"/>
<text x="66.2" y="534.12" font-size="5.9" font-family='"Liberation Sans", sans-serif' font-weight="bold" text-anchor="end" fill="#000" stroke="#000" stroke-width="0.22">0</text>
<line x1="70.8" y1="532" x2="201" y2="532" stroke="#000" stroke-width="1.3" stroke-linecap="butt"/>
<line x1="81.8" y1="532" x2="81.8" y2="534.4" stroke="#000" stroke-width="1.1" stroke-linecap="butt"/>
<line x1="95.7" y1="532" x2="95.7" y2="534.4" stroke="#000" stroke-width="1.1" stroke-linecap="butt"/>
<line x1="109.6" y1="532" x2="109.6" y2="534.4" stroke="#000" stroke-width="1.1" stroke-linecap="butt"/>
<line x1="123.4" y1="532" x2="123.4" y2="534.4" stroke="#000" stroke-width="1.1" stroke-linecap="butt"/>
<line x1="147" y1="532" x2="147" y2="534.4" stroke="#000" stroke-width="1.1" stroke-linecap="butt"/>
<line x1="161.2" y1="532" x2="161.2" y2="534.4" stroke="#000" stroke-width="1.1" stroke-linecap="butt"/>
<line x1="175.4" y1="532" x2="175.4" y2="534.4" stroke="#000" stroke-width="1.1" stroke-linecap="butt"/>
<line x1="189.2" y1="532" x2="189.2" y2="534.4" stroke="#000" stroke-width="1.1" stroke-linecap="butt"/>
<text x="84" y="539" font-size="6.7" font-family='"Liberation Sans", sans-serif' font-weight="bold" text-anchor="end" fill="#000" transform="rotate(-42 84 539)" stroke="#000" stroke-width="0.22">Healthy</text>
<text x="97.9" y="539" font-size="6.7" font-family='"Liberation Sans", sans-serif' font-weight="bold" text-anchor="end" fill="#000" transform="rotate(-42 97.9 539)" stroke="#000" stroke-width="0.22">No GVHD</text>
<text x="111.8" y="539" font-size="6.7" font-family='"Liberation Sans", sans-serif' font-weight="bold" text-anchor="end" fill="#000" transform="rotate(-42 111.8 539)" stroke="#000" stroke-width="0.22">Skin GVHD</text>
<text x="125.6" y="539" font-size="6.7" font-family='"Liberation Sans", sans-serif' font-weight="bold" text-anchor="end" fill="#000" transform="rotate(-42 125.6 539)" stroke="#000" stroke-width="0.22">Gut GVHD</text>
<text x="149.2" y="539" font-size="6.7" font-family='"Liberation Sans", sans-serif' font-weight="bold" text-anchor="end" fill="#000" transform="rotate(-42 149.2 539)" stroke="#000" stroke-width="0.22">Healthy</text>
<text x="163.4" y="539" font-size="6.7" font-family='"Liberation Sans", sans-serif' font-weight="bold" text-anchor="end" fill="#000" transform="rotate(-42 163.4 539)" stroke="#000" stroke-width="0.22">No GVHD</text>
<text x="177.6" y="539" font-size="6.7" font-family='"Liberation Sans", sans-serif' font-weight="bold" text-anchor="end" fill="#000" transform="rotate(-42 177.6 539)" stroke="#000" stroke-width="0.22">Skin GVHD</text>
<text x="191.4" y="539" font-size="6.7" font-family='"Liberation Sans", sans-serif' font-weight="bold" text-anchor="end" fill="#000" transform="rotate(-42 191.4 539)" stroke="#000" stroke-width="0.22">Gut GVHD</text>
<circle cx="214.7" cy="450.6" r="2.03" fill="#4a98fa" class="m"/>
<rect x="212.72" y="458.62" width="3.96" height="3.96" fill="#4a98fa" class="m"/>
<text x="224.2" y="452.9" font-size="7.1" font-family='"Liberation Sans", sans-serif' font-weight="normal" text-anchor="start" fill="#3c3c3c">BM</text>
<text x="224.2" y="462.8" font-size="7.1" font-family='"Liberation Sans", sans-serif' font-weight="normal" text-anchor="start" fill="#3c3c3c">PB</text>
<text x="260.6" y="435.8" font-size="11" font-family='"Liberation Serif", serif' font-weight="bold" text-anchor="start" fill="#000" stroke="#000" stroke-width="0.3">F</text>
<text x="248" y="516.5" font-size="7.6" font-family='"Liberation Serif", serif' font-weight="bold" text-anchor="start" fill="#000" transform="rotate(-90 248 516.5)" stroke="#000" stroke-width="0.3">Non-</text>
<text x="248" y="464.2" font-size="6.75" font-family='"Liberation Sans", sans-serif' font-weight="bold" text-anchor="end" fill="#000" transform="rotate(-90 248 464.2)" stroke="#000" stroke-width="0.22">MAIT cells</text>
<text x="258.9" y="487" font-size="6.75" font-family='"Liberation Sans", sans-serif' font-weight="bold" text-anchor="middle" fill="#000" transform="rotate(-90 258.9 487)" letter-spacing="0.3" stroke="#000" stroke-width="0.22">(10^8/L)</text>
<line x1="294.8" y1="500.3" x2="294.8" y2="528.1" stroke="#4a98fa" stroke-width="1.2" stroke-linecap="butt"/>
<line x1="287.5" y1="500.3" x2="302.1" y2="500.3" stroke="#4a98fa" stroke-width="1.2" stroke-linecap="butt"/>
<line x1="287.5" y1="528.1" x2="302.1" y2="528.1" stroke="#4a98fa" stroke-width="1.2" stroke-linecap="butt"/>
<circle cx="294.5" cy="450.3" r="2.03" fill="#4a98fa" class="m"/>
<circle cx="294.5" cy="473.9" r="2.03" fill="#4a98fa" class="m"/>
<circle cx="294.8" cy="497.1" r="2.03" fill="#4a98fa" class="m"/>
<circle cx="290.2" cy="502" r="2.03" fill="#4a98fa" class="m"/>
<circle cx="298.6" cy="503.3" r="2.03" fill="#4a98fa" class="m"/>
<circle cx="294.8" cy="505.2" r="2.03" fill="#4a98fa" class="m"/>
<circle cx="282.1" cy="507.1" r="2.03" fill="#4a98fa" class="m"/>
<circle cx="306.3" cy="507.9" r="2.03" fill="#4a98fa" class="m"/>
<circle cx="287.5" cy="509.8" r="2.03" fill="#4a98fa" class="m"/>
<circle cx="294.8" cy="510.6" r="2.03" fill="#4a98fa" class="m"/>
<circle cx="302.3" cy="509.8" r="2.03" fill="#4a98fa" class="m"/>
<circle cx="283.6" cy="512.6" r="2.03" fill="#4a98fa" class="m"/>
<circle cx="306" cy="512.8" r="2.03" fill="#4a98fa" class="m"/>
<circle cx="291" cy="513.6" r="2.03" fill="#4a98fa" class="m"/>
<circle cx="298.8" cy="513.4" r="2.03" fill="#4a98fa" class="m"/>
<circle cx="282.1" cy="517.6" r="2.03" fill="#4a98fa" class="m"/>
<circle cx="288.4" cy="517" r="2.03" fill="#4a98fa" class="m"/>
<circle cx="294.8" cy="517.6" r="2.03" fill="#4a98fa" class="m"/>
<circle cx="301.2" cy="517" r="2.03" fill="#4a98fa" class="m"/>
<circle cx="307.6" cy="517.6" r="2.03" fill="#4a98fa" class="m"/>
<circle cx="284.9" cy="520.8" r="2.03" fill="#4a98fa" class="m"/>
<circle cx="290.2" cy="520.3" r="2.03" fill="#4a98fa" class="m"/>
<circle cx="295.6" cy="521" r="2.03" fill="#4a98fa" class="m"/>
<circle cx="300.9" cy="520.3" r="2.03" fill="#4a98fa" class="m"/>
<circle cx="306.3" cy="520.8" r="2.03" fill="#4a98fa" class="m"/>
<circle cx="282.1" cy="524.6" r="2.03" fill="#4a98fa" class="m"/>
<circle cx="291.5" cy="524.2" r="2.03" fill="#4a98fa" class="m"/>
<circle cx="299.6" cy="524.4" r="2.03" fill="#4a98fa" class="m"/>
<circle cx="307.7" cy="524.6" r="2.03" fill="#4a98fa" class="m"/>
<circle cx="287.5" cy="526.8" r="2.03" fill="#4a98fa" class="m"/>
<circle cx="294.8" cy="526.6" r="2.03" fill="#4a98fa" class="m"/>
<circle cx="302" cy="527" r="2.03" fill="#4a98fa" class="m"/>
<circle cx="294.8" cy="529" r="2.03" fill="#4a98fa" class="m"/>
<line x1="339.5" y1="514" x2="339.5" y2="524" stroke="#4a98fa" stroke-width="1.2" stroke-linecap="butt"/>
<line x1="333.2" y1="514" x2="345.8" y2="514" stroke="#4a98fa" stroke-width="1.2" stroke-linecap="butt"/>
<line x1="333.2" y1="524" x2="345.8" y2="524" stroke="#4a98fa" stroke-width="1.2" stroke-linecap="butt"/>
<rect x="326.83" y="513.33" width="3.75" height="3.75" fill="#4a98fa" class="m"/>
<rect x="332.23" y="513.33" width="3.75" height="3.75" fill="#4a98fa" class="m"/>
<rect x="337.63" y="513.33" width="3.75" height="3.75" fill="#4a98fa" class="m"/>
<rect x="343.03" y="513.33" width="3.75" height="3.75" fill="#4a98fa" class="m"/>
<rect x="348.33" y="513.33" width="3.75" height="3.75" fill="#4a98fa" class="m"/>
<rect x="337.63" y="518.63" width="3.75" height="3.75" fill="#4a98fa" class="m"/>
<rect x="337.63" y="526.73" width="3.75" height="3.75" fill="#4a98fa" class="m"/>
<line x1="383.9" y1="512.7" x2="383.9" y2="521.3" stroke="#4a98fa" stroke-width="1.2" stroke-linecap="butt"/>
<line x1="377.6" y1="512.7" x2="390.2" y2="512.7" stroke="#4a98fa" stroke-width="1.2" stroke-linecap="butt"/>
<line x1="377.6" y1="521.3" x2="390.2" y2="521.3" stroke="#4a98fa" stroke-width="1.2" stroke-linecap="butt"/>
<path d="M383.9 507.72L385.98 511.57L381.82 511.57Z" fill="#4a98fa" class="m"/>
<path d="M379 512.02L381.08 515.87L376.92 515.87Z" fill="#4a98fa" class="m"/>
<path d="M389 512.02L391.08 515.87L386.92 515.87Z" fill="#4a98fa" class="m"/>
<path d="M383.9 515.22L385.98 519.07L381.82 519.07Z" fill="#4a98fa" class="m"/>
<path d="M373.7 517.12L375.78 520.97L371.62 520.97Z" fill="#4a98fa" class="m"/>
<path d="M395.2 517.92L397.28 521.77L393.12 521.77Z" fill="#4a98fa" class="m"/>
<path d="M379 519.82L381.08 523.67L376.92 523.67Z" fill="#4a98fa" class="m"/>
<path d="M388.5 519.82L390.58 523.67L386.42 523.67Z" fill="#4a98fa" class="m"/>
<path d="M383.9 522.72L385.98 526.57L381.82 526.57Z" fill="#4a98fa" class="m"/>
<path d="M389.8 522.52L391.88 526.37L387.72 526.37Z" fill="#4a98fa" class="m"/>
<line x1="280.2" y1="514.5" x2="309.8" y2="514.5" stroke="#000" stroke-width="1.45" stroke-linecap="butt"/>
<line x1="324.7" y1="518.7" x2="354.3" y2="518.7" stroke="#000" stroke-width="1.45" stroke-linecap="butt"/>
<line x1="369.1" y1="517.8" x2="398.7" y2="517.8" stroke="#000" stroke-width="1.45" stroke-linecap="butt"/>
<line x1="272.1" y1="442" x2="272.1" y2="532.5" stroke="#000" stroke-width="1.3" stroke-linecap="butt"/>
<line x1="269.6" y1="442.5" x2="272.1" y2="442.5" stroke="#000" stroke-width="1.1" stroke-linecap="butt"/>
<text x="268.1" y="444.62" font-size="5.9" font-family='"Liberation Sans", sans-serif' font-weight="bold" text-anchor="end" fill="#000" stroke="#000" stroke-width="0.22">20</text>
<line x1="269.6" y1="464.88" x2="272.1" y2="464.88" stroke="#000" stroke-width="1.1" stroke-linecap="butt"/>
<text x="268.1" y="467" font-size="5.9" font-family='"Liberation Sans", sans-serif' font-weight="bold" text-anchor="end" fill="#000" stroke="#000" stroke-width="0.22">15</text>
<line x1="269.6" y1="487.25" x2="272.1" y2="487.25" stroke="#000" stroke-width="1.1" stroke-linecap="butt"/>
<text x="268.1" y="489.37" font-size="5.9" font-family='"Liberation Sans", sans-serif' font-weight="bold" text-anchor="end" fill="#000" stroke="#000" stroke-width="0.22">10</text>
<line x1="269.6" y1="509.62" x2="272.1" y2="509.62" stroke="#000" stroke-width="1.1" stroke-linecap="butt"/>
<text x="268.1" y="511.75" font-size="5.9" font-family='"Liberation Sans", sans-serif' font-weight="bold" text-anchor="end" fill="#000" stroke="#000" stroke-width="0.22">5</text>
<line x1="269.6" y1="532" x2="272.1" y2="532" stroke="#000" stroke-width="1.1" stroke-linecap="butt"/>
<text x="268.1" y="534.12" font-size="5.9" font-family='"Liberation Sans", sans-serif' font-weight="bold" text-anchor="end" fill="#000" stroke="#000" stroke-width="0.22">0</text>
<line x1="271.6" y1="532" x2="404.6" y2="532" stroke="#000" stroke-width="1.3" stroke-linecap="butt"/>
<line x1="294.8" y1="532" x2="294.8" y2="534.4" stroke="#000" stroke-width="1.1" stroke-linecap="butt"/>
<line x1="339.5" y1="532" x2="339.5" y2="534.4" stroke="#000" stroke-width="1.1" stroke-linecap="butt"/>
<line x1="383.9" y1="532" x2="383.9" y2="534.4" stroke="#000" stroke-width="1.1" stroke-linecap="butt"/>
<text x="297" y="539.3" font-size="7" font-family='"Liberation Sans", sans-serif' font-weight="bold" text-anchor="end" fill="#000" transform="rotate(-45 297 539.3)" stroke="#000" stroke-width="0.22">No GVHD</text>
<text x="341.7" y="539.3" font-size="7" font-family='"Liberation Sans", sans-serif' font-weight="bold" text-anchor="end" fill="#000" transform="rotate(-45 341.7 539.3)" stroke="#000" stroke-width="0.22">Skin GVHD</text>
<text x="386.1" y="539.3" font-size="7" font-family='"Liberation Sans", sans-serif' font-weight="bold" text-anchor="end" fill="#000" transform="rotate(-45 386.1 539.3)" stroke="#000" stroke-width="0.22">Gut GVHD</text>
<text x="339.5" y="575.7" font-size="7.6" font-family='"Liberation Sans", sans-serif' font-weight="bold" text-anchor="middle" fill="#000" stroke="#000" stroke-width="0.22">Graft</text>
</svg>
</body></html>
